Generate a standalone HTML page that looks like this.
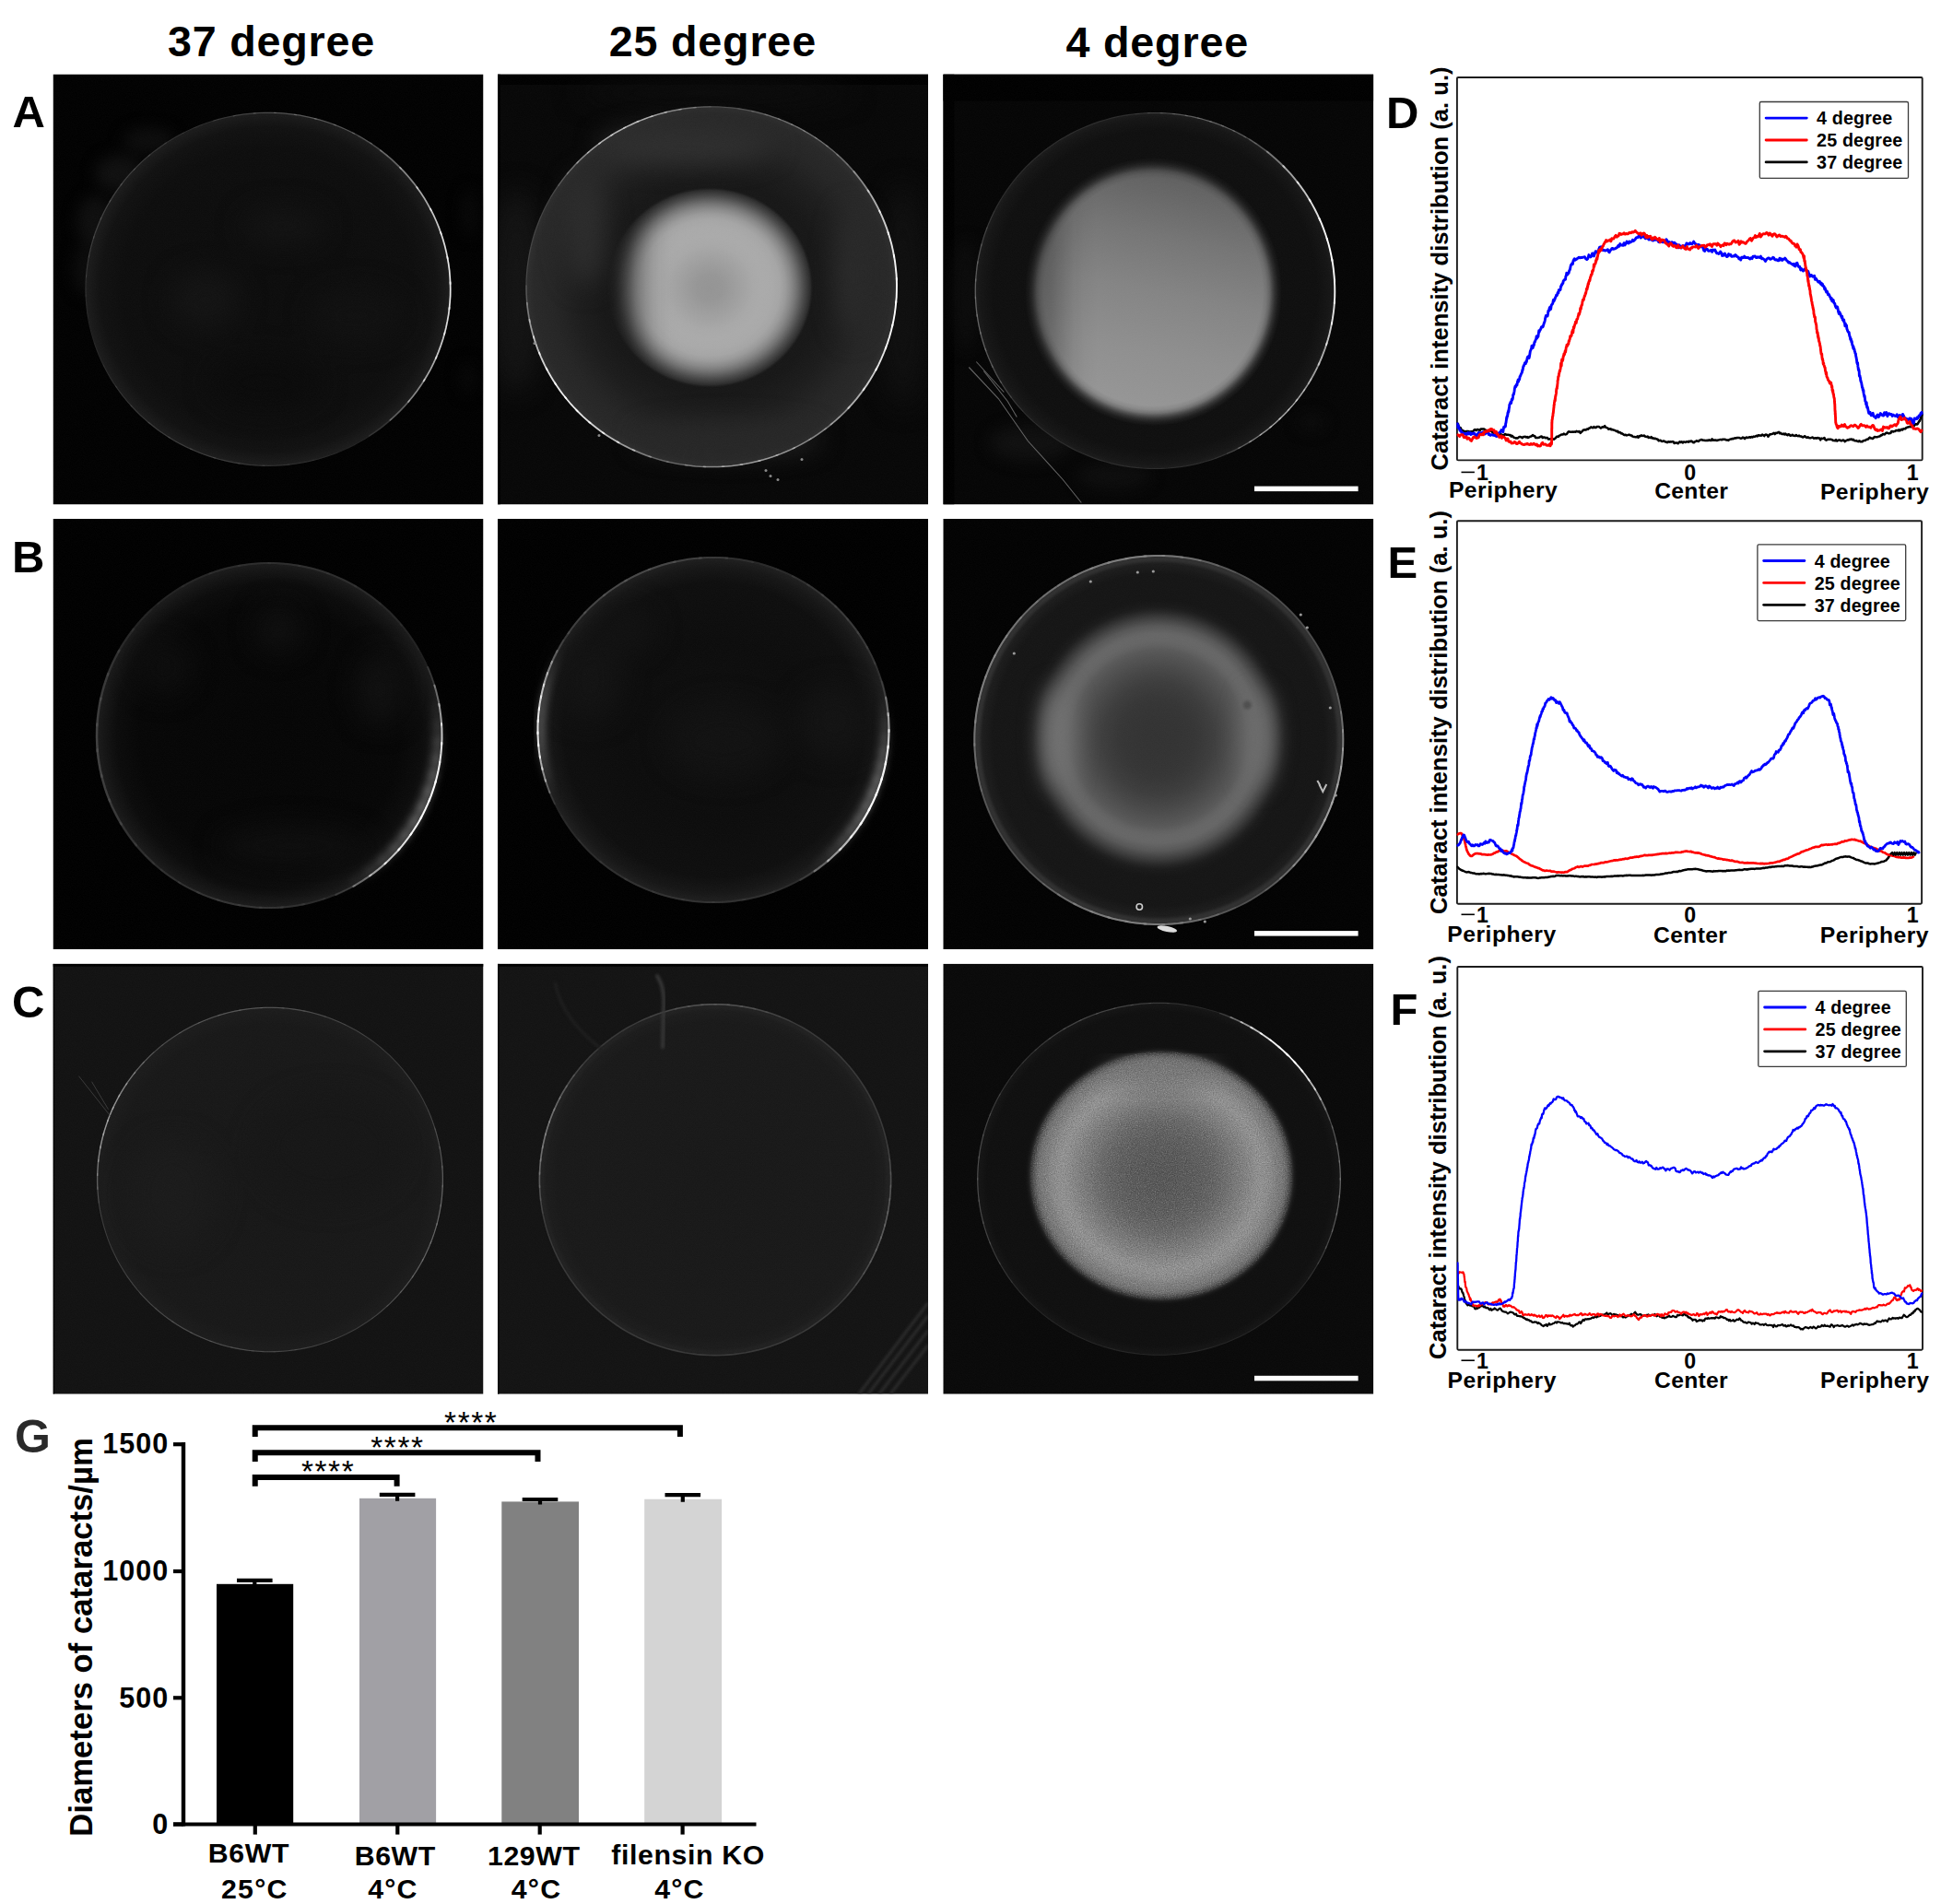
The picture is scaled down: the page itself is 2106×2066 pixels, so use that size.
<!DOCTYPE html>
<html><head><meta charset="utf-8"><title>Figure</title>
<style>
html,body{margin:0;padding:0;background:#fff}
body{width:2106px;height:2066px;overflow:hidden;position:relative;font-family:"Liberation Sans",sans-serif}
svg{position:absolute;left:0;top:0;display:block}
text{font-family:"Liberation Sans",sans-serif}
</style></head><body>
<svg width="2106" height="2066" viewBox="0 0 2106 2066">
<defs>
<filter id="b1" color-interpolation-filters="sRGB" x="-20%" y="-20%" width="140%" height="140%"><feGaussianBlur stdDeviation="0.6"/></filter>
<filter id="b2" color-interpolation-filters="sRGB" x="-20%" y="-20%" width="140%" height="140%"><feGaussianBlur stdDeviation="1.5"/></filter>
<filter id="b4" color-interpolation-filters="sRGB" x="-30%" y="-30%" width="160%" height="160%"><feGaussianBlur stdDeviation="4"/></filter>
<filter id="b8" color-interpolation-filters="sRGB" x="-50%" y="-50%" width="200%" height="200%"><feGaussianBlur stdDeviation="8"/></filter>
<filter id="b14" color-interpolation-filters="sRGB" x="-50%" y="-50%" width="200%" height="200%"><feGaussianBlur stdDeviation="14"/></filter>
<clipPath id="pc"><rect x="0" y="0" width="467" height="467"/></clipPath>
<filter id="nz" x="0" y="0" width="100%" height="100%" color-interpolation-filters="sRGB"><feTurbulence type="fractalNoise" baseFrequency="0.85" numOctaves="2" seed="7"/><feColorMatrix type="matrix" values="0 0 0 0 1  0 0 0 0 1  0 0 0 0 1  0.030 0 0 0 -0.007"/></filter>
<filter id="nzw" x="0" y="0" width="100%" height="100%" color-interpolation-filters="sRGB"><feTurbulence type="fractalNoise" baseFrequency="0.9" numOctaves="2" seed="11"/><feColorMatrix type="matrix" values="0 0 0 0 1  0 0 0 0 1  0 0 0 0 1  0.9 0 0 0 -0.33"/></filter>
<filter id="nzk" x="0" y="0" width="100%" height="100%" color-interpolation-filters="sRGB"><feTurbulence type="fractalNoise" baseFrequency="0.9" numOctaves="2" seed="23"/><feColorMatrix type="matrix" values="0 0 0 0 0  0 0 0 0 0  0 0 0 0 0  0 0.9 0 0 -0.33"/></filter>
<radialGradient id="rg1" cx="50%" cy="50%" r="50%"><stop offset="0.000" stop-color="#0c0c0c" stop-opacity="1.000"/><stop offset="0.800" stop-color="#0d0d0d" stop-opacity="1.000"/><stop offset="0.920" stop-color="#111111" stop-opacity="1.000"/><stop offset="0.972" stop-color="#181818" stop-opacity="1.000"/><stop offset="1.000" stop-color="#1c1c1c" stop-opacity="1.000"/></radialGradient>
<radialGradient id="rg2" cx="50%" cy="50%" r="50%"><stop offset="0.000" stop-color="#171717" stop-opacity="1.000"/><stop offset="0.600" stop-color="#171717" stop-opacity="1.000"/><stop offset="0.720" stop-color="#1c1c1c" stop-opacity="1.000"/><stop offset="0.860" stop-color="#252525" stop-opacity="1.000"/><stop offset="0.960" stop-color="#282828" stop-opacity="1.000"/><stop offset="1.000" stop-color="#2e2e2e" stop-opacity="1.000"/></radialGradient>
<radialGradient id="rg3" cx="50%" cy="50%" r="50%"><stop offset="0.000" stop-color="#949494" stop-opacity="1.000"/><stop offset="0.128" stop-color="#969696" stop-opacity="1.000"/><stop offset="0.275" stop-color="#9f9f9f" stop-opacity="1.000"/><stop offset="0.422" stop-color="#a8a8a8" stop-opacity="1.000"/><stop offset="0.514" stop-color="#aaaaaa" stop-opacity="1.000"/><stop offset="0.606" stop-color="#a9a9a9" stop-opacity="1.000"/><stop offset="0.679" stop-color="#a5a5a5" stop-opacity="1.000"/><stop offset="0.734" stop-color="#9a9a9a" stop-opacity="1.000"/><stop offset="0.789" stop-color="#878787" stop-opacity="1.000"/><stop offset="0.835" stop-color="#727272" stop-opacity="1.000"/><stop offset="0.872" stop-color="#5e5e5e" stop-opacity="1.000"/><stop offset="0.908" stop-color="#4a4a4a" stop-opacity="1.000"/><stop offset="0.945" stop-color="#383838" stop-opacity="1.000"/><stop offset="0.972" stop-color="#2a2a2a" stop-opacity="1.000"/><stop offset="1.000" stop-color="#1c1c1c" stop-opacity="0.000"/></radialGradient>
<linearGradient id="lg4" x1="0" y1="0" x2="1" y2="0"><stop offset="0.000" stop-color="#000" stop-opacity="1.000"/><stop offset="0.248" stop-color="#000" stop-opacity="1.000"/><stop offset="0.268" stop-color="#262626" stop-opacity="1.000"/><stop offset="0.283" stop-color="#4c4c4c" stop-opacity="1.000"/><stop offset="0.300" stop-color="#757575" stop-opacity="1.000"/><stop offset="0.321" stop-color="#a8a8a8" stop-opacity="1.000"/><stop offset="0.343" stop-color="#cfcfcf" stop-opacity="1.000"/><stop offset="0.360" stop-color="#e6e6e6" stop-opacity="1.000"/><stop offset="0.377" stop-color="#f4f4f4" stop-opacity="1.000"/><stop offset="0.398" stop-color="#fcfcfc" stop-opacity="1.000"/><stop offset="0.424" stop-color="#fff" stop-opacity="1.000"/><stop offset="1.000" stop-color="#fff" stop-opacity="1.000"/></linearGradient>
<mask id="mA2h"><rect x="0" y="0" width="467" height="467" fill="url(#lg4)"/></mask>
<radialGradient id="rg5" cx="50%" cy="50%" r="50%"><stop offset="0.000" stop-color="#0e0e0e" stop-opacity="1.000"/><stop offset="0.900" stop-color="#0f0f0f" stop-opacity="1.000"/><stop offset="0.970" stop-color="#151515" stop-opacity="1.000"/><stop offset="1.000" stop-color="#1b1b1b" stop-opacity="1.000"/></radialGradient>
<linearGradient id="lg6" x1="0.6" y1="0" x2="0.4" y2="1"><stop offset="0.000" stop-color="#565656" stop-opacity="1.000"/><stop offset="0.120" stop-color="#646464" stop-opacity="1.000"/><stop offset="0.300" stop-color="#757575" stop-opacity="1.000"/><stop offset="0.500" stop-color="#848484" stop-opacity="1.000"/><stop offset="0.720" stop-color="#8f8f8f" stop-opacity="1.000"/><stop offset="0.900" stop-color="#959595" stop-opacity="1.000"/><stop offset="1.000" stop-color="#979797" stop-opacity="1.000"/></linearGradient>
<radialGradient id="rg7" cx="50%" cy="50%" r="50%"><stop offset="0.000" stop-color="#fff" stop-opacity="1.000"/><stop offset="0.835" stop-color="#fff" stop-opacity="1.000"/><stop offset="0.865" stop-color="#e8e8e8" stop-opacity="1.000"/><stop offset="0.890" stop-color="#bcbcbc" stop-opacity="1.000"/><stop offset="0.909" stop-color="#808080" stop-opacity="1.000"/><stop offset="0.930" stop-color="#484848" stop-opacity="1.000"/><stop offset="0.955" stop-color="#1c1c1c" stop-opacity="1.000"/><stop offset="0.985" stop-color="#000" stop-opacity="1.000"/><stop offset="1.000" stop-color="#000" stop-opacity="1.000"/></radialGradient>
<mask id="mA3r"><ellipse cx="228.0" cy="236.0" rx="142" ry="148" fill="url(#rg7)"/></mask>
<linearGradient id="lg8" x1="0" y1="0" x2="1" y2="0"><stop offset="0.000" stop-color="#999" stop-opacity="1.000"/><stop offset="0.181" stop-color="#999" stop-opacity="1.000"/><stop offset="0.224" stop-color="#a6a6a6" stop-opacity="1.000"/><stop offset="0.250" stop-color="#b4b4b4" stop-opacity="1.000"/><stop offset="0.276" stop-color="#d0d0d0" stop-opacity="1.000"/><stop offset="0.303" stop-color="#ebebeb" stop-opacity="1.000"/><stop offset="0.327" stop-color="#f8f8f8" stop-opacity="1.000"/><stop offset="0.357" stop-color="#fff" stop-opacity="1.000"/><stop offset="1.000" stop-color="#fff" stop-opacity="1.000"/></linearGradient>
<mask id="mA3h"><rect x="0" y="0" width="467" height="467" fill="url(#lg8)"/></mask>
<radialGradient id="rg9" cx="50%" cy="50%" r="50%"><stop offset="0.000" stop-color="#050505" stop-opacity="1.000"/><stop offset="0.750" stop-color="#060606" stop-opacity="1.000"/><stop offset="0.880" stop-color="#0b0b0b" stop-opacity="1.000"/><stop offset="0.950" stop-color="#141414" stop-opacity="1.000"/><stop offset="1.000" stop-color="#1c1c1c" stop-opacity="1.000"/></radialGradient>
<radialGradient id="rg10" cx="50%" cy="50%" r="50%"><stop offset="0.000" stop-color="#0f0f0f" stop-opacity="1.000"/><stop offset="0.500" stop-color="#0c0c0c" stop-opacity="1.000"/><stop offset="0.850" stop-color="#0e0e0e" stop-opacity="1.000"/><stop offset="0.940" stop-color="#161616" stop-opacity="1.000"/><stop offset="1.000" stop-color="#202020" stop-opacity="1.000"/></radialGradient>
<radialGradient id="rg11" cx="50%" cy="50%" r="50%"><stop offset="0.000" stop-color="#151515" stop-opacity="1.000"/><stop offset="0.900" stop-color="#151515" stop-opacity="1.000"/><stop offset="0.960" stop-color="#1d1d1d" stop-opacity="1.000"/><stop offset="1.000" stop-color="#2a2a2a" stop-opacity="1.000"/></radialGradient>
<radialGradient id="rg12" cx="50%" cy="50%" r="50%"><stop offset="0.000" stop-color="#323232" stop-opacity="1.000"/><stop offset="0.137" stop-color="#333333" stop-opacity="1.000"/><stop offset="0.205" stop-color="#343434" stop-opacity="1.000"/><stop offset="0.260" stop-color="#353535" stop-opacity="1.000"/><stop offset="0.308" stop-color="#373737" stop-opacity="1.000"/><stop offset="0.356" stop-color="#3a3a3a" stop-opacity="1.000"/><stop offset="0.404" stop-color="#3d3d3d" stop-opacity="1.000"/><stop offset="0.452" stop-color="#424242" stop-opacity="1.000"/><stop offset="0.507" stop-color="#484848" stop-opacity="1.000"/><stop offset="0.555" stop-color="#4e4e4e" stop-opacity="1.000"/><stop offset="0.596" stop-color="#535353" stop-opacity="1.000"/><stop offset="0.637" stop-color="#595959" stop-opacity="1.000"/><stop offset="0.671" stop-color="#616161" stop-opacity="1.000"/><stop offset="0.699" stop-color="#656565" stop-opacity="1.000"/><stop offset="0.731" stop-color="#666666" stop-opacity="1.000"/><stop offset="0.753" stop-color="#656565" stop-opacity="1.000"/><stop offset="0.774" stop-color="#606060" stop-opacity="1.000"/><stop offset="0.795" stop-color="#5a5a5a" stop-opacity="1.000"/><stop offset="0.808" stop-color="#575757" stop-opacity="1.000"/><stop offset="0.829" stop-color="#4d4d4d" stop-opacity="1.000"/><stop offset="0.853" stop-color="#424242" stop-opacity="1.000"/><stop offset="0.880" stop-color="#353535" stop-opacity="1.000"/><stop offset="0.904" stop-color="#292929" stop-opacity="1.000"/><stop offset="0.925" stop-color="#202020" stop-opacity="1.000"/><stop offset="0.945" stop-color="#1a1a1a" stop-opacity="1.000"/><stop offset="0.973" stop-color="#171717" stop-opacity="1.000"/><stop offset="1.000" stop-color="#161616" stop-opacity="0.000"/></radialGradient>
<radialGradient id="rg13" cx="50%" cy="50%" r="50%"><stop offset="0.000" stop-color="#171717" stop-opacity="1.000"/><stop offset="0.900" stop-color="#181818" stop-opacity="1.000"/><stop offset="1.000" stop-color="#1c1c1c" stop-opacity="1.000"/></radialGradient>
<radialGradient id="rg14" cx="50%" cy="50%" r="50%"><stop offset="0.000" stop-color="#181818" stop-opacity="1.000"/><stop offset="0.900" stop-color="#191919" stop-opacity="1.000"/><stop offset="1.000" stop-color="#1e1e1e" stop-opacity="1.000"/></radialGradient>
<radialGradient id="rg15" cx="50%" cy="50%" r="50%"><stop offset="0.000" stop-color="#0f0f0f" stop-opacity="1.000"/><stop offset="0.950" stop-color="#0f0f0f" stop-opacity="1.000"/><stop offset="1.000" stop-color="#151515" stop-opacity="1.000"/></radialGradient>
<radialGradient id="rg16" cx="50%" cy="50%" r="50%"><stop offset="0.000" stop-color="#545454" stop-opacity="1.000"/><stop offset="0.103" stop-color="#565656" stop-opacity="1.000"/><stop offset="0.226" stop-color="#595959" stop-opacity="1.000"/><stop offset="0.308" stop-color="#5d5d5d" stop-opacity="1.000"/><stop offset="0.377" stop-color="#626262" stop-opacity="1.000"/><stop offset="0.425" stop-color="#676767" stop-opacity="1.000"/><stop offset="0.479" stop-color="#6e6e6e" stop-opacity="1.000"/><stop offset="0.534" stop-color="#777777" stop-opacity="1.000"/><stop offset="0.589" stop-color="#7f7f7f" stop-opacity="1.000"/><stop offset="0.637" stop-color="#878787" stop-opacity="1.000"/><stop offset="0.685" stop-color="#8f8f8f" stop-opacity="1.000"/><stop offset="0.726" stop-color="#939393" stop-opacity="1.000"/><stop offset="0.760" stop-color="#909090" stop-opacity="1.000"/><stop offset="0.798" stop-color="#8b8b8b" stop-opacity="1.000"/><stop offset="0.836" stop-color="#808080" stop-opacity="1.000"/><stop offset="0.873" stop-color="#797979" stop-opacity="1.000"/><stop offset="0.901" stop-color="#6e6e6e" stop-opacity="1.000"/><stop offset="0.921" stop-color="#5a5a5a" stop-opacity="1.000"/><stop offset="0.938" stop-color="#424242" stop-opacity="1.000"/><stop offset="0.953" stop-color="#2c2c2c" stop-opacity="1.000"/><stop offset="0.968" stop-color="#191919" stop-opacity="1.000"/><stop offset="0.983" stop-color="#111111" stop-opacity="1.000"/><stop offset="1.000" stop-color="#101010" stop-opacity="0.000"/></radialGradient>
<clipPath id="cC3"><ellipse cx="236.8" cy="230.0" rx="142.5" ry="134.9"/></clipPath>
<clipPath id="cpD"><rect x="1580.3" y="84.0" width="506.6" height="415.4"/></clipPath>
<clipPath id="cpE"><rect x="1580.3" y="565.2" width="506.0" height="415.5"/></clipPath>
<clipPath id="cpF"><rect x="1580.7" y="1049.0" width="506.5" height="415.8"/></clipPath>
</defs>
<g transform="translate(57.5,80.5)" clip-path="url(#pc)">
<rect x="0" y="0" width="467" height="467" fill="#010101"/>
<g filter="url(#b8)">
<ellipse cx="72.0" cy="108.0" rx="26.0" ry="20.0" fill="#0f0f0f" />
<ellipse cx="46.0" cy="160.0" rx="20.0" ry="28.0" fill="#0e0e0e" />
<ellipse cx="104.0" cy="72.0" rx="28.0" ry="14.0" fill="#0c0c0c" />
<ellipse cx="36.0" cy="212.0" rx="14.0" ry="28.0" fill="#0b0b0b" />
<ellipse cx="452.0" cy="150.0" rx="8.0" ry="26.0" fill="#080808" />
<ellipse cx="450.0" cy="330.0" rx="8.0" ry="18.0" fill="#070707" />
</g>
<ellipse cx="233.5" cy="233.3" rx="198.0" ry="191.5" fill="url(#rg1)" />
<g filter="url(#b14)">
<ellipse cx="250.0" cy="165.0" rx="45.0" ry="20.0" fill="#121212" />
<ellipse cx="165.0" cy="245.0" rx="38.0" ry="32.0" fill="#131313" />
<ellipse cx="330.0" cy="262.0" rx="50.0" ry="30.0" fill="#101010" />
<ellipse cx="230.0" cy="335.0" rx="60.0" ry="30.0" fill="#0a0a0a" />
</g>
<path d="M431.5 233.3 L431.4 240.0 L431.0 246.7 L430.4 253.3 L429.6 260.0 L428.5 266.6 L427.2 273.1 L425.6 279.6 L423.8 286.1 L421.8 292.5 L419.6 298.8 L417.1 305.0 L414.4 311.2 L411.5 317.2 L408.3 323.2 L405.0 329.1 L401.4 334.8 L397.6 340.4 L393.7 345.9 L389.5 351.2 L385.2 356.4 L380.6 361.4 L375.9 366.3 L371.0 371.1 L366.0 375.6 L360.8 380.0 L355.4 384.2 L349.9 388.2 L344.2 392.1 L338.4 395.7 L332.5 399.1 L326.5 402.4 L320.3 405.4 L314.0 408.2 L307.7 410.9 L301.2 413.3 L294.7 415.4 L288.1 417.4 L281.4 419.1 L274.7 420.6 L267.9 421.9 L261.1 422.9 L254.2 423.8 L247.3 424.3 L240.4 424.7 L233.5 424.8 L226.6 424.7 L219.7 424.3 L212.8 423.8 L205.9 422.9 L199.1 421.9 L192.3 420.6 L185.6 419.1 L178.9 417.4 L172.3 415.4 L165.8 413.3 L159.3 410.9 L153.0 408.2 L146.7 405.4 L140.5 402.4 L134.5 399.1 L128.6 395.7 L122.8 392.1 L117.1 388.2 L111.6 384.2 L106.2 380.0 L101.0 375.6 L96.0 371.1 L91.1 366.3 L86.4 361.4 L81.8 356.4 L77.5 351.2 L73.3 345.9 L69.4 340.4 L65.6 334.8 L62.0 329.1 L58.7 323.2 L55.5 317.2 L52.6 311.2 L49.9 305.0 L47.4 298.8 L45.2 292.5 L43.2 286.1 L41.4 279.6 L39.8 273.1 L38.5 266.6 L37.4 260.0 L36.6 253.3 L36.0 246.7 L35.6 240.0 L35.5 233.3 L35.6 226.6 L36.0 219.9 L36.6 213.3 L37.4 206.6 L38.5 200.0 L39.8 193.5 L41.4 187.0 L43.2 180.5 L45.2 174.1 L47.4 167.8 L49.9 161.6 L52.6 155.4 L55.5 149.4 L58.7 143.4 L62.0 137.6 L65.6 131.8 L69.4 126.2 L73.3 120.7 L77.5 115.4 L81.8 110.2 L86.4 105.2 L91.1 100.3 L96.0 95.5 L101.0 91.0 L106.2 86.6 L111.6 82.4 L117.1 78.4 L122.8 74.5 L128.6 70.9 L134.5 67.5 L140.5 64.2 L146.7 61.2 L153.0 58.4 L159.3 55.7 L165.8 53.3 L172.3 51.2 L178.9 49.2 L185.6 47.5 L192.3 46.0 L199.1 44.7 L205.9 43.7 L212.8 42.8 L219.7 42.3 L226.6 41.9 L233.5 41.8 L240.4 41.9 L247.3 42.3 L254.2 42.8 L261.1 43.7 L267.9 44.7 L274.7 46.0 L281.4 47.5 L288.1 49.2 L294.7 51.2 L301.2 53.3 L307.7 55.7 L314.0 58.4 L320.3 61.2 L326.5 64.2 L332.5 67.5 L338.4 70.9 L344.2 74.5 L349.9 78.4 L355.4 82.4 L360.8 86.6 L366.0 91.0 L371.0 95.5 L375.9 100.3 L380.6 105.2 L385.2 110.2 L389.5 115.4 L393.7 120.7 L397.6 126.2 L401.4 131.8 L405.0 137.5 L408.3 143.4 L411.5 149.4 L414.4 155.4 L417.1 161.6 L419.6 167.8 L421.8 174.1 L423.8 180.5 L425.6 187.0 L427.2 193.5 L428.5 200.0 L429.6 206.6 L430.4 213.3 L431.0 219.9 L431.4 226.6 L431.5 233.3" fill="none" stroke="#222222" stroke-width="1.20" stroke-opacity="1.000" stroke-linecap="round" filter="url(#b1)"/>
<g filter="url(#b1)"><path d="M331.5 67.2 L338.0 71.0 L344.5 75.1 L350.7 79.3 L356.8 83.8" fill="none" stroke="#f4f4f4" stroke-width="1.70" stroke-opacity="0.085" stroke-linecap="round" /><path d="M355.2 82.6 L361.1 87.3 L366.9 92.2 L372.4 97.3 L377.8 102.6" fill="none" stroke="#f4f4f4" stroke-width="1.70" stroke-opacity="0.281" stroke-linecap="round" /><path d="M376.4 101.1 L381.6 106.6 L386.5 112.2 L391.3 118.1 L395.8 124.1" fill="none" stroke="#f4f4f4" stroke-width="1.70" stroke-opacity="0.475" stroke-linecap="round" /><path d="M394.6 122.4 L398.9 128.5 L403.0 134.8 L406.8 141.3 L410.3 147.8" fill="none" stroke="#f4f4f4" stroke-width="1.70" stroke-opacity="0.649" stroke-linecap="round" /><path d="M409.4 146.0 L412.8 152.7 L415.9 159.5 L418.7 166.4 L421.2 173.4" fill="none" stroke="#f4f4f4" stroke-width="1.70" stroke-opacity="0.791" stroke-linecap="round" /><path d="M420.6 171.5 L422.9 178.5 L425.0 185.7 L426.7 192.9 L428.2 200.1" fill="none" stroke="#f4f4f4" stroke-width="1.70" stroke-opacity="0.892" stroke-linecap="round" /><path d="M427.8 198.2 L429.1 205.5 L430.1 212.8 L430.7 220.2 L431.1 227.6" fill="none" stroke="#f4f4f4" stroke-width="1.70" stroke-opacity="0.943" stroke-linecap="round" /><path d="M431.0 225.6 L431.2 233.0 L431.1 240.4 L430.6 247.8 L429.9 255.2" fill="none" stroke="#f4f4f4" stroke-width="1.70" stroke-opacity="0.943" stroke-linecap="round" /><path d="M430.1 253.2 L429.2 260.6 L427.9 267.9 L426.4 275.2 L424.6 282.4" fill="none" stroke="#f4f4f4" stroke-width="1.70" stroke-opacity="0.892" stroke-linecap="round" /><path d="M425.1 280.4 L423.1 287.6 L420.7 294.6 L418.1 301.6 L415.3 308.5" fill="none" stroke="#f4f4f4" stroke-width="1.70" stroke-opacity="0.791" stroke-linecap="round" /><path d="M416.1 306.6 L413.0 313.4 L409.7 320.1 L406.0 326.6 L402.2 333.0" fill="none" stroke="#f4f4f4" stroke-width="1.70" stroke-opacity="0.649" stroke-linecap="round" /><path d="M403.2 331.3 L399.2 337.6 L394.9 343.7 L390.3 349.7 L385.5 355.5" fill="none" stroke="#f4f4f4" stroke-width="1.70" stroke-opacity="0.475" stroke-linecap="round" /><path d="M386.9 354.0 L381.9 359.6 L376.7 365.1 L371.3 370.4 L365.8 375.4" fill="none" stroke="#f4f4f4" stroke-width="1.70" stroke-opacity="0.281" stroke-linecap="round" /><path d="M367.3 374.1 L361.5 379.0 L355.6 383.7 L349.5 388.1 L343.2 392.4" fill="none" stroke="#f4f4f4" stroke-width="1.70" stroke-opacity="0.085" stroke-linecap="round" /></g>
<g ><path d="M133.6 68.0 L138.9 65.1 L144.3 62.3 L149.7 59.8 L155.3 57.4" fill="none" stroke="#8a8a8a" stroke-width="1.20" stroke-opacity="0.019" stroke-linecap="round" /><path d="M153.4 58.2 L159.0 55.9 L164.6 53.8 L170.3 51.8 L176.1 50.0" fill="none" stroke="#8a8a8a" stroke-width="1.20" stroke-opacity="0.095" stroke-linecap="round" /><path d="M174.1 50.6 L180.0 48.9 L185.8 47.4 L191.8 46.1 L197.7 45.0" fill="none" stroke="#8a8a8a" stroke-width="1.20" stroke-opacity="0.194" stroke-linecap="round" /><path d="M195.7 45.3 L201.6 44.3 L207.7 43.4 L213.7 42.8 L219.7 42.3" fill="none" stroke="#8a8a8a" stroke-width="1.20" stroke-opacity="0.297" stroke-linecap="round" /><path d="M217.7 42.4 L223.7 42.0 L229.8 41.8 L235.9 41.8 L241.9 42.0" fill="none" stroke="#8a8a8a" stroke-width="1.20" stroke-opacity="0.390" stroke-linecap="round" /><path d="M239.9 41.9 L245.9 42.2 L252.0 42.6 L258.0 43.3 L264.0 44.1" fill="none" stroke="#8a8a8a" stroke-width="1.20" stroke-opacity="0.459" stroke-linecap="round" /><path d="M262.0 43.8 L268.0 44.7 L273.9 45.8 L279.9 47.1 L285.7 48.6" fill="none" stroke="#8a8a8a" stroke-width="1.20" stroke-opacity="0.495" stroke-linecap="round" /><path d="M283.7 48.1 L289.6 49.6 L295.4 51.4 L301.1 53.3 L306.8 55.4" fill="none" stroke="#8a8a8a" stroke-width="1.20" stroke-opacity="0.495" stroke-linecap="round" /><path d="M304.9 54.7 L310.5 56.9 L316.1 59.2 L321.5 61.8 L326.9 64.5" fill="none" stroke="#8a8a8a" stroke-width="1.20" stroke-opacity="0.459" stroke-linecap="round" /><path d="M325.1 63.5 L330.4 66.3 L335.7 69.3 L340.8 72.4 L345.9 75.6" fill="none" stroke="#8a8a8a" stroke-width="1.20" stroke-opacity="0.390" stroke-linecap="round" /><path d="M344.2 74.5 L349.2 77.9 L354.0 81.4 L358.8 85.0 L363.4 88.8" fill="none" stroke="#8a8a8a" stroke-width="1.20" stroke-opacity="0.297" stroke-linecap="round" /><path d="M361.9 87.5 L366.4 91.4 L370.9 95.4 L375.2 99.5 L379.3 103.8" fill="none" stroke="#8a8a8a" stroke-width="1.20" stroke-opacity="0.194" stroke-linecap="round" /><path d="M377.9 102.3 L382.0 106.7 L386.0 111.1 L389.8 115.7 L393.4 120.4" fill="none" stroke="#8a8a8a" stroke-width="1.20" stroke-opacity="0.095" stroke-linecap="round" /><path d="M392.2 118.8 L395.7 123.5 L399.2 128.4 L402.4 133.4 L405.5 138.4" fill="none" stroke="#8a8a8a" stroke-width="1.20" stroke-opacity="0.019" stroke-linecap="round" /></g>
<g ><path d="M42.5 283.8 L41.0 278.1 L39.7 272.4 L38.5 266.6 L37.6 260.8" fill="none" stroke="#6a6a6a" stroke-width="1.20" stroke-opacity="0.017" stroke-linecap="round" /><path d="M37.9 262.8 L37.0 257.0 L36.4 251.2 L35.9 245.3 L35.6 239.5" fill="none" stroke="#6a6a6a" stroke-width="1.20" stroke-opacity="0.085" stroke-linecap="round" /><path d="M35.7 241.5 L35.5 235.6 L35.5 229.7 L35.7 223.8 L36.1 218.0" fill="none" stroke="#6a6a6a" stroke-width="1.20" stroke-opacity="0.175" stroke-linecap="round" /><path d="M36.0 220.0 L36.5 214.1 L37.2 208.3 L38.1 202.5 L39.1 196.7" fill="none" stroke="#6a6a6a" stroke-width="1.20" stroke-opacity="0.268" stroke-linecap="round" /><path d="M38.8 198.7 L40.0 192.9 L41.3 187.2 L42.9 181.5 L44.6 175.9" fill="none" stroke="#6a6a6a" stroke-width="1.20" stroke-opacity="0.351" stroke-linecap="round" /><path d="M44.0 177.8 L45.8 172.2 L47.9 166.7 L50.1 161.2 L52.4 155.8" fill="none" stroke="#6a6a6a" stroke-width="1.20" stroke-opacity="0.413" stroke-linecap="round" /><path d="M51.6 157.6 L54.1 152.3 L56.7 147.0 L59.6 141.8 L62.5 136.7" fill="none" stroke="#6a6a6a" stroke-width="1.20" stroke-opacity="0.446" stroke-linecap="round" /><path d="M61.5 138.4 L64.6 133.4 L67.8 128.4 L71.3 123.5 L74.8 118.8" fill="none" stroke="#6a6a6a" stroke-width="1.20" stroke-opacity="0.446" stroke-linecap="round" /><path d="M73.6 120.4 L77.2 115.7 L81.0 111.1 L85.0 106.7 L89.1 102.3" fill="none" stroke="#6a6a6a" stroke-width="1.20" stroke-opacity="0.413" stroke-linecap="round" /><path d="M87.7 103.8 L91.8 99.5 L96.1 95.4 L100.6 91.4 L105.1 87.5" fill="none" stroke="#6a6a6a" stroke-width="1.20" stroke-opacity="0.351" stroke-linecap="round" /><path d="M103.6 88.8 L108.2 85.0 L113.0 81.4 L117.8 77.9 L122.8 74.5" fill="none" stroke="#6a6a6a" stroke-width="1.20" stroke-opacity="0.268" stroke-linecap="round" /><path d="M121.1 75.6 L126.2 72.4 L131.3 69.3 L136.6 66.3 L141.9 63.5" fill="none" stroke="#6a6a6a" stroke-width="1.20" stroke-opacity="0.175" stroke-linecap="round" /><path d="M140.1 64.5 L145.5 61.8 L150.9 59.2 L156.5 56.9 L162.1 54.7" fill="none" stroke="#6a6a6a" stroke-width="1.20" stroke-opacity="0.085" stroke-linecap="round" /><path d="M160.2 55.4 L165.9 53.3 L171.6 51.4 L177.4 49.6 L183.3 48.1" fill="none" stroke="#6a6a6a" stroke-width="1.20" stroke-opacity="0.017" stroke-linecap="round" /></g>
<g ><path d="M333.4 398.6 L327.0 402.1 L320.5 405.3 L313.9 408.3 L307.2 411.1" fill="none" stroke="#5a5a5a" stroke-width="1.20" stroke-opacity="0.017" stroke-linecap="round" /><path d="M309.1 410.3 L302.3 412.9 L295.4 415.2 L288.4 417.3 L281.4 419.1" fill="none" stroke="#5a5a5a" stroke-width="1.20" stroke-opacity="0.085" stroke-linecap="round" /><path d="M283.4 418.6 L276.3 420.3 L269.1 421.7 L261.9 422.8 L254.6 423.7" fill="none" stroke="#5a5a5a" stroke-width="1.20" stroke-opacity="0.175" stroke-linecap="round" /><path d="M256.7 423.5 L249.4 424.2 L242.1 424.6 L234.8 424.8 L227.5 424.7" fill="none" stroke="#5a5a5a" stroke-width="1.20" stroke-opacity="0.268" stroke-linecap="round" /><path d="M229.6 424.8 L222.3 424.5 L215.0 424.0 L207.8 423.2 L200.5 422.1" fill="none" stroke="#5a5a5a" stroke-width="1.20" stroke-opacity="0.351" stroke-linecap="round" /><path d="M202.6 422.4 L195.4 421.2 L188.2 419.7 L181.2 418.0 L174.1 416.0" fill="none" stroke="#5a5a5a" stroke-width="1.20" stroke-opacity="0.413" stroke-linecap="round" /><path d="M176.1 416.6 L169.2 414.4 L162.3 412.0 L155.5 409.3 L148.9 406.4" fill="none" stroke="#5a5a5a" stroke-width="1.20" stroke-opacity="0.446" stroke-linecap="round" /><path d="M150.8 407.3 L144.2 404.2 L137.7 400.9 L131.4 397.4 L125.2 393.6" fill="none" stroke="#5a5a5a" stroke-width="1.20" stroke-opacity="0.446" stroke-linecap="round" /><path d="M126.9 394.7 L120.9 390.8 L114.9 386.7 L109.2 382.3 L103.6 377.8" fill="none" stroke="#5a5a5a" stroke-width="1.20" stroke-opacity="0.413" stroke-linecap="round" /><path d="M105.1 379.1 L99.7 374.4 L94.4 369.6 L89.3 364.5 L84.4 359.3" fill="none" stroke="#5a5a5a" stroke-width="1.20" stroke-opacity="0.351" stroke-linecap="round" /><path d="M85.7 360.8 L81.0 355.4 L76.4 349.9 L72.1 344.2 L68.0 338.4" fill="none" stroke="#5a5a5a" stroke-width="1.20" stroke-opacity="0.268" stroke-linecap="round" /><path d="M69.1 340.0 L65.1 334.1 L61.4 328.0 L57.9 321.8 L54.7 315.5" fill="none" stroke="#5a5a5a" stroke-width="1.20" stroke-opacity="0.175" stroke-linecap="round" /><path d="M55.6 317.3 L52.5 310.9 L49.6 304.4 L47.1 297.8 L44.7 291.1" fill="none" stroke="#5a5a5a" stroke-width="1.20" stroke-opacity="0.085" stroke-linecap="round" /><path d="M45.4 293.0 L43.2 286.2 L41.3 279.4 L39.7 272.5 L38.3 265.6" fill="none" stroke="#5a5a5a" stroke-width="1.20" stroke-opacity="0.017" stroke-linecap="round" /></g>
<rect x="0" y="0" width="467" height="467" filter="url(#nz)"/>
</g>
<g transform="translate(540.0,80.5)" clip-path="url(#pc)">
<rect x="0" y="0" width="467" height="467" fill="#070707"/>
<rect x="0" y="0" width="467" height="11.5" fill="#000"/><rect x="0" y="0" width="3" height="467" fill="#000"/>
<g filter="url(#b14)">
<ellipse cx="20.0" cy="235.0" rx="30.0" ry="110.0" fill="#131313" />
<ellipse cx="440.0" cy="240.0" rx="26.0" ry="120.0" fill="#0f0f0f" />
<ellipse cx="235.0" cy="20.0" rx="150.0" ry="14.0" fill="#0b0b0b" />
</g>
<ellipse cx="232.0" cy="230.7" rx="201.0" ry="195.4" fill="url(#rg2)" />
<g filter="url(#b14)">
<ellipse cx="205.0" cy="78.0" rx="95.0" ry="20.0" fill="#2f2f2f" />
<ellipse cx="95.0" cy="170.0" rx="22.0" ry="60.0" fill="#2c2c2c" />
<ellipse cx="385.0" cy="215.0" rx="18.0" ry="70.0" fill="#2a2a2a" />
<ellipse cx="250.0" cy="395.0" rx="100.0" ry="16.0" fill="#272727" />
</g>
<g mask="url(#mA2h)">
<ellipse cx="230.0" cy="231.5" rx="112.5" ry="109.0" fill="url(#rg3)" />
</g>
<path d="M433.0 230.7 L432.9 237.5 L432.5 244.3 L431.9 251.1 L431.0 257.9 L429.9 264.6 L428.6 271.3 L427.0 278.0 L425.2 284.6 L423.2 291.1 L420.9 297.5 L418.4 303.9 L415.6 310.2 L412.7 316.4 L409.5 322.4 L406.1 328.4 L402.5 334.2 L398.6 340.0 L394.6 345.6 L390.4 351.0 L386.0 356.3 L381.4 361.4 L376.6 366.4 L371.6 371.3 L366.5 375.9 L361.2 380.4 L355.7 384.7 L350.1 388.8 L344.4 392.7 L338.5 396.4 L332.5 399.9 L326.4 403.2 L320.1 406.3 L313.8 409.2 L307.3 411.9 L300.7 414.3 L294.1 416.5 L287.4 418.5 L280.6 420.3 L273.8 421.8 L266.9 423.1 L260.0 424.2 L253.0 425.0 L246.0 425.6 L239.0 426.0 L232.0 426.1 L225.0 426.0 L218.0 425.6 L211.0 425.0 L204.0 424.2 L197.1 423.1 L190.2 421.8 L183.4 420.3 L176.6 418.5 L169.9 416.5 L163.3 414.3 L156.7 411.9 L150.2 409.2 L143.9 406.3 L137.6 403.2 L131.5 399.9 L125.5 396.4 L119.6 392.7 L113.9 388.8 L108.3 384.7 L102.8 380.4 L97.5 375.9 L92.4 371.3 L87.4 366.4 L82.6 361.4 L78.0 356.3 L73.6 351.0 L69.4 345.6 L65.4 340.0 L61.5 334.2 L57.9 328.4 L54.5 322.4 L51.3 316.4 L48.4 310.2 L45.6 303.9 L43.1 297.5 L40.8 291.1 L38.8 284.6 L37.0 278.0 L35.4 271.3 L34.1 264.6 L33.0 257.9 L32.1 251.1 L31.5 244.3 L31.1 237.5 L31.0 230.7 L31.1 223.9 L31.5 217.1 L32.1 210.3 L33.0 203.5 L34.1 196.8 L35.4 190.1 L37.0 183.4 L38.8 176.8 L40.8 170.3 L43.1 163.9 L45.6 157.5 L48.4 151.2 L51.3 145.0 L54.5 139.0 L57.9 133.0 L61.5 127.2 L65.4 121.4 L69.4 115.8 L73.6 110.4 L78.0 105.1 L82.6 100.0 L87.4 95.0 L92.4 90.1 L97.5 85.5 L102.8 81.0 L108.3 76.7 L113.9 72.6 L119.6 68.7 L125.5 65.0 L131.5 61.5 L137.6 58.2 L143.9 55.1 L150.2 52.2 L156.7 49.5 L163.3 47.1 L169.9 44.9 L176.6 42.9 L183.4 41.1 L190.2 39.6 L197.1 38.3 L204.0 37.2 L211.0 36.4 L218.0 35.8 L225.0 35.4 L232.0 35.3 L239.0 35.4 L246.0 35.8 L253.0 36.4 L260.0 37.2 L266.9 38.3 L273.8 39.6 L280.6 41.1 L287.4 42.9 L294.1 44.9 L300.7 47.1 L307.3 49.5 L313.8 52.2 L320.1 55.1 L326.4 58.2 L332.5 61.5 L338.5 65.0 L344.4 68.7 L350.1 72.6 L355.7 76.7 L361.2 81.0 L366.5 85.5 L371.6 90.1 L376.6 95.0 L381.4 100.0 L386.0 105.1 L390.4 110.4 L394.6 115.8 L398.6 121.4 L402.5 127.2 L406.1 133.0 L409.5 139.0 L412.7 145.0 L415.6 151.2 L418.4 157.5 L420.9 163.9 L423.2 170.3 L425.2 176.8 L427.0 183.4 L428.6 190.1 L429.9 196.8 L431.0 203.5 L431.9 210.3 L432.5 217.1 L432.9 223.9 L433.0 230.7" fill="none" stroke="#444444" stroke-width="1.30" stroke-opacity="1.000" stroke-linecap="round" filter="url(#b1)"/>
<g filter="url(#b1)"><path d="M368.3 87.1 L373.4 91.8 L378.3 96.7 L383.1 101.8 L387.6 107.0" fill="none" stroke="#ffffff" stroke-width="1.90" stroke-opacity="0.139" stroke-linecap="round" /><path d="M386.3 105.4 L390.7 110.8 L394.9 116.2 L398.9 121.9 L402.7 127.6" fill="none" stroke="#ffffff" stroke-width="1.90" stroke-opacity="0.369" stroke-linecap="round" /><path d="M401.6 125.9 L405.3 131.7 L408.8 137.7 L412.0 143.8 L415.0 149.9" fill="none" stroke="#ffffff" stroke-width="1.90" stroke-opacity="0.567" stroke-linecap="round" /><path d="M414.1 148.1 L417.0 154.3 L419.6 160.7 L422.1 167.1 L424.2 173.6" fill="none" stroke="#ffffff" stroke-width="1.90" stroke-opacity="0.732" stroke-linecap="round" /><path d="M423.6 171.7 L425.6 178.2 L427.4 184.8 L428.9 191.5 L430.2 198.3" fill="none" stroke="#ffffff" stroke-width="1.90" stroke-opacity="0.861" stroke-linecap="round" /><path d="M429.8 196.2 L431.0 203.0 L431.8 209.8 L432.5 216.6 L432.9 223.4" fill="none" stroke="#ffffff" stroke-width="1.90" stroke-opacity="0.949" stroke-linecap="round" /><path d="M432.8 221.4 L433.0 228.2 L432.9 235.1 L432.7 241.9 L432.1 248.7" fill="none" stroke="#ffffff" stroke-width="1.90" stroke-opacity="0.994" stroke-linecap="round" /><path d="M432.3 246.7 L431.6 253.5 L430.7 260.3 L429.5 267.1 L428.1 273.8" fill="none" stroke="#ffffff" stroke-width="1.90" stroke-opacity="0.994" stroke-linecap="round" /><path d="M428.5 271.8 L426.9 278.4 L425.1 285.0 L423.0 291.6 L420.7 298.0" fill="none" stroke="#ffffff" stroke-width="1.90" stroke-opacity="0.949" stroke-linecap="round" /><path d="M421.4 296.1 L418.9 302.5 L416.2 308.8 L413.3 315.1 L410.2 321.2" fill="none" stroke="#ffffff" stroke-width="1.90" stroke-opacity="0.861" stroke-linecap="round" /><path d="M411.1 319.4 L407.8 325.4 L404.3 331.3 L400.6 337.1 L396.6 342.8" fill="none" stroke="#ffffff" stroke-width="1.90" stroke-opacity="0.732" stroke-linecap="round" /><path d="M397.8 341.1 L393.7 346.7 L389.5 352.1 L385.0 357.4 L380.3 362.6" fill="none" stroke="#ffffff" stroke-width="1.90" stroke-opacity="0.567" stroke-linecap="round" /><path d="M381.7 361.0 L377.0 366.1 L372.0 370.9 L366.8 375.6 L361.5 380.1" fill="none" stroke="#ffffff" stroke-width="1.90" stroke-opacity="0.369" stroke-linecap="round" /><path d="M363.1 378.8 L357.7 383.2 L352.2 387.3 L346.4 391.3 L340.6 395.1" fill="none" stroke="#ffffff" stroke-width="1.90" stroke-opacity="0.139" stroke-linecap="round" /></g>
<g filter="url(#b1)"><path d="M184.4 420.5 L179.3 419.3 L174.2 417.8 L169.1 416.3 L164.1 414.6" fill="none" stroke="#ffffff" stroke-width="1.80" stroke-opacity="0.101" stroke-linecap="round" /><path d="M166.1 415.3 L161.2 413.6 L156.2 411.7 L151.4 409.7 L146.6 407.6" fill="none" stroke="#ffffff" stroke-width="1.80" stroke-opacity="0.297" stroke-linecap="round" /><path d="M148.5 408.4 L143.7 406.2 L139.0 403.9 L134.3 401.5 L129.7 398.9" fill="none" stroke="#ffffff" stroke-width="1.80" stroke-opacity="0.479" stroke-linecap="round" /><path d="M131.5 399.9 L127.0 397.3 L122.5 394.6 L118.1 391.7 L113.8 388.8" fill="none" stroke="#ffffff" stroke-width="1.80" stroke-opacity="0.636" stroke-linecap="round" /><path d="M115.5 389.9 L111.3 386.9 L107.1 383.8 L103.0 380.5 L99.0 377.2" fill="none" stroke="#ffffff" stroke-width="1.80" stroke-opacity="0.762" stroke-linecap="round" /><path d="M100.5 378.5 L96.6 375.1 L92.7 371.6 L89.0 368.0 L85.3 364.3" fill="none" stroke="#ffffff" stroke-width="1.80" stroke-opacity="0.849" stroke-linecap="round" /><path d="M86.8 365.8 L83.1 362.0 L79.6 358.2 L76.3 354.2 L73.0 350.2" fill="none" stroke="#ffffff" stroke-width="1.80" stroke-opacity="0.894" stroke-linecap="round" /><path d="M74.3 351.8 L71.0 347.7 L67.9 343.6 L64.9 339.3 L62.0 335.0" fill="none" stroke="#ffffff" stroke-width="1.80" stroke-opacity="0.894" stroke-linecap="round" /><path d="M63.2 336.8 L60.4 332.4 L57.7 328.0 L55.1 323.5 L52.7 318.9" fill="none" stroke="#ffffff" stroke-width="1.80" stroke-opacity="0.849" stroke-linecap="round" /><path d="M53.6 320.8 L51.2 316.2 L49.0 311.5 L46.9 306.8 L44.9 302.0" fill="none" stroke="#ffffff" stroke-width="1.80" stroke-opacity="0.762" stroke-linecap="round" /><path d="M45.7 303.9 L43.7 299.2 L42.0 294.3 L40.3 289.4 L38.8 284.5" fill="none" stroke="#ffffff" stroke-width="1.80" stroke-opacity="0.636" stroke-linecap="round" /><path d="M39.4 286.5 L37.9 281.5 L36.6 276.6 L35.4 271.5 L34.4 266.5" fill="none" stroke="#ffffff" stroke-width="1.80" stroke-opacity="0.479" stroke-linecap="round" /><path d="M34.8 268.5 L33.8 263.5 L33.0 258.4 L32.3 253.3 L31.8 248.2" fill="none" stroke="#ffffff" stroke-width="1.80" stroke-opacity="0.297" stroke-linecap="round" /><path d="M32.0 250.2 L31.5 245.1 L31.2 240.0 L31.0 234.8 L31.0 229.7" fill="none" stroke="#ffffff" stroke-width="1.80" stroke-opacity="0.101" stroke-linecap="round" /></g>
<g ><path d="M57.4 133.9 L59.7 130.1 L62.1 126.3 L64.5 122.6 L67.1 119.0" fill="none" stroke="#d0d0d0" stroke-width="1.50" stroke-opacity="0.030" stroke-linecap="round" /><path d="M65.9 120.7 L68.5 117.1 L71.2 113.5 L73.9 110.0 L76.8 106.6" fill="none" stroke="#d0d0d0" stroke-width="1.50" stroke-opacity="0.152" stroke-linecap="round" /><path d="M75.4 108.1 L78.3 104.7 L81.3 101.4 L84.3 98.1 L87.4 94.9" fill="none" stroke="#d0d0d0" stroke-width="1.50" stroke-opacity="0.310" stroke-linecap="round" /><path d="M86.0 96.4 L89.1 93.2 L92.4 90.1 L95.7 87.1 L99.0 84.2" fill="none" stroke="#d0d0d0" stroke-width="1.50" stroke-opacity="0.476" stroke-linecap="round" /><path d="M97.5 85.5 L100.9 82.6 L104.3 79.8 L107.9 77.0 L111.5 74.3" fill="none" stroke="#d0d0d0" stroke-width="1.50" stroke-opacity="0.623" stroke-linecap="round" /><path d="M109.8 75.6 L113.4 72.9 L117.1 70.4 L120.9 67.9 L124.7 65.5" fill="none" stroke="#d0d0d0" stroke-width="1.50" stroke-opacity="0.734" stroke-linecap="round" /><path d="M122.9 66.6 L126.7 64.2 L130.6 62.0 L134.6 59.8 L138.6 57.7" fill="none" stroke="#d0d0d0" stroke-width="1.50" stroke-opacity="0.792" stroke-linecap="round" /><path d="M136.7 58.7 L140.7 56.6 L144.8 54.7 L148.9 52.8 L153.0 51.0" fill="none" stroke="#d0d0d0" stroke-width="1.50" stroke-opacity="0.792" stroke-linecap="round" /><path d="M151.1 51.8 L155.3 50.1 L159.5 48.5 L163.7 46.9 L168.0 45.5" fill="none" stroke="#d0d0d0" stroke-width="1.50" stroke-opacity="0.734" stroke-linecap="round" /><path d="M166.0 46.1 L170.3 44.7 L174.7 43.4 L179.0 42.2 L183.4 41.1" fill="none" stroke="#d0d0d0" stroke-width="1.50" stroke-opacity="0.623" stroke-linecap="round" /><path d="M181.4 41.6 L185.8 40.5 L190.2 39.6 L194.7 38.7 L199.1 37.9" fill="none" stroke="#d0d0d0" stroke-width="1.50" stroke-opacity="0.476" stroke-linecap="round" /><path d="M197.0 38.3 L201.5 37.6 L206.0 36.9 L210.5 36.4 L215.0 36.0" fill="none" stroke="#d0d0d0" stroke-width="1.50" stroke-opacity="0.310" stroke-linecap="round" /><path d="M212.9 36.2 L217.5 35.8 L222.0 35.5 L226.5 35.4 L231.0 35.3" fill="none" stroke="#d0d0d0" stroke-width="1.50" stroke-opacity="0.152" stroke-linecap="round" /><path d="M228.9 35.3 L233.5 35.3 L238.0 35.4 L242.5 35.6 L247.1 35.9" fill="none" stroke="#d0d0d0" stroke-width="1.50" stroke-opacity="0.030" stroke-linecap="round" /></g>
<g ><path d="M397.3 341.9 L394.0 346.3 L390.7 350.6 L387.2 354.8 L383.7 358.9" fill="none" stroke="#c0c0c0" stroke-width="1.50" stroke-opacity="0.026" stroke-linecap="round" /><path d="M385.0 357.4 L381.4 361.4 L377.6 365.4 L373.8 369.2 L369.8 373.0" fill="none" stroke="#c0c0c0" stroke-width="1.50" stroke-opacity="0.133" stroke-linecap="round" /><path d="M371.3 371.6 L367.3 375.2 L363.1 378.8 L358.9 382.3 L354.5 385.6" fill="none" stroke="#c0c0c0" stroke-width="1.50" stroke-opacity="0.272" stroke-linecap="round" /><path d="M356.2 384.3 L351.8 387.6 L347.3 390.8 L342.7 393.8 L338.0 396.7" fill="none" stroke="#c0c0c0" stroke-width="1.50" stroke-opacity="0.416" stroke-linecap="round" /><path d="M339.8 395.6 L335.1 398.4 L330.3 401.1 L325.5 403.7 L320.5 406.1" fill="none" stroke="#c0c0c0" stroke-width="1.50" stroke-opacity="0.545" stroke-linecap="round" /><path d="M322.4 405.2 L317.4 407.6 L312.4 409.8 L307.3 411.9 L302.1 413.8" fill="none" stroke="#c0c0c0" stroke-width="1.50" stroke-opacity="0.642" stroke-linecap="round" /><path d="M304.1 413.1 L298.9 415.0 L293.6 416.7 L288.3 418.3 L283.0 419.7" fill="none" stroke="#c0c0c0" stroke-width="1.50" stroke-opacity="0.693" stroke-linecap="round" /><path d="M285.0 419.2 L279.7 420.5 L274.3 421.7 L268.9 422.8 L263.4 423.7" fill="none" stroke="#c0c0c0" stroke-width="1.50" stroke-opacity="0.693" stroke-linecap="round" /><path d="M265.5 423.4 L260.0 424.2 L254.5 424.9 L249.0 425.4 L243.5 425.8" fill="none" stroke="#c0c0c0" stroke-width="1.50" stroke-opacity="0.642" stroke-linecap="round" /><path d="M245.6 425.7 L240.0 425.9 L234.5 426.1 L229.0 426.1 L223.4 425.9" fill="none" stroke="#c0c0c0" stroke-width="1.50" stroke-opacity="0.545" stroke-linecap="round" /><path d="M225.5 426.0 L220.0 425.8 L214.5 425.4 L209.0 424.8 L203.5 424.1" fill="none" stroke="#c0c0c0" stroke-width="1.50" stroke-opacity="0.416" stroke-linecap="round" /><path d="M205.6 424.4 L200.1 423.6 L194.6 422.7 L189.2 421.6 L183.8 420.4" fill="none" stroke="#c0c0c0" stroke-width="1.50" stroke-opacity="0.272" stroke-linecap="round" /><path d="M185.9 420.9 L180.5 419.6 L175.2 418.1 L169.9 416.5 L164.6 414.8" fill="none" stroke="#c0c0c0" stroke-width="1.50" stroke-opacity="0.133" stroke-linecap="round" /><path d="M166.6 415.5 L161.4 413.6 L156.2 411.7 L151.1 409.6 L146.1 407.4" fill="none" stroke="#c0c0c0" stroke-width="1.50" stroke-opacity="0.026" stroke-linecap="round" /></g>
<g ><path d="M230.9 35.3 L235.2 35.3 L239.5 35.4 L243.8 35.6 L248.1 35.9" fill="none" stroke="#909090" stroke-width="1.30" stroke-opacity="0.022" stroke-linecap="round" /><path d="M246.0 35.8 L250.2 36.1 L254.5 36.5 L258.8 37.0 L263.0 37.6" fill="none" stroke="#909090" stroke-width="1.30" stroke-opacity="0.114" stroke-linecap="round" /><path d="M260.9 37.3 L265.1 38.0 L269.4 38.7 L273.6 39.5 L277.8 40.4" fill="none" stroke="#909090" stroke-width="1.30" stroke-opacity="0.233" stroke-linecap="round" /><path d="M275.7 40.0 L279.9 40.9 L284.0 42.0 L288.1 43.1 L292.3 44.3" fill="none" stroke="#909090" stroke-width="1.30" stroke-opacity="0.357" stroke-linecap="round" /><path d="M290.2 43.7 L294.3 44.9 L298.4 46.3 L302.4 47.7 L306.4 49.2" fill="none" stroke="#909090" stroke-width="1.30" stroke-opacity="0.467" stroke-linecap="round" /><path d="M304.5 48.4 L308.4 50.0 L312.4 51.6 L316.3 53.3 L320.2 55.1" fill="none" stroke="#909090" stroke-width="1.30" stroke-opacity="0.550" stroke-linecap="round" /><path d="M318.3 54.2 L322.1 56.0 L325.9 57.9 L329.7 59.9 L333.4 62.0" fill="none" stroke="#909090" stroke-width="1.30" stroke-opacity="0.594" stroke-linecap="round" /><path d="M331.6 61.0 L335.3 63.1 L338.9 65.3 L342.5 67.5 L346.1 69.8" fill="none" stroke="#909090" stroke-width="1.30" stroke-opacity="0.594" stroke-linecap="round" /><path d="M344.4 68.7 L347.9 71.0 L351.4 73.5 L354.8 76.0 L358.1 78.6" fill="none" stroke="#909090" stroke-width="1.30" stroke-opacity="0.550" stroke-linecap="round" /><path d="M356.5 77.3 L359.8 79.9 L363.1 82.6 L366.3 85.3 L369.5 88.2" fill="none" stroke="#909090" stroke-width="1.30" stroke-opacity="0.467" stroke-linecap="round" /><path d="M367.9 86.8 L371.1 89.6 L374.1 92.5 L377.1 95.5 L380.1 98.5" fill="none" stroke="#909090" stroke-width="1.30" stroke-opacity="0.357" stroke-linecap="round" /><path d="M378.6 97.0 L381.5 100.1 L384.4 103.2 L387.1 106.4 L389.8 109.7" fill="none" stroke="#909090" stroke-width="1.30" stroke-opacity="0.233" stroke-linecap="round" /><path d="M388.5 108.1 L391.1 111.3 L393.7 114.7 L396.2 118.0 L398.7 121.5" fill="none" stroke="#909090" stroke-width="1.30" stroke-opacity="0.114" stroke-linecap="round" /><path d="M397.5 119.8 L399.9 123.2 L402.2 126.7 L404.4 130.3 L406.6 133.9" fill="none" stroke="#909090" stroke-width="1.30" stroke-opacity="0.022" stroke-linecap="round" /></g>
<circle cx="330" cy="418" r="1.5" fill="#888" filter="url(#b1)"/>
<circle cx="296" cy="436" r="1.5" fill="#888" filter="url(#b1)"/>
<circle cx="304" cy="440" r="1.5" fill="#888" filter="url(#b1)"/>
<circle cx="291" cy="430" r="1.5" fill="#888" filter="url(#b1)"/>
<circle cx="40" cy="292" r="1.5" fill="#888" filter="url(#b1)"/>
<circle cx="110" cy="392" r="1.5" fill="#888" filter="url(#b1)"/>
<rect x="0" y="0" width="467" height="467" filter="url(#nz)"/>
</g>
<g transform="translate(1023.3,80.5)" clip-path="url(#pc)">
<rect x="0" y="0" width="467" height="467" fill="#050505"/>
<rect x="0" y="0" width="467" height="29" fill="#000"/><rect x="0" y="0" width="12" height="467" fill="#000"/>
<g filter="url(#b8)">
<ellipse cx="95.0" cy="400.0" rx="45.0" ry="20.0" fill="#0f0f0f" />
<ellipse cx="185.0" cy="436.0" rx="40.0" ry="14.0" fill="#0d0d0d" />
<ellipse cx="400.0" cy="378.0" rx="14.0" ry="8.0" fill="#0c0c0c" />
<ellipse cx="25.0" cy="240.0" rx="14.0" ry="60.0" fill="#0b0b0b" />
</g>
<ellipse cx="230.0" cy="235.0" rx="195.0" ry="193.0" fill="url(#rg5)" />
<g mask="url(#mA3h)"><ellipse cx="228.0" cy="236.0" rx="142" ry="148" fill="url(#lg6)" mask="url(#mA3r)"/></g>
<path d="M425.0 235.0 L424.9 241.7 L424.5 248.5 L423.9 255.2 L423.1 261.9 L422.0 268.5 L420.7 275.1 L419.2 281.7 L417.4 288.2 L415.5 294.6 L413.2 301.0 L410.8 307.3 L408.1 313.5 L405.3 319.6 L402.2 325.6 L398.9 331.5 L395.4 337.3 L391.7 342.9 L387.8 348.4 L383.7 353.8 L379.4 359.1 L374.9 364.1 L370.3 369.1 L365.5 373.8 L360.5 378.4 L355.3 382.8 L350.1 387.1 L344.6 391.1 L339.0 395.0 L333.3 398.7 L327.5 402.1 L321.5 405.4 L315.5 408.5 L309.3 411.3 L303.0 413.9 L296.7 416.4 L290.3 418.6 L283.7 420.5 L277.2 422.3 L270.5 423.8 L263.9 425.1 L257.1 426.1 L250.4 426.9 L243.6 427.5 L236.8 427.9 L230.0 428.0 L223.2 427.9 L216.4 427.5 L209.6 426.9 L202.9 426.1 L196.1 425.1 L189.5 423.8 L182.8 422.3 L176.3 420.5 L169.7 418.6 L163.3 416.4 L157.0 413.9 L150.7 411.3 L144.5 408.5 L138.5 405.4 L132.5 402.1 L126.7 398.7 L121.0 395.0 L115.4 391.1 L109.9 387.1 L104.7 382.8 L99.5 378.4 L94.5 373.8 L89.7 369.1 L85.1 364.1 L80.6 359.1 L76.3 353.8 L72.2 348.4 L68.3 342.9 L64.6 337.3 L61.1 331.5 L57.8 325.6 L54.7 319.6 L51.9 313.5 L49.2 307.3 L46.8 301.0 L44.5 294.6 L42.6 288.2 L40.8 281.7 L39.3 275.1 L38.0 268.5 L36.9 261.9 L36.1 255.2 L35.5 248.5 L35.1 241.7 L35.0 235.0 L35.1 228.3 L35.5 221.5 L36.1 214.8 L36.9 208.1 L38.0 201.5 L39.3 194.9 L40.8 188.3 L42.6 181.8 L44.5 175.4 L46.8 169.0 L49.2 162.7 L51.9 156.5 L54.7 150.4 L57.8 144.4 L61.1 138.5 L64.6 132.7 L68.3 127.1 L72.2 121.6 L76.3 116.2 L80.6 110.9 L85.1 105.9 L89.7 100.9 L94.5 96.2 L99.5 91.6 L104.7 87.2 L109.9 82.9 L115.4 78.9 L121.0 75.0 L126.7 71.3 L132.5 67.9 L138.5 64.6 L144.5 61.5 L150.7 58.7 L157.0 56.1 L163.3 53.6 L169.7 51.4 L176.3 49.5 L182.8 47.7 L189.5 46.2 L196.1 44.9 L202.9 43.9 L209.6 43.1 L216.4 42.5 L223.2 42.1 L230.0 42.0 L236.8 42.1 L243.6 42.5 L250.4 43.1 L257.1 43.9 L263.9 44.9 L270.5 46.2 L277.2 47.7 L283.7 49.5 L290.3 51.4 L296.7 53.6 L303.0 56.1 L309.3 58.7 L315.5 61.5 L321.5 64.6 L327.5 67.9 L333.3 71.3 L339.0 75.0 L344.6 78.9 L350.1 82.9 L355.3 87.2 L360.5 91.6 L365.5 96.2 L370.3 100.9 L374.9 105.9 L379.4 110.9 L383.7 116.2 L387.8 121.6 L391.7 127.1 L395.4 132.7 L398.9 138.5 L402.2 144.4 L405.3 150.4 L408.1 156.5 L410.8 162.7 L413.2 169.0 L415.5 175.4 L417.4 181.8 L419.2 188.3 L420.7 194.9 L422.0 201.5 L423.1 208.1 L423.9 214.8 L424.5 221.5 L424.9 228.3 L425.0 235.0" fill="none" stroke="#2c2c2c" stroke-width="1.20" stroke-opacity="1.000" stroke-linecap="round" filter="url(#b1)"/>
<g filter="url(#b1)"><path d="M332.5 70.8 L337.8 74.2 L343.0 77.7 L348.1 81.5 L353.1 85.3" fill="none" stroke="#ffffff" stroke-width="1.90" stroke-opacity="0.139" stroke-linecap="round" /><path d="M351.5 84.1 L356.4 88.1 L361.2 92.2 L365.8 96.5 L370.3 101.0" fill="none" stroke="#ffffff" stroke-width="1.90" stroke-opacity="0.369" stroke-linecap="round" /><path d="M368.9 99.5 L373.3 104.1 L377.5 108.7 L381.6 113.6 L385.5 118.5" fill="none" stroke="#ffffff" stroke-width="1.90" stroke-opacity="0.567" stroke-linecap="round" /><path d="M384.2 116.9 L388.0 121.9 L391.7 127.1 L395.1 132.3 L398.4 137.7" fill="none" stroke="#ffffff" stroke-width="1.90" stroke-opacity="0.732" stroke-linecap="round" /><path d="M397.4 136.0 L400.5 141.4 L403.5 147.0 L406.3 152.6 L408.9 158.3" fill="none" stroke="#ffffff" stroke-width="1.90" stroke-opacity="0.861" stroke-linecap="round" /><path d="M408.1 156.5 L410.6 162.2 L412.9 168.1 L415.0 174.0 L416.9 180.0" fill="none" stroke="#ffffff" stroke-width="1.90" stroke-opacity="0.949" stroke-linecap="round" /><path d="M416.3 178.1 L418.1 184.1 L419.7 190.2 L421.0 196.3 L422.2 202.5" fill="none" stroke="#ffffff" stroke-width="1.90" stroke-opacity="0.994" stroke-linecap="round" /><path d="M421.9 200.5 L422.9 206.7 L423.7 212.9 L424.3 219.2 L424.8 225.4" fill="none" stroke="#ffffff" stroke-width="1.90" stroke-opacity="0.994" stroke-linecap="round" /><path d="M424.6 223.4 L424.9 229.7 L425.0 236.0 L424.9 242.2 L424.5 248.5" fill="none" stroke="#ffffff" stroke-width="1.90" stroke-opacity="0.949" stroke-linecap="round" /><path d="M424.7 246.5 L424.2 252.8 L423.5 259.0 L422.6 265.2 L421.5 271.4" fill="none" stroke="#ffffff" stroke-width="1.90" stroke-opacity="0.861" stroke-linecap="round" /><path d="M421.9 269.4 L420.6 275.6 L419.2 281.7 L417.6 287.8 L415.7 293.8" fill="none" stroke="#ffffff" stroke-width="1.90" stroke-opacity="0.732" stroke-linecap="round" /><path d="M416.4 291.8 L414.4 297.8 L412.2 303.7 L409.9 309.5 L407.3 315.3" fill="none" stroke="#ffffff" stroke-width="1.90" stroke-opacity="0.567" stroke-linecap="round" /><path d="M408.2 313.5 L405.5 319.2 L402.6 324.8 L399.6 330.3 L396.4 335.7" fill="none" stroke="#ffffff" stroke-width="1.90" stroke-opacity="0.369" stroke-linecap="round" /><path d="M397.4 333.9 L394.1 339.3 L390.6 344.5 L386.9 349.6 L383.0 354.6" fill="none" stroke="#ffffff" stroke-width="1.90" stroke-opacity="0.139" stroke-linecap="round" /></g>
<g ><path d="M419.5 280.7 L418.5 284.5 L417.4 288.2 L416.3 291.9 L415.1 295.6" fill="none" stroke="#cccccc" stroke-width="1.40" stroke-opacity="0.030" stroke-linecap="round" /><path d="M415.8 293.7 L414.5 297.4 L413.2 301.0 L411.9 304.6 L410.4 308.2" fill="none" stroke="#cccccc" stroke-width="1.40" stroke-opacity="0.152" stroke-linecap="round" /><path d="M411.2 306.4 L409.7 309.9 L408.1 313.5 L406.5 317.0 L404.8 320.5" fill="none" stroke="#cccccc" stroke-width="1.40" stroke-opacity="0.310" stroke-linecap="round" /><path d="M405.7 318.7 L404.0 322.2 L402.2 325.6 L400.3 329.0 L398.4 332.4" fill="none" stroke="#cccccc" stroke-width="1.40" stroke-opacity="0.476" stroke-linecap="round" /><path d="M399.4 330.6 L397.4 334.0 L395.4 337.3 L393.3 340.5 L391.1 343.8" fill="none" stroke="#cccccc" stroke-width="1.40" stroke-opacity="0.623" stroke-linecap="round" /><path d="M392.2 342.1 L390.0 345.3 L387.8 348.4 L385.4 351.6 L383.0 354.6" fill="none" stroke="#cccccc" stroke-width="1.40" stroke-opacity="0.734" stroke-linecap="round" /><path d="M384.3 353.0 L381.9 356.1 L379.4 359.1 L376.8 362.0 L374.2 364.9" fill="none" stroke="#cccccc" stroke-width="1.40" stroke-opacity="0.792" stroke-linecap="round" /><path d="M375.6 363.4 L373.0 366.3 L370.3 369.1 L367.5 371.8 L364.7 374.5" fill="none" stroke="#cccccc" stroke-width="1.40" stroke-opacity="0.792" stroke-linecap="round" /><path d="M366.2 373.1 L363.4 375.8 L360.5 378.4 L357.5 381.0 L354.6 383.5" fill="none" stroke="#cccccc" stroke-width="1.40" stroke-opacity="0.734" stroke-linecap="round" /><path d="M356.1 382.2 L353.1 384.7 L350.1 387.1 L346.9 389.4 L343.8 391.7" fill="none" stroke="#cccccc" stroke-width="1.40" stroke-opacity="0.623" stroke-linecap="round" /><path d="M345.4 390.5 L342.3 392.8 L339.0 395.0 L335.8 397.1 L332.5 399.2" fill="none" stroke="#cccccc" stroke-width="1.40" stroke-opacity="0.476" stroke-linecap="round" /><path d="M334.2 398.1 L330.9 400.2 L327.5 402.1 L324.1 404.0 L320.6 405.9" fill="none" stroke="#cccccc" stroke-width="1.40" stroke-opacity="0.310" stroke-linecap="round" /><path d="M322.4 404.9 L319.0 406.7 L315.5 408.5 L311.9 410.1 L308.4 411.7" fill="none" stroke="#cccccc" stroke-width="1.40" stroke-opacity="0.152" stroke-linecap="round" /><path d="M310.2 410.9 L306.7 412.5 L303.0 413.9 L299.4 415.4 L295.7 416.7" fill="none" stroke="#cccccc" stroke-width="1.40" stroke-opacity="0.030" stroke-linecap="round" /></g>
<g ><path d="M100.3 379.1 L96.3 375.5 L92.5 371.8 L88.7 368.0 L85.1 364.1" fill="none" stroke="#7a7a7a" stroke-width="1.30" stroke-opacity="0.026" stroke-linecap="round" /><path d="M86.4 365.6 L82.8 361.6 L79.4 357.6 L76.0 353.4 L72.8 349.2" fill="none" stroke="#7a7a7a" stroke-width="1.30" stroke-opacity="0.133" stroke-linecap="round" /><path d="M74.0 350.8 L70.8 346.5 L67.8 342.1 L64.9 337.7 L62.1 333.1" fill="none" stroke="#7a7a7a" stroke-width="1.30" stroke-opacity="0.272" stroke-linecap="round" /><path d="M63.1 334.9 L60.4 330.3 L57.8 325.6 L55.4 320.9 L53.0 316.1" fill="none" stroke="#7a7a7a" stroke-width="1.30" stroke-opacity="0.416" stroke-linecap="round" /><path d="M53.9 317.9 L51.7 313.1 L49.6 308.2 L47.6 303.2 L45.8 298.2" fill="none" stroke="#7a7a7a" stroke-width="1.30" stroke-opacity="0.545" stroke-linecap="round" /><path d="M46.4 300.1 L44.7 295.1 L43.1 290.0 L41.6 284.9 L40.3 279.8" fill="none" stroke="#7a7a7a" stroke-width="1.30" stroke-opacity="0.642" stroke-linecap="round" /><path d="M40.8 281.7 L39.6 276.6 L38.5 271.4 L37.6 266.1 L36.8 260.9" fill="none" stroke="#7a7a7a" stroke-width="1.30" stroke-opacity="0.693" stroke-linecap="round" /><path d="M37.0 262.9 L36.3 257.6 L35.8 252.3 L35.4 247.0 L35.1 241.7" fill="none" stroke="#7a7a7a" stroke-width="1.30" stroke-opacity="0.693" stroke-linecap="round" /><path d="M35.2 243.7 L35.0 238.4 L35.0 233.1 L35.1 227.8 L35.4 222.4" fill="none" stroke="#7a7a7a" stroke-width="1.30" stroke-opacity="0.642" stroke-linecap="round" /><path d="M35.3 224.5 L35.7 219.2 L36.2 213.9 L36.8 208.6 L37.6 203.3" fill="none" stroke="#7a7a7a" stroke-width="1.30" stroke-opacity="0.545" stroke-linecap="round" /><path d="M37.3 205.3 L38.2 200.1 L39.3 194.9 L40.5 189.7 L41.8 184.5" fill="none" stroke="#7a7a7a" stroke-width="1.30" stroke-opacity="0.416" stroke-linecap="round" /><path d="M41.3 186.5 L42.7 181.4 L44.2 176.3 L46.0 171.2 L47.8 166.2" fill="none" stroke="#7a7a7a" stroke-width="1.30" stroke-opacity="0.272" stroke-linecap="round" /><path d="M47.1 168.1 L49.0 163.2 L51.1 158.3 L53.3 153.4 L55.6 148.6" fill="none" stroke="#7a7a7a" stroke-width="1.30" stroke-opacity="0.133" stroke-linecap="round" /><path d="M54.7 150.4 L57.1 145.7 L59.7 141.0 L62.4 136.4 L65.2 131.9" fill="none" stroke="#7a7a7a" stroke-width="1.30" stroke-opacity="0.026" stroke-linecap="round" /></g>
<g ><path d="M195.1 45.1 L199.0 44.5 L202.9 43.9 L206.7 43.4 L210.6 43.0" fill="none" stroke="#808080" stroke-width="1.20" stroke-opacity="0.022" stroke-linecap="round" /><path d="M208.6 43.2 L212.5 42.8 L216.4 42.5 L220.3 42.2 L224.2 42.1" fill="none" stroke="#808080" stroke-width="1.20" stroke-opacity="0.114" stroke-linecap="round" /><path d="M222.2 42.2 L226.1 42.0 L230.0 42.0 L233.9 42.0 L237.8 42.2" fill="none" stroke="#808080" stroke-width="1.20" stroke-opacity="0.233" stroke-linecap="round" /><path d="M235.8 42.1 L239.7 42.2 L243.6 42.5 L247.5 42.8 L251.4 43.2" fill="none" stroke="#808080" stroke-width="1.20" stroke-opacity="0.357" stroke-linecap="round" /><path d="M249.4 43.0 L253.3 43.4 L257.1 43.9 L261.0 44.5 L264.9 45.1" fill="none" stroke="#808080" stroke-width="1.20" stroke-opacity="0.467" stroke-linecap="round" /><path d="M262.9 44.8 L266.7 45.5 L270.5 46.2 L274.4 47.1 L278.2 48.0" fill="none" stroke="#808080" stroke-width="1.20" stroke-opacity="0.550" stroke-linecap="round" /><path d="M276.2 47.5 L280.0 48.4 L283.7 49.5 L287.5 50.6 L291.2 51.8" fill="none" stroke="#808080" stroke-width="1.20" stroke-opacity="0.594" stroke-linecap="round" /><path d="M289.3 51.1 L293.0 52.4 L296.7 53.6 L300.4 55.0 L304.0 56.4" fill="none" stroke="#808080" stroke-width="1.20" stroke-opacity="0.594" stroke-linecap="round" /><path d="M302.1 55.7 L305.7 57.1 L309.3 58.7 L312.9 60.3 L316.4 62.0" fill="none" stroke="#808080" stroke-width="1.20" stroke-opacity="0.550" stroke-linecap="round" /><path d="M314.6 61.1 L318.1 62.8 L321.5 64.6 L325.0 66.4 L328.4 68.4" fill="none" stroke="#808080" stroke-width="1.20" stroke-opacity="0.467" stroke-linecap="round" /><path d="M326.6 67.4 L330.0 69.3 L333.3 71.3 L336.6 73.4 L339.9 75.6" fill="none" stroke="#808080" stroke-width="1.20" stroke-opacity="0.357" stroke-linecap="round" /><path d="M338.2 74.4 L341.4 76.6 L344.6 78.9 L347.8 81.2 L350.9 83.5" fill="none" stroke="#808080" stroke-width="1.20" stroke-opacity="0.233" stroke-linecap="round" /><path d="M349.2 82.3 L352.3 84.7 L355.3 87.2 L358.3 89.7 L361.2 92.3" fill="none" stroke="#808080" stroke-width="1.20" stroke-opacity="0.114" stroke-linecap="round" /><path d="M359.7 90.9 L362.6 93.5 L365.5 96.2 L368.2 98.9 L371.0 101.7" fill="none" stroke="#808080" stroke-width="1.20" stroke-opacity="0.022" stroke-linecap="round" /></g>
<g filter="url(#b1)" stroke="#7a7a7a" stroke-width="1.1" fill="none" opacity="0.8">
<path d="M28 318 L60 352 L92 398 L130 440 L150 465"/><path d="M36 312 L66 345"/><path d="M44 322 L70 355 L80 372"/>
</g>
<rect x="0" y="0" width="467" height="467" filter="url(#nz)"/>
<rect x="337.7" y="447.1" width="112.6" height="5.5" fill="#fff"/>
</g>
<g transform="translate(57.5,563.0)" clip-path="url(#pc)">
<rect x="0" y="0" width="467" height="467" fill="#000"/>
<ellipse cx="234.5" cy="235.0" rx="188.0" ry="188.0" fill="url(#rg9)" />
<g filter="url(#b14)">
<ellipse cx="245.0" cy="120.0" rx="25.0" ry="25.0" fill="#0e0e0e" />
<ellipse cx="355.0" cy="185.0" rx="25.0" ry="40.0" fill="#0f0f0f" />
<ellipse cx="120.0" cy="160.0" rx="30.0" ry="30.0" fill="#0c0c0c" />
<ellipse cx="260.0" cy="355.0" rx="80.0" ry="22.0" fill="#0d0d0d" />
</g>
<g filter="url(#b4)"><path d="M411.0 186.7 L412.3 191.6 L413.4 196.5 L414.4 201.4 L415.3 206.4" fill="none" stroke="#a0a0a0" stroke-width="9.00" stroke-opacity="0.016" stroke-linecap="round" /><path d="M414.9 204.5 L415.7 209.5 L416.3 214.5 L416.8 219.5 L417.2 224.6" fill="none" stroke="#a0a0a0" stroke-width="9.00" stroke-opacity="0.080" stroke-linecap="round" /><path d="M417.1 222.6 L417.4 227.7 L417.5 232.7 L417.5 237.8 L417.3 242.8" fill="none" stroke="#a0a0a0" stroke-width="9.00" stroke-opacity="0.163" stroke-linecap="round" /><path d="M417.4 240.9 L417.2 245.9 L416.8 250.9 L416.3 256.0 L415.6 261.0" fill="none" stroke="#a0a0a0" stroke-width="9.00" stroke-opacity="0.250" stroke-linecap="round" /><path d="M415.9 259.1 L415.2 264.1 L414.3 269.0 L413.3 274.0 L412.2 278.9" fill="none" stroke="#a0a0a0" stroke-width="9.00" stroke-opacity="0.327" stroke-linecap="round" /><path d="M412.6 277.0 L411.4 281.9 L410.0 286.8 L408.5 291.6 L406.9 296.3" fill="none" stroke="#a0a0a0" stroke-width="9.00" stroke-opacity="0.385" stroke-linecap="round" /><path d="M407.5 294.5 L405.8 299.3 L404.0 304.0 L402.0 308.6 L399.9 313.2" fill="none" stroke="#a0a0a0" stroke-width="9.00" stroke-opacity="0.416" stroke-linecap="round" /><path d="M400.8 311.5 L398.6 316.0 L396.3 320.5 L393.9 324.9 L391.3 329.3" fill="none" stroke="#a0a0a0" stroke-width="9.00" stroke-opacity="0.416" stroke-linecap="round" /><path d="M392.3 327.6 L389.7 332.0 L387.0 336.2 L384.1 340.4 L381.2 344.4" fill="none" stroke="#a0a0a0" stroke-width="9.00" stroke-opacity="0.385" stroke-linecap="round" /><path d="M382.3 342.9 L379.3 346.9 L376.1 350.9 L372.9 354.7 L369.5 358.5" fill="none" stroke="#a0a0a0" stroke-width="9.00" stroke-opacity="0.327" stroke-linecap="round" /><path d="M370.8 357.1 L367.4 360.8 L363.9 364.4 L360.3 367.9 L356.6 371.3" fill="none" stroke="#a0a0a0" stroke-width="9.00" stroke-opacity="0.250" stroke-linecap="round" /><path d="M358.0 370.0 L354.2 373.4 L350.4 376.6 L346.4 379.8 L342.4 382.8" fill="none" stroke="#a0a0a0" stroke-width="9.00" stroke-opacity="0.163" stroke-linecap="round" /><path d="M343.9 381.7 L339.9 384.6 L335.7 387.5 L331.5 390.2 L327.1 392.8" fill="none" stroke="#a0a0a0" stroke-width="9.00" stroke-opacity="0.080" stroke-linecap="round" /><path d="M328.8 391.8 L324.4 394.4 L320.0 396.8 L315.5 399.1 L311.0 401.3" fill="none" stroke="#a0a0a0" stroke-width="9.00" stroke-opacity="0.016" stroke-linecap="round" /></g>
<g filter="url(#b1)"><path d="M406.7 160.8 L408.9 166.2 L410.9 171.5 L412.8 177.0 L414.5 182.5" fill="none" stroke="#ffffff" stroke-width="2.00" stroke-opacity="0.139" stroke-linecap="round" /><path d="M413.9 180.6 L415.5 186.1 L416.9 191.7 L418.2 197.3 L419.2 202.9" fill="none" stroke="#ffffff" stroke-width="2.00" stroke-opacity="0.369" stroke-linecap="round" /><path d="M418.9 201.0 L419.8 206.7 L420.6 212.4 L421.2 218.1 L421.7 223.8" fill="none" stroke="#ffffff" stroke-width="2.00" stroke-opacity="0.567" stroke-linecap="round" /><path d="M421.5 221.9 L421.9 227.6 L422.0 233.4 L422.0 239.1 L421.7 244.9" fill="none" stroke="#ffffff" stroke-width="2.00" stroke-opacity="0.732" stroke-linecap="round" /><path d="M421.8 242.9 L421.5 248.6 L421.0 254.4 L420.3 260.1 L419.5 265.8" fill="none" stroke="#ffffff" stroke-width="2.00" stroke-opacity="0.861" stroke-linecap="round" /><path d="M419.8 263.8 L418.8 269.5 L417.7 275.1 L416.3 280.7 L414.9 286.3" fill="none" stroke="#ffffff" stroke-width="2.00" stroke-opacity="0.949" stroke-linecap="round" /><path d="M415.4 284.4 L413.8 289.9 L412.0 295.4 L410.1 300.8 L408.0 306.1" fill="none" stroke="#ffffff" stroke-width="2.00" stroke-opacity="0.994" stroke-linecap="round" /><path d="M408.7 304.3 L406.5 309.6 L404.1 314.9 L401.6 320.0 L398.9 325.1" fill="none" stroke="#ffffff" stroke-width="2.00" stroke-opacity="0.994" stroke-linecap="round" /><path d="M399.9 323.4 L397.1 328.4 L394.1 333.4 L391.0 338.2 L387.8 343.0" fill="none" stroke="#ffffff" stroke-width="2.00" stroke-opacity="0.949" stroke-linecap="round" /><path d="M388.9 341.4 L385.6 346.0 L382.1 350.6 L378.5 355.1 L374.7 359.5" fill="none" stroke="#ffffff" stroke-width="2.00" stroke-opacity="0.861" stroke-linecap="round" /><path d="M376.0 358.0 L372.2 362.3 L368.2 366.4 L364.1 370.5 L359.9 374.4" fill="none" stroke="#ffffff" stroke-width="2.00" stroke-opacity="0.732" stroke-linecap="round" /><path d="M361.4 373.0 L357.1 376.9 L352.7 380.6 L348.2 384.1 L343.5 387.5" fill="none" stroke="#ffffff" stroke-width="2.00" stroke-opacity="0.567" stroke-linecap="round" /><path d="M345.1 386.4 L340.4 389.7 L335.6 392.9 L330.7 395.9 L325.8 398.8" fill="none" stroke="#ffffff" stroke-width="2.00" stroke-opacity="0.369" stroke-linecap="round" /><path d="M327.5 397.8 L322.4 400.6 L317.3 403.2 L312.1 405.7 L306.9 408.0" fill="none" stroke="#ffffff" stroke-width="2.00" stroke-opacity="0.139" stroke-linecap="round" /></g>
<g filter="url(#b1)"><path d="M156.4 404.9 L149.6 401.6 L143.0 398.1 L136.6 394.3 L130.3 390.3" fill="none" stroke="#505050" stroke-width="2.50" stroke-opacity="0.026" stroke-linecap="round" /><path d="M131.9 391.3 L125.7 387.1 L119.7 382.6 L113.9 377.9 L108.3 373.0" fill="none" stroke="#505050" stroke-width="2.50" stroke-opacity="0.133" stroke-linecap="round" /><path d="M109.8 374.3 L104.3 369.2 L99.0 363.9 L94.0 358.4 L89.1 352.6" fill="none" stroke="#505050" stroke-width="2.50" stroke-opacity="0.272" stroke-linecap="round" /><path d="M90.4 354.2 L85.7 348.3 L81.3 342.3 L77.2 336.0 L73.2 329.7" fill="none" stroke="#505050" stroke-width="2.50" stroke-opacity="0.416" stroke-linecap="round" /><path d="M74.2 331.4 L70.5 324.9 L67.0 318.2 L63.8 311.5 L60.9 304.6" fill="none" stroke="#505050" stroke-width="2.50" stroke-opacity="0.545" stroke-linecap="round" /><path d="M61.7 306.4 L58.9 299.4 L56.5 292.3 L54.4 285.2 L52.5 277.9" fill="none" stroke="#505050" stroke-width="2.50" stroke-opacity="0.642" stroke-linecap="round" /><path d="M53.0 279.8 L51.3 272.5 L50.0 265.2 L48.9 257.8 L48.1 250.3" fill="none" stroke="#505050" stroke-width="2.50" stroke-opacity="0.693" stroke-linecap="round" /><path d="M48.3 252.3 L47.8 244.8 L47.5 237.3 L47.6 229.8 L47.9 222.4" fill="none" stroke="#505050" stroke-width="2.50" stroke-opacity="0.693" stroke-linecap="round" /><path d="M47.8 224.3 L48.4 216.9 L49.3 209.4 L50.4 202.0 L51.9 194.7" fill="none" stroke="#505050" stroke-width="2.50" stroke-opacity="0.642" stroke-linecap="round" /><path d="M51.5 196.6 L53.2 189.3 L55.1 182.1 L57.4 175.0 L59.9 167.9" fill="none" stroke="#505050" stroke-width="2.50" stroke-opacity="0.545" stroke-linecap="round" /><path d="M59.2 169.8 L62.0 162.8 L65.0 156.0 L68.3 149.3 L71.9 142.7" fill="none" stroke="#505050" stroke-width="2.50" stroke-opacity="0.416" stroke-linecap="round" /><path d="M70.9 144.4 L74.7 137.9 L78.7 131.6 L83.0 125.4 L87.5 119.5" fill="none" stroke="#505050" stroke-width="2.50" stroke-opacity="0.272" stroke-linecap="round" /><path d="M86.3 121.0 L90.9 115.2 L95.8 109.5 L101.0 104.1 L106.3 98.8" fill="none" stroke="#505050" stroke-width="2.50" stroke-opacity="0.133" stroke-linecap="round" /><path d="M104.9 100.2 L110.4 95.1 L116.1 90.3 L122.0 85.6 L128.0 81.3" fill="none" stroke="#505050" stroke-width="2.50" stroke-opacity="0.026" stroke-linecap="round" /></g>
<g filter="url(#b1)"><path d="M72.1 142.3 L75.6 136.4 L79.4 130.6 L83.3 124.9 L87.5 119.4 L91.9 114.1" fill="none" stroke="#363636" stroke-width="2.00" stroke-opacity="0.026" stroke-linecap="round" /><path d="M90.6 115.6 L95.1 110.3 L99.8 105.2 L104.7 100.3 L109.8 95.6 L115.1 91.1" fill="none" stroke="#363636" stroke-width="2.00" stroke-opacity="0.133" stroke-linecap="round" /><path d="M113.6 92.4 L118.9 88.0 L124.4 83.8 L130.1 79.9 L135.9 76.1 L141.8 72.6" fill="none" stroke="#363636" stroke-width="2.00" stroke-opacity="0.272" stroke-linecap="round" /><path d="M140.2 73.5 L146.2 70.2 L152.3 67.0 L158.6 64.1 L165.0 61.4 L171.5 58.9" fill="none" stroke="#363636" stroke-width="2.00" stroke-opacity="0.416" stroke-linecap="round" /><path d="M169.6 59.6 L176.2 57.3 L182.8 55.3 L189.5 53.5 L196.2 52.0 L203.0 50.7" fill="none" stroke="#363636" stroke-width="2.00" stroke-opacity="0.545" stroke-linecap="round" /><path d="M201.1 51.0 L207.9 49.9 L214.8 49.0 L221.7 48.4 L228.6 48.1 L235.5 48.0" fill="none" stroke="#363636" stroke-width="2.00" stroke-opacity="0.642" stroke-linecap="round" /><path d="M233.5 48.0 L240.4 48.1 L247.3 48.4 L254.2 49.0 L261.1 49.9 L267.9 51.0" fill="none" stroke="#363636" stroke-width="2.00" stroke-opacity="0.693" stroke-linecap="round" /><path d="M266.0 50.7 L272.8 52.0 L279.5 53.5 L286.2 55.3 L292.8 57.3 L299.4 59.6" fill="none" stroke="#363636" stroke-width="2.00" stroke-opacity="0.693" stroke-linecap="round" /><path d="M297.5 58.9 L304.0 61.4 L310.4 64.1 L316.7 67.0 L322.8 70.2 L328.8 73.5" fill="none" stroke="#363636" stroke-width="2.00" stroke-opacity="0.642" stroke-linecap="round" /><path d="M327.2 72.6 L333.1 76.1 L338.9 79.9 L344.6 83.8 L350.1 88.0 L355.4 92.4" fill="none" stroke="#363636" stroke-width="2.00" stroke-opacity="0.545" stroke-linecap="round" /><path d="M353.9 91.1 L359.2 95.6 L364.3 100.3 L369.2 105.2 L373.9 110.3 L378.4 115.6" fill="none" stroke="#363636" stroke-width="2.00" stroke-opacity="0.416" stroke-linecap="round" /><path d="M377.1 114.1 L381.5 119.4 L385.7 124.9 L389.6 130.6 L393.4 136.4 L396.9 142.3" fill="none" stroke="#363636" stroke-width="2.00" stroke-opacity="0.272" stroke-linecap="round" /><path d="M396.0 140.7 L399.3 146.7 L402.5 152.8 L405.4 159.1 L408.1 165.5 L410.6 172.0" fill="none" stroke="#363636" stroke-width="2.00" stroke-opacity="0.133" stroke-linecap="round" /><path d="M409.9 170.1 L412.2 176.7 L414.2 183.3 L416.0 190.0 L417.5 196.7 L418.8 203.5" fill="none" stroke="#363636" stroke-width="2.00" stroke-opacity="0.026" stroke-linecap="round" /></g>
<g filter="url(#b1)"><path d="M355.4 377.6 L350.6 381.6 L345.5 385.5 L340.4 389.1 L335.1 392.6" fill="none" stroke="#404040" stroke-width="2.00" stroke-opacity="0.026" stroke-linecap="round" /><path d="M336.8 391.6 L331.4 394.9 L326.0 398.1 L320.4 401.1 L314.8 403.9" fill="none" stroke="#404040" stroke-width="2.00" stroke-opacity="0.133" stroke-linecap="round" /><path d="M316.5 403.1 L310.8 405.7 L305.0 408.2 L299.1 410.5 L293.1 412.6" fill="none" stroke="#404040" stroke-width="2.00" stroke-opacity="0.272" stroke-linecap="round" /><path d="M295.0 411.9 L289.0 413.9 L282.9 415.6 L276.8 417.2 L270.6 418.5" fill="none" stroke="#404040" stroke-width="2.00" stroke-opacity="0.416" stroke-linecap="round" /><path d="M272.5 418.1 L266.3 419.3 L260.1 420.2 L253.8 421.0 L247.5 421.5" fill="none" stroke="#404040" stroke-width="2.00" stroke-opacity="0.545" stroke-linecap="round" /><path d="M249.5 421.4 L243.1 421.8 L236.8 422.0 L230.5 422.0 L224.2 421.7" fill="none" stroke="#404040" stroke-width="2.00" stroke-opacity="0.642" stroke-linecap="round" /><path d="M226.2 421.8 L219.9 421.4 L213.6 420.8 L207.3 420.0 L201.1 419.0" fill="none" stroke="#404040" stroke-width="2.00" stroke-opacity="0.693" stroke-linecap="round" /><path d="M203.0 419.3 L196.8 418.2 L190.6 416.8 L184.5 415.2 L178.4 413.4" fill="none" stroke="#404040" stroke-width="2.00" stroke-opacity="0.693" stroke-linecap="round" /><path d="M180.3 414.0 L174.3 412.0 L168.4 409.9 L162.5 407.6 L156.7 405.0" fill="none" stroke="#404040" stroke-width="2.00" stroke-opacity="0.642" stroke-linecap="round" /><path d="M158.5 405.9 L152.8 403.2 L147.1 400.3 L141.6 397.3 L136.2 394.1" fill="none" stroke="#404040" stroke-width="2.00" stroke-opacity="0.545" stroke-linecap="round" /><path d="M137.8 395.1 L132.5 391.7 L127.2 388.2 L122.1 384.5 L117.1 380.6" fill="none" stroke="#404040" stroke-width="2.00" stroke-opacity="0.416" stroke-linecap="round" /><path d="M118.7 381.8 L113.8 377.8 L109.0 373.7 L104.4 369.3 L100.0 364.9" fill="none" stroke="#404040" stroke-width="2.00" stroke-opacity="0.272" stroke-linecap="round" /><path d="M101.3 366.3 L97.0 361.7 L92.8 357.0 L88.7 352.1 L84.8 347.1" fill="none" stroke="#404040" stroke-width="2.00" stroke-opacity="0.133" stroke-linecap="round" /><path d="M86.0 348.7 L82.3 343.6 L78.7 338.4 L75.3 333.1 L72.1 327.7" fill="none" stroke="#404040" stroke-width="2.00" stroke-opacity="0.026" stroke-linecap="round" /></g>
<rect x="0" y="0" width="467" height="467" filter="url(#nz)"/>
</g>
<g transform="translate(540.0,563.0)" clip-path="url(#pc)">
<rect x="0" y="0" width="467" height="467" fill="#000"/>
<ellipse cx="234.0" cy="229.0" rx="191.0" ry="188.0" fill="url(#rg10)" />
<g filter="url(#b14)">
<ellipse cx="100.0" cy="175.0" rx="35.0" ry="45.0" fill="#121212" />
<ellipse cx="365.0" cy="220.0" rx="40.0" ry="40.0" fill="#121212" />
<ellipse cx="245.0" cy="240.0" rx="60.0" ry="40.0" fill="#111111" />
<ellipse cx="140.0" cy="120.0" rx="30.0" ry="25.0" fill="#111111" />
</g>
<g filter="url(#b4)"><path d="M415.7 190.0 L416.6 194.3 L417.4 198.6 L418.1 202.9 L418.7 207.2" fill="none" stroke="#a0a0a0" stroke-width="9.00" stroke-opacity="0.016" stroke-linecap="round" /><path d="M418.4 205.3 L419.0 209.6 L419.4 214.0 L419.7 218.3 L419.9 222.7" fill="none" stroke="#a0a0a0" stroke-width="9.00" stroke-opacity="0.080" stroke-linecap="round" /><path d="M419.8 220.7 L420.0 225.1 L420.0 229.5 L419.9 233.8 L419.8 238.2" fill="none" stroke="#a0a0a0" stroke-width="9.00" stroke-opacity="0.163" stroke-linecap="round" /><path d="M419.9 236.3 L419.6 240.6 L419.3 244.9 L418.9 249.3 L418.3 253.6" fill="none" stroke="#a0a0a0" stroke-width="9.00" stroke-opacity="0.250" stroke-linecap="round" /><path d="M418.6 251.7 L418.0 256.0 L417.3 260.3 L416.4 264.6 L415.5 268.9" fill="none" stroke="#a0a0a0" stroke-width="9.00" stroke-opacity="0.327" stroke-linecap="round" /><path d="M415.9 267.0 L415.0 271.3 L413.9 275.5 L412.7 279.7 L411.4 283.9" fill="none" stroke="#a0a0a0" stroke-width="9.00" stroke-opacity="0.385" stroke-linecap="round" /><path d="M412.0 282.0 L410.7 286.2 L409.3 290.3 L407.7 294.4 L406.1 298.4" fill="none" stroke="#a0a0a0" stroke-width="9.00" stroke-opacity="0.416" stroke-linecap="round" /><path d="M406.8 296.7 L405.1 300.7 L403.3 304.7 L401.5 308.6 L399.5 312.5" fill="none" stroke="#a0a0a0" stroke-width="9.00" stroke-opacity="0.416" stroke-linecap="round" /><path d="M400.4 310.8 L398.3 314.7 L396.2 318.5 L394.0 322.3 L391.7 326.0" fill="none" stroke="#a0a0a0" stroke-width="9.00" stroke-opacity="0.385" stroke-linecap="round" /><path d="M392.7 324.4 L390.4 328.1 L387.9 331.7 L385.4 335.3 L382.8 338.8" fill="none" stroke="#a0a0a0" stroke-width="9.00" stroke-opacity="0.327" stroke-linecap="round" /><path d="M384.0 337.3 L381.3 340.7 L378.5 344.2 L375.7 347.5 L372.8 350.8" fill="none" stroke="#a0a0a0" stroke-width="9.00" stroke-opacity="0.250" stroke-linecap="round" /><path d="M374.1 349.4 L371.1 352.6 L368.1 355.8 L365.0 358.9 L361.8 361.9" fill="none" stroke="#a0a0a0" stroke-width="9.00" stroke-opacity="0.163" stroke-linecap="round" /><path d="M363.2 360.6 L360.0 363.6 L356.7 366.5 L353.4 369.3 L349.9 372.1" fill="none" stroke="#a0a0a0" stroke-width="9.00" stroke-opacity="0.080" stroke-linecap="round" /><path d="M351.4 370.9 L348.0 373.6 L344.5 376.2 L340.9 378.8 L337.2 381.2" fill="none" stroke="#a0a0a0" stroke-width="9.00" stroke-opacity="0.016" stroke-linecap="round" /></g>
<g filter="url(#b1)"><path d="M416.8 176.4 L418.2 181.1 L419.4 185.9 L420.5 190.7 L421.4 195.6" fill="none" stroke="#ffffff" stroke-width="2.20" stroke-opacity="0.139" stroke-linecap="round" /><path d="M421.1 193.6 L422.0 198.5 L422.7 203.4 L423.3 208.3 L423.8 213.2" fill="none" stroke="#ffffff" stroke-width="2.20" stroke-opacity="0.369" stroke-linecap="round" /><path d="M423.6 211.2 L424.1 216.1 L424.3 221.1 L424.5 226.0 L424.5 230.9" fill="none" stroke="#ffffff" stroke-width="2.20" stroke-opacity="0.567" stroke-linecap="round" /><path d="M424.5 229.0 L424.4 233.9 L424.2 238.8 L423.9 243.7 L423.5 248.6" fill="none" stroke="#ffffff" stroke-width="2.20" stroke-opacity="0.732" stroke-linecap="round" /><path d="M423.7 246.7 L423.1 251.6 L422.4 256.5 L421.6 261.4 L420.7 266.2" fill="none" stroke="#ffffff" stroke-width="2.20" stroke-opacity="0.861" stroke-linecap="round" /><path d="M421.1 264.3 L420.1 269.1 L419.0 273.9 L417.7 278.7 L416.3 283.4" fill="none" stroke="#ffffff" stroke-width="2.20" stroke-opacity="0.949" stroke-linecap="round" /><path d="M416.9 281.5 L415.4 286.3 L413.8 290.9 L412.1 295.6 L410.3 300.1" fill="none" stroke="#ffffff" stroke-width="2.20" stroke-opacity="0.994" stroke-linecap="round" /><path d="M411.0 298.3 L409.1 302.9 L407.1 307.4 L404.9 311.8 L402.6 316.2" fill="none" stroke="#ffffff" stroke-width="2.20" stroke-opacity="0.994" stroke-linecap="round" /><path d="M403.5 314.5 L401.2 318.9 L398.7 323.2 L396.2 327.4 L393.5 331.6" fill="none" stroke="#ffffff" stroke-width="2.20" stroke-opacity="0.949" stroke-linecap="round" /><path d="M394.6 329.9 L391.8 334.0 L389.0 338.1 L386.0 342.0 L382.9 345.9" fill="none" stroke="#ffffff" stroke-width="2.20" stroke-opacity="0.861" stroke-linecap="round" /><path d="M384.1 344.4 L381.0 348.2 L377.8 352.0 L374.4 355.7 L371.0 359.3" fill="none" stroke="#ffffff" stroke-width="2.20" stroke-opacity="0.732" stroke-linecap="round" /><path d="M372.4 357.9 L368.9 361.4 L365.3 364.8 L361.6 368.2 L357.9 371.5" fill="none" stroke="#ffffff" stroke-width="2.20" stroke-opacity="0.567" stroke-linecap="round" /><path d="M359.4 370.2 L355.6 373.4 L351.7 376.5 L347.7 379.5 L343.6 382.3" fill="none" stroke="#ffffff" stroke-width="2.20" stroke-opacity="0.369" stroke-linecap="round" /><path d="M345.2 381.2 L341.1 384.0 L337.0 386.8 L332.7 389.4 L328.4 391.9" fill="none" stroke="#ffffff" stroke-width="2.20" stroke-opacity="0.139" stroke-linecap="round" /></g>
<g filter="url(#b4)"><path d="M62.3 301.8 L60.9 298.6 L59.6 295.4 L58.3 292.1 L57.2 288.9" fill="none" stroke="#909090" stroke-width="7.00" stroke-opacity="0.015" stroke-linecap="round" /><path d="M57.8 290.7 L56.7 287.4 L55.6 284.1 L54.6 280.8 L53.6 277.5" fill="none" stroke="#909090" stroke-width="7.00" stroke-opacity="0.076" stroke-linecap="round" /><path d="M54.1 279.3 L53.2 276.0 L52.3 272.6 L51.5 269.3 L50.8 265.9" fill="none" stroke="#909090" stroke-width="7.00" stroke-opacity="0.155" stroke-linecap="round" /><path d="M51.2 267.7 L50.5 264.4 L49.8 261.0 L49.3 257.5 L48.7 254.1" fill="none" stroke="#909090" stroke-width="7.00" stroke-opacity="0.238" stroke-linecap="round" /><path d="M49.0 256.0 L48.5 252.6 L48.1 249.1 L47.8 245.7 L47.5 242.2" fill="none" stroke="#909090" stroke-width="7.00" stroke-opacity="0.312" stroke-linecap="round" /><path d="M47.6 244.2 L47.4 240.7 L47.2 237.3 L47.1 233.8 L47.0 230.3" fill="none" stroke="#909090" stroke-width="7.00" stroke-opacity="0.367" stroke-linecap="round" /><path d="M47.0 232.3 L47.0 228.8 L47.0 225.3 L47.1 221.9 L47.3 218.4" fill="none" stroke="#909090" stroke-width="7.00" stroke-opacity="0.396" stroke-linecap="round" /><path d="M47.2 220.3 L47.4 216.9 L47.7 213.4 L48.0 210.0 L48.4 206.5" fill="none" stroke="#909090" stroke-width="7.00" stroke-opacity="0.396" stroke-linecap="round" /><path d="M48.2 208.4 L48.6 205.0 L49.1 201.6 L49.6 198.2 L50.3 194.7" fill="none" stroke="#909090" stroke-width="7.00" stroke-opacity="0.367" stroke-linecap="round" /><path d="M49.9 196.6 L50.6 193.2 L51.3 189.8 L52.1 186.5 L52.9 183.1" fill="none" stroke="#909090" stroke-width="7.00" stroke-opacity="0.312" stroke-linecap="round" /><path d="M52.4 185.0 L53.3 181.6 L54.2 178.3 L55.2 175.0 L56.3 171.7" fill="none" stroke="#909090" stroke-width="7.00" stroke-opacity="0.238" stroke-linecap="round" /><path d="M55.7 173.5 L56.8 170.2 L58.0 166.9 L59.2 163.7 L60.5 160.5" fill="none" stroke="#909090" stroke-width="7.00" stroke-opacity="0.155" stroke-linecap="round" /><path d="M59.7 162.2 L61.0 159.0 L62.4 155.8 L63.8 152.7 L65.3 149.5" fill="none" stroke="#909090" stroke-width="7.00" stroke-opacity="0.076" stroke-linecap="round" /><path d="M64.5 151.3 L66.0 148.2 L67.6 145.1 L69.2 142.0 L70.9 139.0" fill="none" stroke="#909090" stroke-width="7.00" stroke-opacity="0.015" stroke-linecap="round" /></g>
<g filter="url(#b1)"><path d="M61.8 309.1 L60.2 305.7 L58.6 302.3 L57.2 298.8 L55.8 295.3" fill="none" stroke="#ffffff" stroke-width="2.00" stroke-opacity="0.101" stroke-linecap="round" /><path d="M56.5 297.1 L55.2 293.6 L53.9 290.0 L52.7 286.5 L51.5 282.9" fill="none" stroke="#ffffff" stroke-width="2.00" stroke-opacity="0.297" stroke-linecap="round" /><path d="M52.1 284.8 L51.0 281.2 L50.0 277.5 L49.0 273.9 L48.2 270.2" fill="none" stroke="#ffffff" stroke-width="2.00" stroke-opacity="0.479" stroke-linecap="round" /><path d="M48.6 272.1 L47.8 268.5 L47.0 264.8 L46.3 261.1 L45.7 257.4" fill="none" stroke="#ffffff" stroke-width="2.00" stroke-opacity="0.636" stroke-linecap="round" /><path d="M46.0 259.3 L45.4 255.6 L44.9 251.9 L44.5 248.1 L44.1 244.4" fill="none" stroke="#ffffff" stroke-width="2.00" stroke-opacity="0.762" stroke-linecap="round" /><path d="M44.3 246.3 L44.0 242.6 L43.8 238.8 L43.6 235.1 L43.5 231.3" fill="none" stroke="#ffffff" stroke-width="2.00" stroke-opacity="0.849" stroke-linecap="round" /><path d="M43.5 233.3 L43.5 229.5 L43.5 225.7 L43.6 222.0 L43.8 218.2" fill="none" stroke="#ffffff" stroke-width="2.00" stroke-opacity="0.894" stroke-linecap="round" /><path d="M43.7 220.2 L43.9 216.4 L44.2 212.7 L44.6 208.9 L45.0 205.2" fill="none" stroke="#ffffff" stroke-width="2.00" stroke-opacity="0.894" stroke-linecap="round" /><path d="M44.8 207.1 L45.3 203.4 L45.8 199.7 L46.5 196.0 L47.2 192.3" fill="none" stroke="#ffffff" stroke-width="2.00" stroke-opacity="0.849" stroke-linecap="round" /><path d="M46.8 194.2 L47.6 190.5 L48.4 186.8 L49.3 183.2 L50.3 179.5" fill="none" stroke="#ffffff" stroke-width="2.00" stroke-opacity="0.762" stroke-linecap="round" /><path d="M49.7 181.4 L50.7 177.8 L51.8 174.2 L53.0 170.6 L54.2 167.0" fill="none" stroke="#ffffff" stroke-width="2.00" stroke-opacity="0.636" stroke-linecap="round" /><path d="M53.6 168.9 L54.8 165.3 L56.2 161.8 L57.6 158.3 L59.0 154.8" fill="none" stroke="#ffffff" stroke-width="2.00" stroke-opacity="0.479" stroke-linecap="round" /><path d="M58.3 156.6 L59.8 153.2 L61.3 149.8 L63.0 146.4 L64.7 143.0" fill="none" stroke="#ffffff" stroke-width="2.00" stroke-opacity="0.297" stroke-linecap="round" /><path d="M63.8 144.8 L65.6 141.4 L67.4 138.1 L69.3 134.8 L71.2 131.6" fill="none" stroke="#ffffff" stroke-width="2.00" stroke-opacity="0.101" stroke-linecap="round" /></g>
<g filter="url(#b1)"><path d="M44.0 230.0 L44.1 222.5 L44.5 215.0 L45.3 207.6 L46.3 200.2" fill="none" stroke="#5a5a5a" stroke-width="2.00" stroke-opacity="0.026" stroke-linecap="round" /><path d="M46.0 202.1 L47.2 194.7 L48.8 187.4 L50.6 180.1 L52.7 172.9" fill="none" stroke="#5a5a5a" stroke-width="2.00" stroke-opacity="0.133" stroke-linecap="round" /><path d="M52.2 174.8 L54.5 167.7 L57.1 160.7 L60.1 153.8 L63.2 147.0" fill="none" stroke="#5a5a5a" stroke-width="2.00" stroke-opacity="0.272" stroke-linecap="round" /><path d="M62.4 148.7 L65.8 142.1 L69.5 135.5 L73.4 129.1 L77.6 122.9" fill="none" stroke="#5a5a5a" stroke-width="2.00" stroke-opacity="0.416" stroke-linecap="round" /><path d="M76.5 124.5 L80.8 118.3 L85.5 112.4 L90.3 106.7 L95.4 101.1" fill="none" stroke="#5a5a5a" stroke-width="2.00" stroke-opacity="0.545" stroke-linecap="round" /><path d="M94.0 102.5 L99.3 97.1 L104.8 91.9 L110.4 86.9 L116.3 82.2" fill="none" stroke="#5a5a5a" stroke-width="2.00" stroke-opacity="0.642" stroke-linecap="round" /><path d="M114.8 83.4 L120.8 78.8 L127.0 74.5 L133.3 70.4 L139.9 66.6" fill="none" stroke="#5a5a5a" stroke-width="2.00" stroke-opacity="0.693" stroke-linecap="round" /><path d="M138.1 67.5 L144.8 63.9 L151.6 60.5 L158.5 57.4 L165.5 54.6" fill="none" stroke="#5a5a5a" stroke-width="2.00" stroke-opacity="0.693" stroke-linecap="round" /><path d="M163.7 55.3 L170.8 52.7 L178.0 50.3 L185.3 48.2 L192.7 46.5" fill="none" stroke="#5a5a5a" stroke-width="2.00" stroke-opacity="0.642" stroke-linecap="round" /><path d="M190.8 46.9 L198.2 45.4 L205.7 44.1 L213.2 43.1 L220.8 42.5" fill="none" stroke="#5a5a5a" stroke-width="2.00" stroke-opacity="0.545" stroke-linecap="round" /><path d="M218.8 42.6 L226.4 42.1 L234.0 42.0 L241.6 42.1 L249.2 42.6" fill="none" stroke="#5a5a5a" stroke-width="2.00" stroke-opacity="0.416" stroke-linecap="round" /><path d="M247.2 42.5 L254.8 43.1 L262.3 44.1 L269.8 45.4 L277.2 46.9" fill="none" stroke="#5a5a5a" stroke-width="2.00" stroke-opacity="0.272" stroke-linecap="round" /><path d="M275.3 46.5 L282.7 48.2 L290.0 50.3 L297.2 52.7 L304.3 55.3" fill="none" stroke="#5a5a5a" stroke-width="2.00" stroke-opacity="0.133" stroke-linecap="round" /><path d="M302.5 54.6 L309.5 57.4 L316.4 60.5 L323.2 63.9 L329.9 67.5" fill="none" stroke="#5a5a5a" stroke-width="2.00" stroke-opacity="0.026" stroke-linecap="round" /></g>
<g filter="url(#b1)"><path d="M266.0 44.7 L271.2 45.6 L276.3 46.7 L281.4 47.9 L286.4 49.3" fill="none" stroke="#444444" stroke-width="2.00" stroke-opacity="0.026" stroke-linecap="round" /><path d="M284.5 48.7 L289.5 50.2 L294.5 51.7 L299.5 53.4 L304.3 55.3" fill="none" stroke="#444444" stroke-width="2.00" stroke-opacity="0.133" stroke-linecap="round" /><path d="M302.5 54.6 L307.3 56.5 L312.1 58.5 L316.9 60.7 L321.6 63.0" fill="none" stroke="#444444" stroke-width="2.00" stroke-opacity="0.272" stroke-linecap="round" /><path d="M319.8 62.1 L324.4 64.5 L329.0 67.1 L333.5 69.7 L337.9 72.4" fill="none" stroke="#444444" stroke-width="2.00" stroke-opacity="0.416" stroke-linecap="round" /><path d="M336.2 71.4 L340.6 74.2 L344.9 77.2 L349.1 80.2 L353.2 83.4" fill="none" stroke="#444444" stroke-width="2.00" stroke-opacity="0.545" stroke-linecap="round" /><path d="M351.7 82.2 L355.7 85.4 L359.7 88.8 L363.6 92.3 L367.4 95.8" fill="none" stroke="#444444" stroke-width="2.00" stroke-opacity="0.642" stroke-linecap="round" /><path d="M366.0 94.5 L369.7 98.1 L373.3 101.8 L376.8 105.6 L380.2 109.6" fill="none" stroke="#444444" stroke-width="2.00" stroke-opacity="0.693" stroke-linecap="round" /><path d="M378.9 108.1 L382.2 112.0 L385.5 116.1 L388.6 120.2 L391.5 124.5" fill="none" stroke="#444444" stroke-width="2.00" stroke-opacity="0.693" stroke-linecap="round" /><path d="M390.4 122.9 L393.3 127.1 L396.1 131.5 L398.8 135.9 L401.3 140.4" fill="none" stroke="#444444" stroke-width="2.00" stroke-opacity="0.642" stroke-linecap="round" /><path d="M400.4 138.7 L402.8 143.3 L405.2 147.9 L407.4 152.5 L409.5 157.3" fill="none" stroke="#444444" stroke-width="2.00" stroke-opacity="0.545" stroke-linecap="round" /><path d="M408.7 155.5 L410.7 160.2 L412.5 165.0 L414.3 169.9 L415.8 174.8" fill="none" stroke="#444444" stroke-width="2.00" stroke-opacity="0.416" stroke-linecap="round" /><path d="M415.3 172.9 L416.8 177.9 L418.1 182.9 L419.3 187.9 L420.4 192.9" fill="none" stroke="#444444" stroke-width="2.00" stroke-opacity="0.272" stroke-linecap="round" /><path d="M420.0 191.0 L421.0 196.0 L421.9 201.1 L422.6 206.2 L423.2 211.4" fill="none" stroke="#444444" stroke-width="2.00" stroke-opacity="0.133" stroke-linecap="round" /><path d="M423.0 209.4 L423.4 214.5 L423.8 219.7 L424.0 224.8 L424.0 230.0" fill="none" stroke="#444444" stroke-width="2.00" stroke-opacity="0.026" stroke-linecap="round" /></g>
<g filter="url(#b1)"><path d="M399.0 321.7 L395.4 327.6 L391.6 333.4 L387.6 339.1 L383.4 344.6 L378.9 349.9" fill="none" stroke="#3a3a3a" stroke-width="2.00" stroke-opacity="0.026" stroke-linecap="round" /><path d="M380.2 348.4 L375.6 353.7 L370.8 358.8 L365.8 363.7 L360.7 368.4 L355.4 372.9" fill="none" stroke="#3a3a3a" stroke-width="2.00" stroke-opacity="0.133" stroke-linecap="round" /><path d="M356.9 371.6 L351.4 376.0 L345.8 380.2 L340.1 384.1 L334.2 387.9 L328.1 391.4" fill="none" stroke="#3a3a3a" stroke-width="2.00" stroke-opacity="0.272" stroke-linecap="round" /><path d="M329.9 390.5 L323.7 393.8 L317.5 397.0 L311.1 399.9 L304.6 402.6 L298.0 405.1" fill="none" stroke="#3a3a3a" stroke-width="2.00" stroke-opacity="0.416" stroke-linecap="round" /><path d="M299.9 404.4 L293.3 406.7 L286.6 408.7 L279.8 410.5 L272.9 412.0 L266.0 413.3" fill="none" stroke="#3a3a3a" stroke-width="2.00" stroke-opacity="0.545" stroke-linecap="round" /><path d="M268.0 413.0 L261.0 414.1 L254.1 415.0 L247.1 415.6 L240.0 415.9 L233.0 416.0" fill="none" stroke="#3a3a3a" stroke-width="2.00" stroke-opacity="0.642" stroke-linecap="round" /><path d="M235.0 416.0 L228.0 415.9 L220.9 415.6 L213.9 415.0 L207.0 414.1 L200.0 413.0" fill="none" stroke="#3a3a3a" stroke-width="2.00" stroke-opacity="0.693" stroke-linecap="round" /><path d="M202.0 413.3 L195.1 412.0 L188.2 410.5 L181.4 408.7 L174.7 406.7 L168.1 404.4" fill="none" stroke="#3a3a3a" stroke-width="2.00" stroke-opacity="0.693" stroke-linecap="round" /><path d="M170.0 405.1 L163.4 402.6 L156.9 399.9 L150.5 397.0 L144.3 393.8 L138.1 390.5" fill="none" stroke="#3a3a3a" stroke-width="2.00" stroke-opacity="0.642" stroke-linecap="round" /><path d="M139.9 391.4 L133.8 387.9 L127.9 384.1 L122.2 380.2 L116.6 376.0 L111.1 371.6" fill="none" stroke="#3a3a3a" stroke-width="2.00" stroke-opacity="0.545" stroke-linecap="round" /><path d="M112.6 372.9 L107.3 368.4 L102.2 363.7 L97.2 358.8 L92.4 353.7 L87.8 348.4" fill="none" stroke="#3a3a3a" stroke-width="2.00" stroke-opacity="0.416" stroke-linecap="round" /><path d="M89.1 349.9 L84.6 344.6 L80.4 339.1 L76.4 333.4 L72.6 327.6 L69.0 321.7" fill="none" stroke="#3a3a3a" stroke-width="2.00" stroke-opacity="0.272" stroke-linecap="round" /><path d="M70.0 323.3 L66.5 317.3 L63.3 311.2 L60.3 304.9 L57.6 298.5 L55.1 292.0" fill="none" stroke="#3a3a3a" stroke-width="2.00" stroke-opacity="0.133" stroke-linecap="round" /><path d="M55.8 293.9 L53.5 287.3 L51.4 280.7 L49.6 274.0 L48.0 267.3 L46.7 260.5" fill="none" stroke="#3a3a3a" stroke-width="2.00" stroke-opacity="0.026" stroke-linecap="round" /></g>
<rect x="0" y="0" width="467" height="467" filter="url(#nz)"/>
</g>
<g transform="translate(1023.3,563.0)" clip-path="url(#pc)">
<rect x="0" y="0" width="467" height="467" fill="#020202"/>
<ellipse cx="234.0" cy="240.0" rx="200.0" ry="200.0" fill="url(#rg11)" />
<ellipse cx="233.2" cy="238.1" rx="146.0" ry="151.1" fill="url(#rg12)" />
<g filter="url(#b14)">
<ellipse cx="125.2" cy="238.0" rx="14.0" ry="55.0" fill="#727272" />
<ellipse cx="341.2" cy="238.0" rx="14.0" ry="50.0" fill="#6c6c6c" />
</g>
<g opacity="0.0"></g>
<circle cx="330" cy="202" r="4.5" fill="#444" opacity="0.7" filter="url(#b2)"/>
<path d="M430.5 240.0 L430.4 246.9 L430.0 253.7 L429.4 260.5 L428.6 267.3 L427.5 274.1 L426.2 280.9 L424.7 287.5 L422.9 294.2 L420.9 300.7 L418.6 307.2 L416.2 313.6 L413.5 319.9 L410.6 326.1 L407.5 332.3 L404.2 338.2 L400.6 344.1 L396.9 349.9 L393.0 355.5 L388.8 361.0 L384.5 366.3 L380.0 371.5 L375.4 376.5 L370.5 381.4 L365.5 386.0 L360.3 390.5 L355.0 394.8 L349.5 399.0 L343.9 402.9 L338.1 406.6 L332.2 410.2 L326.3 413.5 L320.1 416.6 L313.9 419.5 L307.6 422.2 L301.2 424.6 L294.7 426.9 L288.2 428.9 L281.5 430.7 L274.9 432.2 L268.1 433.5 L261.3 434.6 L254.5 435.4 L247.7 436.0 L240.9 436.4 L234.0 436.5 L227.1 436.4 L220.3 436.0 L213.5 435.4 L206.7 434.6 L199.9 433.5 L193.1 432.2 L186.5 430.7 L179.8 428.9 L173.3 426.9 L166.8 424.6 L160.4 422.2 L154.1 419.5 L147.9 416.6 L141.7 413.5 L135.8 410.2 L129.9 406.6 L124.1 402.9 L118.5 399.0 L113.0 394.8 L107.7 390.5 L102.5 386.0 L97.5 381.4 L92.6 376.5 L88.0 371.5 L83.5 366.3 L79.2 361.0 L75.0 355.5 L71.1 349.9 L67.4 344.1 L63.8 338.2 L60.5 332.3 L57.4 326.1 L54.5 319.9 L51.8 313.6 L49.4 307.2 L47.1 300.7 L45.1 294.2 L43.3 287.5 L41.8 280.9 L40.5 274.1 L39.4 267.3 L38.6 260.5 L38.0 253.7 L37.6 246.9 L37.5 240.0 L37.6 233.1 L38.0 226.3 L38.6 219.5 L39.4 212.7 L40.5 205.9 L41.8 199.1 L43.3 192.5 L45.1 185.8 L47.1 179.3 L49.4 172.8 L51.8 166.4 L54.5 160.1 L57.4 153.9 L60.5 147.7 L63.8 141.7 L67.4 135.9 L71.1 130.1 L75.0 124.5 L79.2 119.0 L83.5 113.7 L88.0 108.5 L92.6 103.5 L97.5 98.6 L102.5 94.0 L107.7 89.5 L113.0 85.2 L118.5 81.0 L124.1 77.1 L129.9 73.4 L135.7 69.8 L141.7 66.5 L147.9 63.4 L154.1 60.5 L160.4 57.8 L166.8 55.4 L173.3 53.1 L179.8 51.1 L186.5 49.3 L193.1 47.8 L199.9 46.5 L206.7 45.4 L213.5 44.6 L220.3 44.0 L227.1 43.6 L234.0 43.5 L240.9 43.6 L247.7 44.0 L254.5 44.6 L261.3 45.4 L268.1 46.5 L274.9 47.8 L281.5 49.3 L288.2 51.1 L294.7 53.1 L301.2 55.4 L307.6 57.8 L313.9 60.5 L320.1 63.4 L326.3 66.5 L332.2 69.8 L338.1 73.4 L343.9 77.1 L349.5 81.0 L355.0 85.2 L360.3 89.5 L365.5 94.0 L370.5 98.6 L375.4 103.5 L380.0 108.5 L384.5 113.7 L388.8 119.0 L393.0 124.5 L396.9 130.1 L400.6 135.9 L404.2 141.7 L407.5 147.7 L410.6 153.9 L413.5 160.1 L416.2 166.4 L418.6 172.8 L420.9 179.3 L422.9 185.8 L424.7 192.5 L426.2 199.1 L427.5 205.9 L428.6 212.7 L429.4 219.5 L430.0 226.3 L430.4 233.1 L430.5 240.0" fill="none" stroke="#323232" stroke-width="5.50" stroke-opacity="0.850" stroke-linecap="round" filter="url(#b2)"/>
<path d="M434.0 240.0 L433.9 247.0 L433.5 254.0 L432.9 260.9 L432.1 267.8 L431.0 274.7 L429.6 281.6 L428.1 288.4 L426.3 295.1 L424.2 301.8 L421.9 308.4 L419.4 314.9 L416.7 321.3 L413.8 327.7 L410.6 333.9 L407.2 340.0 L403.6 346.0 L399.8 351.8 L395.8 357.6 L391.6 363.1 L387.2 368.6 L382.6 373.8 L377.9 378.9 L372.9 383.9 L367.8 388.6 L362.6 393.2 L357.1 397.6 L351.6 401.8 L345.8 405.8 L340.0 409.6 L334.0 413.2 L327.9 416.6 L321.7 419.8 L315.3 422.7 L308.9 425.4 L302.4 427.9 L295.8 430.2 L289.1 432.3 L282.4 434.1 L275.6 435.6 L268.7 437.0 L261.8 438.1 L254.9 438.9 L248.0 439.5 L241.0 439.9 L234.0 440.0 L227.0 439.9 L220.0 439.5 L213.1 438.9 L206.2 438.1 L199.3 437.0 L192.4 435.6 L185.6 434.1 L178.9 432.3 L172.2 430.2 L165.6 427.9 L159.1 425.4 L152.7 422.7 L146.3 419.8 L140.1 416.6 L134.0 413.2 L128.0 409.6 L122.2 405.8 L116.4 401.8 L110.9 397.6 L105.4 393.2 L100.2 388.6 L95.1 383.9 L90.1 378.9 L85.4 373.8 L80.8 368.6 L76.4 363.1 L72.2 357.6 L68.2 351.8 L64.4 346.0 L60.8 340.0 L57.4 333.9 L54.2 327.7 L51.3 321.3 L48.6 314.9 L46.1 308.4 L43.8 301.8 L41.7 295.1 L39.9 288.4 L38.4 281.6 L37.0 274.7 L35.9 267.8 L35.1 260.9 L34.5 254.0 L34.1 247.0 L34.0 240.0 L34.1 233.0 L34.5 226.0 L35.1 219.1 L35.9 212.2 L37.0 205.3 L38.4 198.4 L39.9 191.6 L41.7 184.9 L43.8 178.2 L46.1 171.6 L48.6 165.1 L51.3 158.7 L54.2 152.3 L57.4 146.1 L60.8 140.0 L64.4 134.0 L68.2 128.2 L72.2 122.4 L76.4 116.9 L80.8 111.4 L85.4 106.2 L90.1 101.1 L95.1 96.1 L100.2 91.4 L105.4 86.8 L110.9 82.4 L116.4 78.2 L122.2 74.2 L128.0 70.4 L134.0 66.8 L140.1 63.4 L146.3 60.2 L152.7 57.3 L159.1 54.6 L165.6 52.1 L172.2 49.8 L178.9 47.7 L185.6 45.9 L192.4 44.4 L199.3 43.0 L206.2 41.9 L213.1 41.1 L220.0 40.5 L227.0 40.1 L234.0 40.0 L241.0 40.1 L248.0 40.5 L254.9 41.1 L261.8 41.9 L268.7 43.0 L275.6 44.4 L282.4 45.9 L289.1 47.7 L295.8 49.8 L302.4 52.1 L308.9 54.6 L315.3 57.3 L321.7 60.2 L327.9 63.4 L334.0 66.8 L340.0 70.4 L345.8 74.2 L351.6 78.2 L357.1 82.4 L362.6 86.8 L367.8 91.4 L372.9 96.1 L377.9 101.1 L382.6 106.2 L387.2 111.4 L391.6 116.9 L395.8 122.4 L399.8 128.2 L403.6 134.0 L407.2 140.0 L410.6 146.1 L413.8 152.3 L416.7 158.7 L419.4 165.1 L421.9 171.6 L424.2 178.2 L426.3 184.9 L428.1 191.6 L429.6 198.4 L431.0 205.3 L432.1 212.2 L432.9 219.1 L433.5 226.0 L433.9 233.0 L434.0 240.0" fill="none" stroke="#4c4c4c" stroke-width="1.80" stroke-opacity="1.000" stroke-linecap="round" filter="url(#b1)"/>
<g filter="url(#b1)"><path d="M421.6 170.6 L423.4 175.8 L425.1 181.0 L426.7 186.3 L428.1 191.7" fill="none" stroke="#aaaaaa" stroke-width="2.00" stroke-opacity="0.034" stroke-linecap="round" /><path d="M427.6 189.6 L428.9 195.0 L430.0 200.4 L431.1 205.8 L431.9 211.2" fill="none" stroke="#aaaaaa" stroke-width="2.00" stroke-opacity="0.171" stroke-linecap="round" /><path d="M431.6 209.2 L432.4 214.6 L433.0 220.1 L433.5 225.6 L433.8 231.1" fill="none" stroke="#aaaaaa" stroke-width="2.00" stroke-opacity="0.349" stroke-linecap="round" /><path d="M433.7 229.0 L433.9 234.5 L434.0 240.0 L433.9 245.5 L433.7 251.0" fill="none" stroke="#aaaaaa" stroke-width="2.00" stroke-opacity="0.535" stroke-linecap="round" /><path d="M433.8 248.9 L433.5 254.4 L433.0 259.9 L432.4 265.4 L431.6 270.8" fill="none" stroke="#aaaaaa" stroke-width="2.00" stroke-opacity="0.701" stroke-linecap="round" /><path d="M431.9 268.8 L431.1 274.2 L430.0 279.6 L428.9 285.0 L427.6 290.4" fill="none" stroke="#aaaaaa" stroke-width="2.00" stroke-opacity="0.825" stroke-linecap="round" /><path d="M428.1 288.3 L426.7 293.7 L425.1 299.0 L423.4 304.2 L421.6 309.4" fill="none" stroke="#aaaaaa" stroke-width="2.00" stroke-opacity="0.892" stroke-linecap="round" /><path d="M422.3 307.4 L420.4 312.6 L418.3 317.7 L416.1 322.7 L413.7 327.7" fill="none" stroke="#aaaaaa" stroke-width="2.00" stroke-opacity="0.892" stroke-linecap="round" /><path d="M414.6 325.8 L412.2 330.8 L409.6 335.7 L406.9 340.5 L404.1 345.2" fill="none" stroke="#aaaaaa" stroke-width="2.00" stroke-opacity="0.825" stroke-linecap="round" /><path d="M405.2 343.4 L402.3 348.1 L399.2 352.7 L396.1 357.2 L392.8 361.6" fill="none" stroke="#aaaaaa" stroke-width="2.00" stroke-opacity="0.701" stroke-linecap="round" /><path d="M394.1 359.9 L390.7 364.3 L387.2 368.6 L383.6 372.7 L379.9 376.8" fill="none" stroke="#aaaaaa" stroke-width="2.00" stroke-opacity="0.535" stroke-linecap="round" /><path d="M381.3 375.3 L377.5 379.3 L373.6 383.2 L369.7 387.0 L365.6 390.6" fill="none" stroke="#aaaaaa" stroke-width="2.00" stroke-opacity="0.349" stroke-linecap="round" /><path d="M367.1 389.3 L363.0 392.9 L358.7 396.4 L354.3 399.7 L349.9 403.0" fill="none" stroke="#aaaaaa" stroke-width="2.00" stroke-opacity="0.171" stroke-linecap="round" /><path d="M351.6 401.8 L347.1 405.0 L342.5 408.0 L337.8 410.9 L333.1 413.7" fill="none" stroke="#aaaaaa" stroke-width="2.00" stroke-opacity="0.034" stroke-linecap="round" /></g>
<g filter="url(#b1)"><path d="M61.3 340.9 L58.0 335.0 L54.9 329.0 L52.0 322.9 L49.3 316.7" fill="none" stroke="#8a8a8a" stroke-width="2.00" stroke-opacity="0.030" stroke-linecap="round" /><path d="M50.1 318.7 L47.6 312.4 L45.2 306.1 L43.1 299.6 L41.2 293.2" fill="none" stroke="#8a8a8a" stroke-width="2.00" stroke-opacity="0.152" stroke-linecap="round" /><path d="M41.8 295.2 L40.0 288.7 L38.5 282.1 L37.2 275.4 L36.1 268.8" fill="none" stroke="#8a8a8a" stroke-width="2.00" stroke-opacity="0.310" stroke-linecap="round" /><path d="M36.4 270.8 L35.5 264.2 L34.8 257.4 L34.3 250.7 L34.0 243.9" fill="none" stroke="#8a8a8a" stroke-width="2.00" stroke-opacity="0.476" stroke-linecap="round" /><path d="M34.1 246.0 L34.0 239.3 L34.1 232.5 L34.5 225.8 L35.1 219.0" fill="none" stroke="#8a8a8a" stroke-width="2.00" stroke-opacity="0.623" stroke-linecap="round" /><path d="M34.9 221.1 L35.6 214.4 L36.6 207.7 L37.8 201.1 L39.3 194.5" fill="none" stroke="#8a8a8a" stroke-width="2.00" stroke-opacity="0.734" stroke-linecap="round" /><path d="M38.8 196.5 L40.4 189.9 L42.2 183.4 L44.2 177.0 L46.4 170.6" fill="none" stroke="#8a8a8a" stroke-width="2.00" stroke-opacity="0.792" stroke-linecap="round" /><path d="M45.7 172.6 L48.1 166.3 L50.7 160.0 L53.5 153.9 L56.5 147.8" fill="none" stroke="#8a8a8a" stroke-width="2.00" stroke-opacity="0.792" stroke-linecap="round" /><path d="M55.6 149.7 L58.7 143.7 L62.1 137.8 L65.6 132.1 L69.3 126.5" fill="none" stroke="#8a8a8a" stroke-width="2.00" stroke-opacity="0.734" stroke-linecap="round" /><path d="M68.2 128.2 L72.0 122.7 L76.1 117.3 L80.3 112.0 L84.7 106.9" fill="none" stroke="#8a8a8a" stroke-width="2.00" stroke-opacity="0.623" stroke-linecap="round" /><path d="M83.4 108.4 L87.9 103.4 L92.6 98.6 L97.4 93.9 L102.4 89.4" fill="none" stroke="#8a8a8a" stroke-width="2.00" stroke-opacity="0.476" stroke-linecap="round" /><path d="M100.9 90.7 L106.0 86.3 L111.3 82.1 L116.7 78.0 L122.2 74.2" fill="none" stroke="#8a8a8a" stroke-width="2.00" stroke-opacity="0.310" stroke-linecap="round" /><path d="M120.5 75.3 L126.1 71.6 L131.8 68.1 L137.7 64.7 L143.7 61.6" fill="none" stroke="#8a8a8a" stroke-width="2.00" stroke-opacity="0.152" stroke-linecap="round" /><path d="M141.8 62.5 L147.9 59.5 L154.0 56.7 L160.3 54.1 L166.6 51.7" fill="none" stroke="#8a8a8a" stroke-width="2.00" stroke-opacity="0.030" stroke-linecap="round" /></g>
<g filter="url(#b1)"><path d="M80.1 112.2 L83.7 108.1 L87.4 104.0 L91.2 100.0 L95.1 96.1" fill="none" stroke="#8a8a8a" stroke-width="2.00" stroke-opacity="0.030" stroke-linecap="round" /><path d="M93.6 97.6 L97.6 93.7 L101.7 90.0 L105.8 86.5 L110.1 83.0" fill="none" stroke="#8a8a8a" stroke-width="2.00" stroke-opacity="0.152" stroke-linecap="round" /><path d="M108.5 84.3 L112.8 80.9 L117.3 77.6 L121.8 74.5 L126.4 71.4" fill="none" stroke="#8a8a8a" stroke-width="2.00" stroke-opacity="0.310" stroke-linecap="round" /><path d="M124.6 72.6 L129.3 69.6 L134.0 66.8 L138.8 64.1 L143.7 61.6" fill="none" stroke="#8a8a8a" stroke-width="2.00" stroke-opacity="0.476" stroke-linecap="round" /><path d="M141.8 62.5 L146.8 60.0 L151.7 57.7 L156.8 55.5 L161.9 53.4" fill="none" stroke="#8a8a8a" stroke-width="2.00" stroke-opacity="0.623" stroke-linecap="round" /><path d="M160.0 54.2 L165.1 52.2 L170.3 50.4 L175.5 48.7 L180.8 47.2" fill="none" stroke="#8a8a8a" stroke-width="2.00" stroke-opacity="0.734" stroke-linecap="round" /><path d="M178.8 47.8 L184.1 46.3 L189.5 45.0 L194.9 43.9 L200.3 42.9" fill="none" stroke="#8a8a8a" stroke-width="2.00" stroke-opacity="0.792" stroke-linecap="round" /><path d="M198.2 43.2 L203.7 42.3 L209.1 41.6 L214.6 40.9 L220.1 40.5" fill="none" stroke="#8a8a8a" stroke-width="2.00" stroke-opacity="0.792" stroke-linecap="round" /><path d="M218.0 40.6 L223.5 40.3 L229.0 40.1 L234.5 40.0 L240.0 40.1" fill="none" stroke="#8a8a8a" stroke-width="2.00" stroke-opacity="0.734" stroke-linecap="round" /><path d="M237.9 40.0 L243.4 40.2 L248.9 40.6 L254.4 41.0 L259.9 41.7" fill="none" stroke="#8a8a8a" stroke-width="2.00" stroke-opacity="0.623" stroke-linecap="round" /><path d="M257.8 41.4 L263.3 42.2 L268.7 43.0 L274.1 44.1 L279.5 45.3" fill="none" stroke="#8a8a8a" stroke-width="2.00" stroke-opacity="0.476" stroke-linecap="round" /><path d="M277.5 44.8 L282.8 46.1 L288.2 47.5 L293.5 49.0 L298.7 50.8" fill="none" stroke="#8a8a8a" stroke-width="2.00" stroke-opacity="0.310" stroke-linecap="round" /><path d="M296.7 50.1 L301.9 51.9 L307.1 53.8 L312.2 55.9 L317.2 58.1" fill="none" stroke="#8a8a8a" stroke-width="2.00" stroke-opacity="0.152" stroke-linecap="round" /><path d="M315.3 57.3 L320.3 59.6 L325.2 62.0 L330.1 64.6 L334.9 67.3" fill="none" stroke="#8a8a8a" stroke-width="2.00" stroke-opacity="0.030" stroke-linecap="round" /></g>
<g filter="url(#b1)"><path d="M334.9 412.7 L330.1 415.4 L325.2 418.0 L320.3 420.4 L315.3 422.7" fill="none" stroke="#8a8a8a" stroke-width="2.00" stroke-opacity="0.030" stroke-linecap="round" /><path d="M317.2 421.9 L312.2 424.1 L307.1 426.2 L301.9 428.1 L296.7 429.9" fill="none" stroke="#8a8a8a" stroke-width="2.00" stroke-opacity="0.152" stroke-linecap="round" /><path d="M298.7 429.2 L293.5 431.0 L288.2 432.5 L282.8 433.9 L277.5 435.2" fill="none" stroke="#8a8a8a" stroke-width="2.00" stroke-opacity="0.310" stroke-linecap="round" /><path d="M279.5 434.7 L274.1 435.9 L268.7 437.0 L263.3 437.8 L257.8 438.6" fill="none" stroke="#8a8a8a" stroke-width="2.00" stroke-opacity="0.476" stroke-linecap="round" /><path d="M259.9 438.3 L254.4 439.0 L248.9 439.4 L243.4 439.8 L237.9 440.0" fill="none" stroke="#8a8a8a" stroke-width="2.00" stroke-opacity="0.623" stroke-linecap="round" /><path d="M240.0 439.9 L234.5 440.0 L229.0 439.9 L223.5 439.7 L218.0 439.4" fill="none" stroke="#8a8a8a" stroke-width="2.00" stroke-opacity="0.734" stroke-linecap="round" /><path d="M220.1 439.5 L214.6 439.1 L209.1 438.4 L203.7 437.7 L198.2 436.8" fill="none" stroke="#8a8a8a" stroke-width="2.00" stroke-opacity="0.792" stroke-linecap="round" /><path d="M200.3 437.1 L194.9 436.1 L189.5 435.0 L184.1 433.7 L178.8 432.2" fill="none" stroke="#8a8a8a" stroke-width="2.00" stroke-opacity="0.792" stroke-linecap="round" /><path d="M180.8 432.8 L175.5 431.3 L170.3 429.6 L165.1 427.8 L160.0 425.8" fill="none" stroke="#8a8a8a" stroke-width="2.00" stroke-opacity="0.734" stroke-linecap="round" /><path d="M161.9 426.6 L156.8 424.5 L151.7 422.3 L146.8 420.0 L141.8 417.5" fill="none" stroke="#8a8a8a" stroke-width="2.00" stroke-opacity="0.623" stroke-linecap="round" /><path d="M143.7 418.4 L138.8 415.9 L134.0 413.2 L129.3 410.4 L124.6 407.4" fill="none" stroke="#8a8a8a" stroke-width="2.00" stroke-opacity="0.476" stroke-linecap="round" /><path d="M126.4 408.6 L121.8 405.5 L117.3 402.4 L112.8 399.1 L108.5 395.7" fill="none" stroke="#8a8a8a" stroke-width="2.00" stroke-opacity="0.310" stroke-linecap="round" /><path d="M110.1 397.0 L105.8 393.5 L101.7 390.0 L97.6 386.3 L93.6 382.4" fill="none" stroke="#8a8a8a" stroke-width="2.00" stroke-opacity="0.152" stroke-linecap="round" /><path d="M95.1 383.9 L91.2 380.0 L87.4 376.0 L83.7 371.9 L80.1 367.8" fill="none" stroke="#8a8a8a" stroke-width="2.00" stroke-opacity="0.030" stroke-linecap="round" /></g>
<g filter="url(#b1)">
<ellipse cx="243" cy="445" rx="11" ry="3" fill="#ddd" transform="rotate(12 243 445)"/>
<circle cx="213" cy="421" r="3.2" fill="none" stroke="#ccc" stroke-width="1.6"/>
<path d="M408 288 l4 8 l4 -8 m-10 -4 l3 5" stroke="#bbb" stroke-width="2" fill="none"/>
<circle cx="211" cy="58" r="1.6" fill="#999"/>
<circle cx="228" cy="57" r="1.6" fill="#999"/>
<circle cx="160" cy="68" r="1.6" fill="#999"/>
<circle cx="388" cy="104" r="1.6" fill="#999"/>
<circle cx="395" cy="118" r="1.6" fill="#999"/>
<circle cx="77" cy="146" r="1.6" fill="#999"/>
<circle cx="420" cy="205" r="1.6" fill="#999"/>
<circle cx="426" cy="300" r="1.6" fill="#999"/>
<circle cx="284" cy="437" r="1.6" fill="#999"/>
<circle cx="268" cy="434" r="1.6" fill="#999"/>
</g>
<rect x="0" y="0" width="467" height="467" filter="url(#nz)"/>
<rect x="337.7" y="447.1" width="112.6" height="5.5" fill="#fff"/>
</g>
<g transform="translate(57.5,1045.7)" clip-path="url(#pc)">
<rect x="0" y="0" width="467" height="467" fill="#121212"/>
<rect x="0" y="0" width="467" height="3" fill="#000"/><rect x="0" y="0" width="1.5" height="467" fill="#000"/>
<ellipse cx="235.5" cy="234.3" rx="187.4" ry="186.7" fill="url(#rg13)" />
<g filter="url(#b14)">
<ellipse cx="130.0" cy="250.0" rx="50.0" ry="60.0" fill="#1a1a1a" />
<ellipse cx="300.0" cy="200.0" rx="80.0" ry="60.0" fill="#161616" />
</g>
<path d="M422.9 234.3 L422.8 240.8 L422.4 247.3 L421.9 253.8 L421.1 260.3 L420.1 266.7 L418.8 273.1 L417.3 279.5 L415.6 285.8 L413.7 292.0 L411.6 298.2 L409.3 304.2 L406.7 310.2 L403.9 316.1 L401.0 322.0 L397.8 327.6 L394.4 333.2 L390.9 338.7 L387.1 344.0 L383.2 349.2 L379.1 354.3 L374.8 359.2 L370.3 364.0 L365.7 368.6 L360.9 373.0 L356.0 377.3 L350.9 381.4 L345.7 385.3 L340.3 389.1 L334.8 392.6 L329.2 396.0 L323.5 399.1 L317.7 402.1 L311.7 404.9 L305.7 407.4 L299.6 409.7 L293.4 411.9 L287.2 413.8 L280.8 415.5 L274.5 416.9 L268.0 418.2 L261.6 419.2 L255.1 420.0 L248.6 420.5 L242.0 420.9 L235.5 421.0 L229.0 420.9 L222.4 420.5 L215.9 420.0 L209.4 419.2 L203.0 418.2 L196.5 416.9 L190.2 415.5 L183.8 413.8 L177.6 411.9 L171.4 409.7 L165.3 407.4 L159.3 404.9 L153.3 402.1 L147.5 399.1 L141.8 396.0 L136.2 392.6 L130.7 389.1 L125.3 385.3 L120.1 381.4 L115.0 377.3 L110.1 373.0 L105.3 368.6 L100.7 364.0 L96.2 359.2 L91.9 354.3 L87.8 349.2 L83.9 344.0 L80.1 338.7 L76.6 333.2 L73.2 327.6 L70.0 322.0 L67.1 316.1 L64.3 310.2 L61.7 304.2 L59.4 298.2 L57.3 292.0 L55.4 285.8 L53.7 279.5 L52.2 273.1 L50.9 266.7 L49.9 260.3 L49.1 253.8 L48.6 247.3 L48.2 240.8 L48.1 234.3 L48.2 227.8 L48.6 221.3 L49.1 214.8 L49.9 208.3 L50.9 201.9 L52.2 195.5 L53.7 189.1 L55.4 182.8 L57.3 176.6 L59.4 170.4 L61.7 164.4 L64.3 158.4 L67.1 152.5 L70.0 146.6 L73.2 140.9 L76.6 135.4 L80.1 129.9 L83.9 124.6 L87.8 119.4 L91.9 114.3 L96.2 109.4 L100.7 104.6 L105.3 100.0 L110.1 95.6 L115.0 91.3 L120.1 87.2 L125.3 83.3 L130.7 79.5 L136.2 76.0 L141.8 72.6 L147.5 69.5 L153.3 66.5 L159.3 63.7 L165.3 61.2 L171.4 58.9 L177.6 56.7 L183.8 54.8 L190.2 53.1 L196.5 51.7 L203.0 50.4 L209.4 49.4 L215.9 48.6 L222.4 48.1 L229.0 47.7 L235.5 47.6 L242.0 47.7 L248.6 48.1 L255.1 48.6 L261.6 49.4 L268.0 50.4 L274.5 51.7 L280.8 53.1 L287.2 54.8 L293.4 56.7 L299.6 58.9 L305.7 61.2 L311.7 63.7 L317.7 66.5 L323.5 69.5 L329.2 72.6 L334.8 76.0 L340.3 79.5 L345.7 83.3 L350.9 87.2 L356.0 91.3 L360.9 95.6 L365.7 100.0 L370.3 104.6 L374.8 109.4 L379.1 114.3 L383.2 119.4 L387.1 124.6 L390.9 129.9 L394.4 135.4 L397.8 140.9 L401.0 146.6 L403.9 152.5 L406.7 158.4 L409.3 164.4 L411.6 170.4 L413.7 176.6 L415.6 182.8 L417.3 189.1 L418.8 195.5 L420.1 201.9 L421.1 208.3 L421.9 214.8 L422.4 221.3 L422.8 227.8 L422.9 234.3" fill="none" stroke="#3c3c3c" stroke-width="1.10" stroke-opacity="1.000" stroke-linecap="round" filter="url(#b1)"/>
<g filter="url(#b1)"><path d="M52.4 274.1 L51.5 269.9 L50.8 265.8 L50.1 261.6 L49.5 257.5" fill="none" stroke="#b0b0b0" stroke-width="1.40" stroke-opacity="0.030" stroke-linecap="round" /><path d="M49.8 259.4 L49.3 255.2 L48.9 251.0 L48.5 246.8 L48.3 242.6" fill="none" stroke="#b0b0b0" stroke-width="1.40" stroke-opacity="0.152" stroke-linecap="round" /><path d="M48.4 244.6 L48.2 240.4 L48.1 236.2 L48.1 231.9 L48.2 227.7" fill="none" stroke="#b0b0b0" stroke-width="1.40" stroke-opacity="0.310" stroke-linecap="round" /><path d="M48.2 229.7 L48.3 225.5 L48.6 221.3 L48.9 217.1 L49.3 212.9" fill="none" stroke="#b0b0b0" stroke-width="1.40" stroke-opacity="0.476" stroke-linecap="round" /><path d="M49.1 214.8 L49.6 210.6 L50.2 206.5 L50.9 202.3 L51.6 198.2" fill="none" stroke="#b0b0b0" stroke-width="1.40" stroke-opacity="0.623" stroke-linecap="round" /><path d="M51.3 200.1 L52.1 196.0 L53.0 191.8 L54.0 187.8 L55.1 183.7" fill="none" stroke="#b0b0b0" stroke-width="1.40" stroke-opacity="0.734" stroke-linecap="round" /><path d="M54.6 185.6 L55.7 181.5 L57.0 177.5 L58.3 173.5 L59.7 169.5" fill="none" stroke="#b0b0b0" stroke-width="1.40" stroke-opacity="0.792" stroke-linecap="round" /><path d="M59.1 171.4 L60.5 167.4 L62.1 163.5 L63.7 159.6 L65.5 155.8" fill="none" stroke="#b0b0b0" stroke-width="1.40" stroke-opacity="0.792" stroke-linecap="round" /><path d="M64.7 157.6 L66.4 153.7 L68.3 150.0 L70.3 146.2 L72.3 142.5" fill="none" stroke="#b0b0b0" stroke-width="1.40" stroke-opacity="0.734" stroke-linecap="round" /><path d="M71.3 144.2 L73.4 140.6 L75.6 136.9 L77.8 133.4 L80.2 129.9" fill="none" stroke="#b0b0b0" stroke-width="1.40" stroke-opacity="0.623" stroke-linecap="round" /><path d="M79.1 131.5 L81.4 128.0 L83.9 124.6 L86.4 121.2 L89.0 117.9" fill="none" stroke="#b0b0b0" stroke-width="1.40" stroke-opacity="0.476" stroke-linecap="round" /><path d="M87.8 119.4 L90.4 116.1 L93.2 112.9 L95.9 109.7 L98.8 106.6" fill="none" stroke="#b0b0b0" stroke-width="1.40" stroke-opacity="0.310" stroke-linecap="round" /><path d="M97.5 108.0 L100.4 105.0 L103.3 102.0 L106.3 99.0 L109.4 96.1" fill="none" stroke="#b0b0b0" stroke-width="1.40" stroke-opacity="0.152" stroke-linecap="round" /><path d="M108.0 97.5 L111.1 94.6 L114.3 91.9 L117.6 89.2 L120.9 86.6" fill="none" stroke="#b0b0b0" stroke-width="1.40" stroke-opacity="0.030" stroke-linecap="round" /></g>
<g filter="url(#b1)"><path d="M397.3 140.1 L400.1 145.1 L402.8 150.2 L405.3 155.3 L407.7 160.5" fill="none" stroke="#808080" stroke-width="1.20" stroke-opacity="0.022" stroke-linecap="round" /><path d="M406.9 158.7 L409.1 164.0 L411.2 169.4 L413.1 174.8 L414.9 180.2" fill="none" stroke="#808080" stroke-width="1.20" stroke-opacity="0.114" stroke-linecap="round" /><path d="M414.3 178.3 L415.9 183.8 L417.4 189.4 L418.7 194.9 L419.8 200.6" fill="none" stroke="#808080" stroke-width="1.20" stroke-opacity="0.233" stroke-linecap="round" /><path d="M419.4 198.6 L420.5 204.3 L421.3 209.9 L422.0 215.6 L422.4 221.3" fill="none" stroke="#808080" stroke-width="1.20" stroke-opacity="0.357" stroke-linecap="round" /><path d="M422.3 219.4 L422.7 225.1 L422.9 230.8 L422.9 236.5 L422.7 242.3" fill="none" stroke="#808080" stroke-width="1.20" stroke-opacity="0.467" stroke-linecap="round" /><path d="M422.8 240.3 L422.5 246.0 L422.1 251.7 L421.5 257.4 L420.7 263.1" fill="none" stroke="#808080" stroke-width="1.20" stroke-opacity="0.550" stroke-linecap="round" /><path d="M421.0 261.2 L420.0 266.8 L418.9 272.4 L417.7 278.0 L416.3 283.6" fill="none" stroke="#808080" stroke-width="1.20" stroke-opacity="0.594" stroke-linecap="round" /><path d="M416.8 281.7 L415.2 287.2 L413.5 292.7 L411.6 298.1 L409.6 303.4" fill="none" stroke="#808080" stroke-width="1.20" stroke-opacity="0.594" stroke-linecap="round" /><path d="M410.3 301.6 L408.1 306.9 L405.8 312.1 L403.4 317.3 L400.7 322.4" fill="none" stroke="#808080" stroke-width="1.20" stroke-opacity="0.550" stroke-linecap="round" /><path d="M401.6 320.7 L398.9 325.7 L396.0 330.7 L393.0 335.5 L389.8 340.3" fill="none" stroke="#808080" stroke-width="1.20" stroke-opacity="0.467" stroke-linecap="round" /><path d="M390.9 338.7 L387.6 343.4 L384.2 348.0 L380.6 352.4 L376.9 356.8" fill="none" stroke="#808080" stroke-width="1.20" stroke-opacity="0.357" stroke-linecap="round" /><path d="M378.2 355.3 L374.4 359.6 L370.5 363.8 L366.4 367.9 L362.2 371.8" fill="none" stroke="#808080" stroke-width="1.20" stroke-opacity="0.233" stroke-linecap="round" /><path d="M363.7 370.5 L359.4 374.3 L355.1 378.1 L350.6 381.7 L346.0 385.1" fill="none" stroke="#808080" stroke-width="1.20" stroke-opacity="0.114" stroke-linecap="round" /><path d="M347.6 383.9 L342.9 387.3 L338.2 390.5 L333.3 393.6 L328.3 396.5" fill="none" stroke="#808080" stroke-width="1.20" stroke-opacity="0.022" stroke-linecap="round" /></g>
<g ><path d="M72.7 141.8 L75.9 136.4 L79.4 131.1 L82.9 125.9 L86.7 120.8" fill="none" stroke="#707070" stroke-width="1.10" stroke-opacity="0.019" stroke-linecap="round" /><path d="M85.5 122.4 L89.4 117.4 L93.5 112.5 L97.7 107.8 L102.0 103.2" fill="none" stroke="#707070" stroke-width="1.10" stroke-opacity="0.095" stroke-linecap="round" /><path d="M100.7 104.6 L105.1 100.2 L109.8 95.9 L114.5 91.7 L119.4 87.7" fill="none" stroke="#707070" stroke-width="1.10" stroke-opacity="0.194" stroke-linecap="round" /><path d="M117.9 88.9 L122.9 85.1 L128.0 81.4 L133.3 77.8 L138.6 74.5" fill="none" stroke="#707070" stroke-width="1.10" stroke-opacity="0.297" stroke-linecap="round" /><path d="M136.9 75.5 L142.4 72.3 L147.9 69.2 L153.6 66.4 L159.3 63.7" fill="none" stroke="#707070" stroke-width="1.10" stroke-opacity="0.390" stroke-linecap="round" /><path d="M157.5 64.5 L163.3 62.0 L169.2 59.7 L175.2 57.5 L181.2 55.6" fill="none" stroke="#707070" stroke-width="1.10" stroke-opacity="0.459" stroke-linecap="round" /><path d="M179.3 56.2 L185.4 54.4 L191.5 52.8 L197.7 51.4 L203.9 50.3" fill="none" stroke="#707070" stroke-width="1.10" stroke-opacity="0.495" stroke-linecap="round" /><path d="M202.0 50.6 L208.2 49.6 L214.5 48.8 L220.8 48.2 L227.1 47.8" fill="none" stroke="#707070" stroke-width="1.10" stroke-opacity="0.495" stroke-linecap="round" /><path d="M225.2 47.9 L231.5 47.6 L237.8 47.6 L244.2 47.8 L250.5 48.2" fill="none" stroke="#707070" stroke-width="1.10" stroke-opacity="0.459" stroke-linecap="round" /><path d="M248.5 48.1 L254.8 48.6 L261.1 49.4 L267.4 50.3 L273.6 51.5" fill="none" stroke="#707070" stroke-width="1.10" stroke-opacity="0.390" stroke-linecap="round" /><path d="M271.7 51.1 L277.9 52.4 L284.0 54.0 L290.1 55.7 L296.1 57.6" fill="none" stroke="#707070" stroke-width="1.10" stroke-opacity="0.297" stroke-linecap="round" /><path d="M294.3 57.0 L300.2 59.1 L306.1 61.4 L312.0 63.8 L317.7 66.5" fill="none" stroke="#707070" stroke-width="1.10" stroke-opacity="0.194" stroke-linecap="round" /><path d="M315.9 65.7 L321.6 68.5 L327.2 71.5 L332.6 74.6 L338.0 78.0" fill="none" stroke="#707070" stroke-width="1.10" stroke-opacity="0.095" stroke-linecap="round" /><path d="M336.3 76.9 L341.6 80.4 L346.8 84.1 L351.8 87.9 L356.7 91.9" fill="none" stroke="#707070" stroke-width="1.10" stroke-opacity="0.019" stroke-linecap="round" /></g>
<g ><path d="M330.0 395.5 L324.5 398.6 L318.9 401.5 L313.2 404.2 L307.4 406.7" fill="none" stroke="#606060" stroke-width="1.10" stroke-opacity="0.017" stroke-linecap="round" /><path d="M309.2 406.0 L303.3 408.3 L297.4 410.5 L291.4 412.5 L285.3 414.3" fill="none" stroke="#606060" stroke-width="1.10" stroke-opacity="0.085" stroke-linecap="round" /><path d="M287.2 413.8 L281.1 415.4 L274.9 416.8 L268.7 418.0 L262.5 419.1" fill="none" stroke="#606060" stroke-width="1.10" stroke-opacity="0.175" stroke-linecap="round" /><path d="M264.4 418.8 L258.1 419.6 L251.8 420.3 L245.5 420.7 L239.2 421.0" fill="none" stroke="#606060" stroke-width="1.10" stroke-opacity="0.268" stroke-linecap="round" /><path d="M241.2 420.9 L234.8 421.0 L228.5 420.9 L222.2 420.5 L215.9 420.0" fill="none" stroke="#606060" stroke-width="1.10" stroke-opacity="0.351" stroke-linecap="round" /><path d="M217.8 420.2 L211.5 419.5 L205.3 418.6 L199.0 417.4 L192.8 416.1" fill="none" stroke="#606060" stroke-width="1.10" stroke-opacity="0.413" stroke-linecap="round" /><path d="M194.8 416.5 L188.6 415.1 L182.5 413.4 L176.5 411.5 L170.5 409.4" fill="none" stroke="#606060" stroke-width="1.10" stroke-opacity="0.446" stroke-linecap="round" /><path d="M172.3 410.1 L166.4 407.8 L160.6 405.4 L154.8 402.8 L149.1 400.0" fill="none" stroke="#606060" stroke-width="1.10" stroke-opacity="0.446" stroke-linecap="round" /><path d="M150.9 400.9 L145.3 397.9 L139.8 394.8 L134.4 391.5 L129.1 388.0" fill="none" stroke="#606060" stroke-width="1.10" stroke-opacity="0.413" stroke-linecap="round" /><path d="M130.7 389.1 L125.6 385.5 L120.5 381.7 L115.6 377.8 L110.8 373.6" fill="none" stroke="#606060" stroke-width="1.10" stroke-opacity="0.351" stroke-linecap="round" /><path d="M112.2 374.9 L107.5 370.7 L103.0 366.3 L98.6 361.8 L94.3 357.1" fill="none" stroke="#606060" stroke-width="1.10" stroke-opacity="0.268" stroke-linecap="round" /><path d="M95.6 358.6 L91.5 353.8 L87.5 348.9 L83.7 343.8 L80.1 338.7" fill="none" stroke="#606060" stroke-width="1.10" stroke-opacity="0.175" stroke-linecap="round" /><path d="M81.2 340.3 L77.7 335.0 L74.4 329.7 L71.2 324.2 L68.3 318.6" fill="none" stroke="#606060" stroke-width="1.10" stroke-opacity="0.085" stroke-linecap="round" /><path d="M69.2 320.3 L66.4 314.7 L63.7 309.0 L61.3 303.1 L59.1 297.2" fill="none" stroke="#606060" stroke-width="1.10" stroke-opacity="0.017" stroke-linecap="round" /></g>
<g stroke="#3a3a3a" stroke-width="1" filter="url(#b1)"><path d="M28 122 L62 165"/><path d="M42 128 L60 158"/></g>
<rect x="0" y="0" width="467" height="467" filter="url(#nz)"/>
</g>
<g transform="translate(540.0,1045.7)" clip-path="url(#pc)">
<rect x="0" y="0" width="467" height="467" fill="#131313"/>
<rect x="0" y="0" width="467" height="3" fill="#000"/><rect x="0" y="0" width="1.5" height="467" fill="#000"/>
<ellipse cx="236.0" cy="234.5" rx="190.6" ry="190.4" fill="url(#rg14)" />
<path d="M423.6 234.5 L423.5 241.0 L423.1 247.6 L422.6 254.1 L421.8 260.6 L420.7 267.0 L419.5 273.5 L418.0 279.8 L416.3 286.2 L414.4 292.4 L412.3 298.6 L409.9 304.7 L407.4 310.7 L404.6 316.7 L401.6 322.5 L398.5 328.2 L395.1 333.8 L391.5 339.3 L387.8 344.7 L383.8 349.9 L379.7 355.0 L375.4 359.9 L370.9 364.7 L366.3 369.3 L361.5 373.8 L356.6 378.1 L351.5 382.2 L346.3 386.1 L340.9 389.9 L335.4 393.4 L329.8 396.8 L324.1 400.0 L318.2 402.9 L312.3 405.7 L306.3 408.3 L300.2 410.6 L294.0 412.7 L287.7 414.6 L281.4 416.3 L275.0 417.8 L268.6 419.1 L262.1 420.1 L255.6 420.9 L249.1 421.4 L242.5 421.8 L236.0 421.9 L229.5 421.8 L222.9 421.4 L216.4 420.9 L209.9 420.1 L203.4 419.1 L197.0 417.8 L190.6 416.3 L184.3 414.6 L178.0 412.7 L171.8 410.6 L165.7 408.3 L159.7 405.7 L153.8 402.9 L147.9 400.0 L142.2 396.8 L136.6 393.4 L131.1 389.9 L125.7 386.1 L120.5 382.2 L115.4 378.1 L110.5 373.8 L105.7 369.3 L101.1 364.7 L96.6 359.9 L92.3 355.0 L88.2 349.9 L84.2 344.7 L80.5 339.3 L76.9 333.8 L73.5 328.2 L70.4 322.5 L67.4 316.7 L64.6 310.7 L62.1 304.7 L59.7 298.6 L57.6 292.4 L55.7 286.2 L54.0 279.8 L52.5 273.5 L51.3 267.0 L50.2 260.6 L49.4 254.1 L48.9 247.6 L48.5 241.0 L48.4 234.5 L48.5 228.0 L48.9 221.4 L49.4 214.9 L50.2 208.4 L51.3 202.0 L52.5 195.5 L54.0 189.2 L55.7 182.8 L57.6 176.6 L59.7 170.4 L62.1 164.3 L64.6 158.3 L67.4 152.3 L70.4 146.5 L73.5 140.8 L76.9 135.2 L80.5 129.7 L84.2 124.3 L88.2 119.1 L92.3 114.0 L96.6 109.1 L101.1 104.3 L105.7 99.7 L110.5 95.2 L115.4 90.9 L120.5 86.8 L125.7 82.9 L131.1 79.1 L136.6 75.6 L142.2 72.2 L147.9 69.0 L153.8 66.1 L159.7 63.3 L165.7 60.7 L171.8 58.4 L178.0 56.3 L184.3 54.4 L190.6 52.7 L197.0 51.2 L203.4 49.9 L209.9 48.9 L216.4 48.1 L222.9 47.6 L229.5 47.2 L236.0 47.1 L242.5 47.2 L249.1 47.6 L255.6 48.1 L262.1 48.9 L268.6 49.9 L275.0 51.2 L281.4 52.7 L287.7 54.4 L294.0 56.3 L300.2 58.4 L306.3 60.7 L312.3 63.3 L318.2 66.1 L324.1 69.0 L329.8 72.2 L335.4 75.6 L340.9 79.1 L346.3 82.9 L351.5 86.8 L356.6 90.9 L361.5 95.2 L366.3 99.7 L370.9 104.3 L375.4 109.1 L379.7 114.0 L383.8 119.1 L387.8 124.3 L391.5 129.7 L395.1 135.2 L398.5 140.8 L401.6 146.5 L404.6 152.3 L407.4 158.3 L409.9 164.3 L412.3 170.4 L414.4 176.6 L416.3 182.8 L418.0 189.2 L419.5 195.5 L420.7 202.0 L421.8 208.4 L422.6 214.9 L423.1 221.4 L423.5 228.0 L423.6 234.5" fill="none" stroke="#242424" stroke-width="4.00" stroke-opacity="0.700" stroke-linecap="round" filter="url(#b2)"/>
<path d="M426.6 234.5 L426.5 241.1 L426.1 247.8 L425.6 254.4 L424.7 261.0 L423.7 267.6 L422.4 274.1 L420.9 280.6 L419.2 287.0 L417.3 293.3 L415.1 299.6 L412.7 305.8 L410.1 311.9 L407.3 318.0 L404.3 323.9 L401.1 329.7 L397.6 335.4 L394.0 341.0 L390.2 346.4 L386.2 351.7 L382.0 356.9 L377.6 361.9 L373.1 366.8 L368.4 371.5 L363.5 376.0 L358.5 380.4 L353.3 384.5 L348.0 388.5 L342.6 392.3 L337.0 396.0 L331.3 399.4 L325.5 402.6 L319.6 405.6 L313.5 408.4 L307.4 411.0 L301.2 413.4 L294.9 415.6 L288.5 417.5 L282.1 419.2 L275.6 420.7 L269.1 422.0 L262.5 423.0 L255.9 423.9 L249.3 424.4 L242.7 424.8 L236.0 424.9 L229.3 424.8 L222.7 424.4 L216.1 423.9 L209.5 423.0 L202.9 422.0 L196.4 420.7 L189.9 419.2 L183.5 417.5 L177.1 415.6 L170.8 413.4 L164.6 411.0 L158.5 408.4 L152.4 405.6 L146.5 402.6 L140.7 399.4 L135.0 396.0 L129.4 392.3 L124.0 388.5 L118.7 384.5 L113.5 380.4 L108.5 376.0 L103.6 371.5 L98.9 366.8 L94.4 361.9 L90.0 356.9 L85.8 351.7 L81.8 346.4 L78.0 341.0 L74.4 335.4 L70.9 329.7 L67.7 323.9 L64.7 318.0 L61.9 311.9 L59.3 305.8 L56.9 299.6 L54.7 293.3 L52.8 287.0 L51.1 280.6 L49.6 274.1 L48.3 267.6 L47.3 261.0 L46.4 254.4 L45.9 247.8 L45.5 241.1 L45.4 234.5 L45.5 227.9 L45.9 221.2 L46.4 214.6 L47.3 208.0 L48.3 201.4 L49.6 194.9 L51.1 188.4 L52.8 182.0 L54.7 175.7 L56.9 169.4 L59.3 163.2 L61.9 157.1 L64.7 151.0 L67.7 145.1 L70.9 139.3 L74.4 133.6 L78.0 128.0 L81.8 122.6 L85.8 117.3 L90.0 112.1 L94.4 107.1 L98.9 102.2 L103.6 97.5 L108.5 93.0 L113.5 88.6 L118.7 84.5 L124.0 80.5 L129.4 76.7 L135.0 73.0 L140.7 69.6 L146.5 66.4 L152.4 63.4 L158.5 60.6 L164.6 58.0 L170.8 55.6 L177.1 53.4 L183.5 51.5 L189.9 49.8 L196.4 48.3 L202.9 47.0 L209.5 46.0 L216.1 45.1 L222.7 44.6 L229.3 44.2 L236.0 44.1 L242.7 44.2 L249.3 44.6 L255.9 45.1 L262.5 46.0 L269.1 47.0 L275.6 48.3 L282.1 49.8 L288.5 51.5 L294.9 53.4 L301.2 55.6 L307.4 58.0 L313.5 60.6 L319.6 63.4 L325.5 66.4 L331.3 69.6 L337.0 73.0 L342.6 76.7 L348.0 80.5 L353.3 84.5 L358.5 88.6 L363.5 93.0 L368.4 97.5 L373.1 102.2 L377.6 107.1 L382.0 112.1 L386.2 117.3 L390.2 122.6 L394.0 128.0 L397.6 133.6 L401.1 139.3 L404.3 145.1 L407.3 151.0 L410.1 157.1 L412.7 163.2 L415.1 169.4 L417.3 175.7 L419.2 182.0 L420.9 188.4 L422.4 194.9 L423.7 201.4 L424.7 208.0 L425.6 214.6 L426.1 221.2 L426.5 227.9 L426.6 234.5" fill="none" stroke="#383838" stroke-width="1.60" stroke-opacity="1.000" stroke-linecap="round" filter="url(#b1)"/>
<g filter="url(#b1)"><path d="M52.2 284.7 L51.1 280.8 L50.2 276.9 L49.3 272.9 L48.5 268.9" fill="none" stroke="#8a8a8a" stroke-width="1.60" stroke-opacity="0.026" stroke-linecap="round" /><path d="M48.9 270.9 L48.2 266.9 L47.5 262.9 L47.0 258.9 L46.5 254.8" fill="none" stroke="#8a8a8a" stroke-width="1.60" stroke-opacity="0.133" stroke-linecap="round" /><path d="M46.7 256.8 L46.3 252.8 L45.9 248.7 L45.7 244.7 L45.5 240.6" fill="none" stroke="#8a8a8a" stroke-width="1.60" stroke-opacity="0.272" stroke-linecap="round" /><path d="M45.6 242.6 L45.4 238.6 L45.4 234.5 L45.4 230.4 L45.6 226.4" fill="none" stroke="#8a8a8a" stroke-width="1.60" stroke-opacity="0.416" stroke-linecap="round" /><path d="M45.5 228.4 L45.7 224.3 L45.9 220.3 L46.3 216.2 L46.7 212.2" fill="none" stroke="#8a8a8a" stroke-width="1.60" stroke-opacity="0.545" stroke-linecap="round" /><path d="M46.5 214.2 L47.0 210.1 L47.5 206.1 L48.2 202.1 L48.9 198.1" fill="none" stroke="#8a8a8a" stroke-width="1.60" stroke-opacity="0.642" stroke-linecap="round" /><path d="M48.5 200.1 L49.3 196.1 L50.2 192.1 L51.1 188.2 L52.2 184.3" fill="none" stroke="#8a8a8a" stroke-width="1.60" stroke-opacity="0.693" stroke-linecap="round" /><path d="M51.6 186.2 L52.7 182.3 L53.9 178.4 L55.1 174.5 L56.4 170.7" fill="none" stroke="#8a8a8a" stroke-width="1.60" stroke-opacity="0.693" stroke-linecap="round" /><path d="M55.8 172.6 L57.1 168.7 L58.6 164.9 L60.1 161.2 L61.7 157.4" fill="none" stroke="#8a8a8a" stroke-width="1.60" stroke-opacity="0.642" stroke-linecap="round" /><path d="M60.9 159.3 L62.6 155.6 L64.3 151.9 L66.1 148.3 L68.0 144.7" fill="none" stroke="#8a8a8a" stroke-width="1.60" stroke-opacity="0.545" stroke-linecap="round" /><path d="M67.0 146.4 L68.9 142.8 L70.9 139.3 L73.0 135.8 L75.1 132.4" fill="none" stroke="#8a8a8a" stroke-width="1.60" stroke-opacity="0.416" stroke-linecap="round" /><path d="M74.1 134.0 L76.3 130.6 L78.5 127.2 L80.8 123.9 L83.2 120.6" fill="none" stroke="#8a8a8a" stroke-width="1.60" stroke-opacity="0.272" stroke-linecap="round" /><path d="M82.1 122.2 L84.5 119.0 L87.0 115.8 L89.5 112.6 L92.2 109.6" fill="none" stroke="#8a8a8a" stroke-width="1.60" stroke-opacity="0.133" stroke-linecap="round" /><path d="M90.9 111.1 L93.5 108.0 L96.3 105.0 L99.1 102.0 L101.9 99.2" fill="none" stroke="#8a8a8a" stroke-width="1.60" stroke-opacity="0.026" stroke-linecap="round" /></g>
<g filter="url(#b1)"><path d="M419.8 184.3 L420.9 188.2 L421.8 192.1 L422.7 196.1 L423.5 200.1" fill="none" stroke="#707070" stroke-width="1.60" stroke-opacity="0.022" stroke-linecap="round" /><path d="M423.1 198.1 L423.8 202.1 L424.5 206.1 L425.0 210.1 L425.5 214.2" fill="none" stroke="#707070" stroke-width="1.60" stroke-opacity="0.114" stroke-linecap="round" /><path d="M425.3 212.2 L425.7 216.2 L426.1 220.3 L426.3 224.3 L426.5 228.4" fill="none" stroke="#707070" stroke-width="1.60" stroke-opacity="0.233" stroke-linecap="round" /><path d="M426.4 226.4 L426.6 230.4 L426.6 234.5 L426.6 238.6 L426.4 242.6" fill="none" stroke="#707070" stroke-width="1.60" stroke-opacity="0.357" stroke-linecap="round" /><path d="M426.5 240.6 L426.3 244.7 L426.1 248.7 L425.7 252.8 L425.3 256.8" fill="none" stroke="#707070" stroke-width="1.60" stroke-opacity="0.467" stroke-linecap="round" /><path d="M425.5 254.8 L425.0 258.9 L424.5 262.9 L423.8 266.9 L423.1 270.9" fill="none" stroke="#707070" stroke-width="1.60" stroke-opacity="0.550" stroke-linecap="round" /><path d="M423.5 268.9 L422.7 272.9 L421.8 276.9 L420.9 280.8 L419.8 284.7" fill="none" stroke="#707070" stroke-width="1.60" stroke-opacity="0.594" stroke-linecap="round" /><path d="M420.4 282.8 L419.3 286.7 L418.1 290.6 L416.9 294.5 L415.6 298.3" fill="none" stroke="#707070" stroke-width="1.60" stroke-opacity="0.594" stroke-linecap="round" /><path d="M416.2 296.4 L414.9 300.3 L413.4 304.1 L411.9 307.8 L410.3 311.6" fill="none" stroke="#707070" stroke-width="1.60" stroke-opacity="0.550" stroke-linecap="round" /><path d="M411.1 309.7 L409.4 313.4 L407.7 317.1 L405.9 320.7 L404.0 324.3" fill="none" stroke="#707070" stroke-width="1.60" stroke-opacity="0.467" stroke-linecap="round" /><path d="M405.0 322.6 L403.1 326.2 L401.1 329.7 L399.0 333.2 L396.9 336.6" fill="none" stroke="#707070" stroke-width="1.60" stroke-opacity="0.357" stroke-linecap="round" /><path d="M397.9 335.0 L395.7 338.4 L393.5 341.8 L391.2 345.1 L388.8 348.4" fill="none" stroke="#707070" stroke-width="1.60" stroke-opacity="0.233" stroke-linecap="round" /><path d="M389.9 346.8 L387.5 350.0 L385.0 353.2 L382.5 356.4 L379.8 359.4" fill="none" stroke="#707070" stroke-width="1.60" stroke-opacity="0.114" stroke-linecap="round" /><path d="M381.1 357.9 L378.5 361.0 L375.7 364.0 L372.9 367.0 L370.1 369.8" fill="none" stroke="#707070" stroke-width="1.60" stroke-opacity="0.022" stroke-linecap="round" /></g>
<g filter="url(#b1)"><path d="M139.8 70.1 L143.4 68.1 L146.9 66.2 L150.6 64.3 L154.2 62.5" fill="none" stroke="#666666" stroke-width="1.60" stroke-opacity="0.019" stroke-linecap="round" /><path d="M152.4 63.4 L156.1 61.6 L159.8 60.0 L163.5 58.4 L167.3 56.9" fill="none" stroke="#666666" stroke-width="1.60" stroke-opacity="0.095" stroke-linecap="round" /><path d="M165.4 57.6 L169.2 56.2 L173.0 54.8 L176.9 53.5 L180.8 52.3" fill="none" stroke="#666666" stroke-width="1.60" stroke-opacity="0.194" stroke-linecap="round" /><path d="M178.9 52.9 L182.8 51.7 L186.7 50.6 L190.6 49.6 L194.6 48.7" fill="none" stroke="#666666" stroke-width="1.60" stroke-opacity="0.297" stroke-linecap="round" /><path d="M192.6 49.1 L196.6 48.2 L200.6 47.4 L204.6 46.7 L208.6 46.1" fill="none" stroke="#666666" stroke-width="1.60" stroke-opacity="0.390" stroke-linecap="round" /><path d="M206.6 46.4 L210.6 45.8 L214.7 45.3 L218.7 44.9 L222.8 44.6" fill="none" stroke="#666666" stroke-width="1.60" stroke-opacity="0.459" stroke-linecap="round" /><path d="M220.8 44.7 L224.8 44.4 L228.9 44.2 L232.9 44.1 L237.0 44.1" fill="none" stroke="#666666" stroke-width="1.60" stroke-opacity="0.495" stroke-linecap="round" /><path d="M235.0 44.1 L239.1 44.1 L243.1 44.2 L247.2 44.4 L251.2 44.7" fill="none" stroke="#666666" stroke-width="1.60" stroke-opacity="0.495" stroke-linecap="round" /><path d="M249.2 44.6 L253.3 44.9 L257.3 45.3 L261.4 45.8 L265.4 46.4" fill="none" stroke="#666666" stroke-width="1.60" stroke-opacity="0.459" stroke-linecap="round" /><path d="M263.4 46.1 L267.4 46.7 L271.4 47.4 L275.4 48.2 L279.4 49.1" fill="none" stroke="#666666" stroke-width="1.60" stroke-opacity="0.390" stroke-linecap="round" /><path d="M277.4 48.7 L281.4 49.6 L285.3 50.6 L289.2 51.7 L293.1 52.9" fill="none" stroke="#666666" stroke-width="1.60" stroke-opacity="0.297" stroke-linecap="round" /><path d="M291.2 52.3 L295.1 53.5 L299.0 54.8 L302.8 56.2 L306.6 57.6" fill="none" stroke="#666666" stroke-width="1.60" stroke-opacity="0.194" stroke-linecap="round" /><path d="M304.7 56.9 L308.5 58.4 L312.2 60.0 L315.9 61.6 L319.6 63.4" fill="none" stroke="#666666" stroke-width="1.60" stroke-opacity="0.095" stroke-linecap="round" /><path d="M317.8 62.5 L321.4 64.3 L325.1 66.2 L328.6 68.1 L332.2 70.1" fill="none" stroke="#666666" stroke-width="1.60" stroke-opacity="0.019" stroke-linecap="round" /></g>
<path d="M172 12 Q182 25 180 50 L179 92" stroke="#343434" stroke-width="4" fill="none" filter="url(#b2)"/>
<path d="M62 20 Q70 60 112 92" stroke="#1e1e1e" stroke-width="3" fill="none" filter="url(#b2)"/>
<g filter="url(#b2)" stroke="#2c2c2c" stroke-width="3"><path d="M392 467 L467 368"/><path d="M402 467 L467 382"/><path d="M414 467 L467 398"/><path d="M426 467 L467 414"/></g>
<rect x="0" y="0" width="467" height="467" filter="url(#nz)"/>
</g>
<g transform="translate(1023.3,1045.7)" clip-path="url(#pc)">
<rect x="0" y="0" width="467" height="467" fill="#090909"/>
<ellipse cx="234.2" cy="233.6" rx="196.8" ry="191.0" fill="url(#rg15)" />
<ellipse cx="236.8" cy="230.0" rx="149.2" ry="141.2" fill="url(#rg16)" />
<g filter="url(#b14)">
<ellipse cx="236.8" cy="122.0" rx="60.0" ry="12.0" fill="#6c6c6c" />
</g>
<g clip-path="url(#cC3)" opacity="0.45"><rect x="70" y="70" width="340" height="330" filter="url(#nzw)"/><rect x="70" y="70" width="340" height="330" filter="url(#nzk)"/></g>
<path d="M431.0 233.6 L430.9 240.3 L430.5 246.9 L429.9 253.6 L429.1 260.2 L428.0 266.8 L426.7 273.3 L425.2 279.8 L423.4 286.2 L421.4 292.6 L419.1 298.9 L416.7 305.1 L414.0 311.3 L411.1 317.3 L408.0 323.3 L404.6 329.1 L401.1 334.8 L397.4 340.4 L393.4 345.9 L389.3 351.2 L385.0 356.4 L380.5 361.4 L375.8 366.3 L370.9 371.0 L365.9 375.5 L360.7 379.9 L355.4 384.1 L349.9 388.1 L344.2 391.9 L338.5 395.6 L332.6 399.0 L326.6 402.2 L320.5 405.3 L314.2 408.1 L307.9 410.7 L301.5 413.1 L295.0 415.3 L288.4 417.2 L281.8 418.9 L275.1 420.4 L268.4 421.7 L261.6 422.7 L254.8 423.6 L247.9 424.1 L241.1 424.5 L234.2 424.6 L227.3 424.5 L220.5 424.1 L213.6 423.6 L206.8 422.7 L200.0 421.7 L193.3 420.4 L186.6 418.9 L180.0 417.2 L173.4 415.3 L166.9 413.1 L160.5 410.7 L154.2 408.1 L147.9 405.3 L141.8 402.2 L135.8 399.0 L129.9 395.6 L124.2 391.9 L118.5 388.1 L113.0 384.1 L107.7 379.9 L102.5 375.5 L97.5 371.0 L92.6 366.3 L87.9 361.4 L83.4 356.4 L79.1 351.2 L75.0 345.9 L71.0 340.4 L67.3 334.8 L63.8 329.1 L60.4 323.3 L57.3 317.3 L54.4 311.3 L51.7 305.1 L49.3 298.9 L47.0 292.6 L45.0 286.2 L43.2 279.8 L41.7 273.3 L40.4 266.8 L39.3 260.2 L38.5 253.6 L37.9 246.9 L37.5 240.3 L37.4 233.6 L37.5 226.9 L37.9 220.3 L38.5 213.6 L39.3 207.0 L40.4 200.4 L41.7 193.9 L43.2 187.4 L45.0 181.0 L47.0 174.6 L49.3 168.3 L51.7 162.1 L54.4 155.9 L57.3 149.9 L60.4 143.9 L63.8 138.1 L67.3 132.4 L71.0 126.8 L75.0 121.3 L79.1 116.0 L83.4 110.8 L87.9 105.8 L92.6 100.9 L97.5 96.2 L102.5 91.7 L107.7 87.3 L113.0 83.1 L118.5 79.1 L124.2 75.3 L129.9 71.6 L135.8 68.2 L141.8 65.0 L147.9 61.9 L154.2 59.1 L160.5 56.5 L166.9 54.1 L173.4 51.9 L180.0 50.0 L186.6 48.3 L193.3 46.8 L200.0 45.5 L206.8 44.5 L213.6 43.6 L220.5 43.1 L227.3 42.7 L234.2 42.6 L241.1 42.7 L247.9 43.1 L254.8 43.6 L261.6 44.5 L268.4 45.5 L275.1 46.8 L281.8 48.3 L288.4 50.0 L295.0 51.9 L301.5 54.1 L307.9 56.5 L314.2 59.1 L320.5 61.9 L326.6 65.0 L332.6 68.2 L338.5 71.6 L344.2 75.3 L349.9 79.1 L355.4 83.1 L360.7 87.3 L365.9 91.7 L370.9 96.2 L375.8 100.9 L380.5 105.8 L385.0 110.8 L389.3 116.0 L393.4 121.3 L397.4 126.8 L401.1 132.4 L404.6 138.1 L408.0 143.9 L411.1 149.9 L414.0 155.9 L416.7 162.1 L419.1 168.3 L421.4 174.6 L423.4 181.0 L425.2 187.4 L426.7 193.9 L428.0 200.4 L429.1 207.0 L429.9 213.6 L430.5 220.3 L430.9 226.9 L431.0 233.6" fill="none" stroke="#242424" stroke-width="1.10" stroke-opacity="1.000" stroke-linecap="round" filter="url(#b1)"/>
<g filter="url(#b1)"><path d="M300.5 53.8 L303.9 55.0 L307.2 56.2 L310.6 57.6 L313.8 58.9" fill="none" stroke="#ffffff" stroke-width="1.80" stroke-opacity="0.112" stroke-linecap="round" /><path d="M312.0 58.1 L315.2 59.5 L318.5 61.0 L321.7 62.5 L324.9 64.1" fill="none" stroke="#ffffff" stroke-width="1.80" stroke-opacity="0.330" stroke-linecap="round" /><path d="M323.1 63.2 L326.2 64.8 L329.4 66.4 L332.5 68.1 L335.6 69.9" fill="none" stroke="#ffffff" stroke-width="1.80" stroke-opacity="0.532" stroke-linecap="round" /><path d="M333.8 68.9 L336.9 70.7 L339.9 72.5 L342.9 74.4 L345.9 76.4" fill="none" stroke="#ffffff" stroke-width="1.80" stroke-opacity="0.707" stroke-linecap="round" /><path d="M344.2 75.2 L347.2 77.2 L350.1 79.2 L353.0 81.3 L355.8 83.4" fill="none" stroke="#ffffff" stroke-width="1.80" stroke-opacity="0.847" stroke-linecap="round" /><path d="M354.2 82.2 L357.0 84.3 L359.8 86.5 L362.5 88.8 L365.2 91.1" fill="none" stroke="#ffffff" stroke-width="1.80" stroke-opacity="0.944" stroke-linecap="round" /><path d="M363.6 89.7 L366.3 92.0 L369.0 94.4 L371.5 96.8 L374.1 99.3" fill="none" stroke="#ffffff" stroke-width="1.80" stroke-opacity="0.994" stroke-linecap="round" /><path d="M372.6 97.8 L375.2 100.3 L377.6 102.8 L380.1 105.4 L382.4 108.0" fill="none" stroke="#ffffff" stroke-width="1.80" stroke-opacity="0.994" stroke-linecap="round" /><path d="M381.1 106.5 L383.4 109.1 L385.7 111.7 L388.0 114.4 L390.2 117.2" fill="none" stroke="#ffffff" stroke-width="1.80" stroke-opacity="0.944" stroke-linecap="round" /><path d="M388.9 115.6 L391.1 118.3 L393.3 121.1 L395.4 124.0 L397.4 126.8" fill="none" stroke="#ffffff" stroke-width="1.80" stroke-opacity="0.847" stroke-linecap="round" /><path d="M396.2 125.2 L398.2 128.1 L400.2 131.0 L402.1 133.9 L403.9 136.9" fill="none" stroke="#ffffff" stroke-width="1.80" stroke-opacity="0.707" stroke-linecap="round" /><path d="M402.9 135.2 L404.7 138.2 L406.4 141.2 L408.1 144.3 L409.8 147.4" fill="none" stroke="#ffffff" stroke-width="1.80" stroke-opacity="0.532" stroke-linecap="round" /><path d="M408.9 145.6 L410.5 148.7 L412.0 151.8 L413.5 155.0 L415.0 158.1" fill="none" stroke="#ffffff" stroke-width="1.80" stroke-opacity="0.330" stroke-linecap="round" /><path d="M414.2 156.3 L415.6 159.5 L416.9 162.7 L418.2 166.0 L419.5 169.2" fill="none" stroke="#ffffff" stroke-width="1.80" stroke-opacity="0.112" stroke-linecap="round" /></g>
<g ><path d="M384.3 110.1 L387.7 114.1 L391.1 118.3 L394.3 122.5 L397.4 126.8" fill="none" stroke="#7a7a7a" stroke-width="1.30" stroke-opacity="0.026" stroke-linecap="round" /><path d="M396.2 125.2 L399.2 129.6 L402.1 134.0 L404.9 138.5 L407.5 143.1" fill="none" stroke="#7a7a7a" stroke-width="1.30" stroke-opacity="0.133" stroke-linecap="round" /><path d="M406.5 141.4 L409.1 146.0 L411.5 150.7 L413.8 155.5 L415.9 160.3" fill="none" stroke="#7a7a7a" stroke-width="1.30" stroke-opacity="0.272" stroke-linecap="round" /><path d="M415.1 158.5 L417.2 163.4 L419.1 168.3 L420.9 173.2 L422.6 178.3" fill="none" stroke="#7a7a7a" stroke-width="1.30" stroke-opacity="0.416" stroke-linecap="round" /><path d="M422.0 176.3 L423.5 181.4 L424.9 186.5 L426.2 191.6 L427.3 196.7" fill="none" stroke="#7a7a7a" stroke-width="1.30" stroke-opacity="0.545" stroke-linecap="round" /><path d="M426.9 194.8 L427.9 199.9 L428.8 205.1 L429.5 210.3 L430.1 215.6" fill="none" stroke="#7a7a7a" stroke-width="1.30" stroke-opacity="0.642" stroke-linecap="round" /><path d="M429.9 213.6 L430.4 218.8 L430.8 224.1 L431.0 229.3 L431.0 234.6" fill="none" stroke="#7a7a7a" stroke-width="1.30" stroke-opacity="0.693" stroke-linecap="round" /><path d="M431.0 232.6 L431.0 237.9 L430.8 243.1 L430.4 248.4 L429.9 253.6" fill="none" stroke="#7a7a7a" stroke-width="1.30" stroke-opacity="0.693" stroke-linecap="round" /><path d="M430.1 251.6 L429.5 256.9 L428.8 262.1 L427.9 267.3 L426.9 272.4" fill="none" stroke="#7a7a7a" stroke-width="1.30" stroke-opacity="0.642" stroke-linecap="round" /><path d="M427.3 270.5 L426.2 275.6 L424.9 280.7 L423.5 285.8 L422.0 290.9" fill="none" stroke="#7a7a7a" stroke-width="1.30" stroke-opacity="0.545" stroke-linecap="round" /><path d="M422.6 288.9 L420.9 294.0 L419.1 298.9 L417.2 303.8 L415.1 308.7" fill="none" stroke="#7a7a7a" stroke-width="1.30" stroke-opacity="0.416" stroke-linecap="round" /><path d="M415.9 306.9 L413.8 311.7 L411.5 316.5 L409.1 321.2 L406.5 325.8" fill="none" stroke="#7a7a7a" stroke-width="1.30" stroke-opacity="0.272" stroke-linecap="round" /><path d="M407.5 324.1 L404.9 328.7 L402.1 333.2 L399.2 337.6 L396.2 342.0" fill="none" stroke="#7a7a7a" stroke-width="1.30" stroke-opacity="0.133" stroke-linecap="round" /><path d="M397.4 340.4 L394.3 344.7 L391.1 348.9 L387.7 353.1 L384.3 357.1" fill="none" stroke="#7a7a7a" stroke-width="1.30" stroke-opacity="0.026" stroke-linecap="round" /></g>
<g ><path d="M108.5 380.6 L103.4 376.4 L98.6 372.0 L93.8 367.5 L89.2 362.8" fill="none" stroke="#5a5a5a" stroke-width="1.20" stroke-opacity="0.026" stroke-linecap="round" /><path d="M90.6 364.2 L86.2 359.5 L81.9 354.5 L77.8 349.5 L73.8 344.3" fill="none" stroke="#5a5a5a" stroke-width="1.20" stroke-opacity="0.133" stroke-linecap="round" /><path d="M75.0 345.9 L71.2 340.6 L67.6 335.2 L64.1 329.7 L60.9 324.1" fill="none" stroke="#5a5a5a" stroke-width="1.20" stroke-opacity="0.272" stroke-linecap="round" /><path d="M61.9 325.8 L58.7 320.1 L55.8 314.3 L53.1 308.4 L50.6 302.4" fill="none" stroke="#5a5a5a" stroke-width="1.20" stroke-opacity="0.416" stroke-linecap="round" /><path d="M51.4 304.3 L49.0 298.3 L46.9 292.2 L44.9 286.0 L43.2 279.8" fill="none" stroke="#5a5a5a" stroke-width="1.20" stroke-opacity="0.545" stroke-linecap="round" /><path d="M43.7 281.7 L42.2 275.4 L40.8 269.1 L39.7 262.7 L38.8 256.4" fill="none" stroke="#5a5a5a" stroke-width="1.20" stroke-opacity="0.642" stroke-linecap="round" /><path d="M39.1 258.3 L38.3 251.9 L37.8 245.5 L37.5 239.1 L37.4 232.6" fill="none" stroke="#5a5a5a" stroke-width="1.20" stroke-opacity="0.693" stroke-linecap="round" /><path d="M37.4 234.6 L37.5 228.1 L37.8 221.7 L38.3 215.3 L39.1 208.9" fill="none" stroke="#5a5a5a" stroke-width="1.20" stroke-opacity="0.693" stroke-linecap="round" /><path d="M38.8 210.8 L39.7 204.5 L40.8 198.1 L42.2 191.8 L43.7 185.5" fill="none" stroke="#5a5a5a" stroke-width="1.20" stroke-opacity="0.642" stroke-linecap="round" /><path d="M43.2 187.4 L44.9 181.2 L46.9 175.0 L49.0 168.9 L51.4 162.9" fill="none" stroke="#5a5a5a" stroke-width="1.20" stroke-opacity="0.545" stroke-linecap="round" /><path d="M50.6 164.8 L53.1 158.8 L55.8 152.9 L58.7 147.1 L61.9 141.4" fill="none" stroke="#5a5a5a" stroke-width="1.20" stroke-opacity="0.416" stroke-linecap="round" /><path d="M60.9 143.1 L64.1 137.5 L67.6 132.0 L71.2 126.6 L75.0 121.3" fill="none" stroke="#5a5a5a" stroke-width="1.20" stroke-opacity="0.272" stroke-linecap="round" /><path d="M73.8 122.9 L77.8 117.7 L81.9 112.7 L86.2 107.7 L90.6 103.0" fill="none" stroke="#5a5a5a" stroke-width="1.20" stroke-opacity="0.133" stroke-linecap="round" /><path d="M89.2 104.4 L93.8 99.7 L98.6 95.2 L103.4 90.8 L108.5 86.6" fill="none" stroke="#5a5a5a" stroke-width="1.20" stroke-opacity="0.026" stroke-linecap="round" /></g>
<g ><path d="M63.3 139.0 L66.0 134.4 L68.9 130.0 L71.9 125.6 L75.0 121.3" fill="none" stroke="#5a5a5a" stroke-width="1.20" stroke-opacity="0.022" stroke-linecap="round" /><path d="M73.8 122.9 L77.0 118.7 L80.3 114.5 L83.8 110.4 L87.3 106.5" fill="none" stroke="#5a5a5a" stroke-width="1.20" stroke-opacity="0.114" stroke-linecap="round" /><path d="M86.0 108.0 L89.6 104.1 L93.3 100.2 L97.2 96.5 L101.1 92.9" fill="none" stroke="#5a5a5a" stroke-width="1.20" stroke-opacity="0.233" stroke-linecap="round" /><path d="M99.6 94.3 L103.6 90.7 L107.7 87.3 L111.9 84.0 L116.2 80.7" fill="none" stroke="#5a5a5a" stroke-width="1.20" stroke-opacity="0.357" stroke-linecap="round" /><path d="M114.6 82.0 L118.9 78.8 L123.3 75.8 L127.9 72.9 L132.5 70.1" fill="none" stroke="#5a5a5a" stroke-width="1.20" stroke-opacity="0.467" stroke-linecap="round" /><path d="M130.7 71.1 L135.4 68.4 L140.1 65.9 L144.9 63.4 L149.7 61.1" fill="none" stroke="#5a5a5a" stroke-width="1.20" stroke-opacity="0.550" stroke-linecap="round" /><path d="M147.9 62.0 L152.8 59.7 L157.8 57.6 L162.8 55.6 L167.9 53.8" fill="none" stroke="#5a5a5a" stroke-width="1.20" stroke-opacity="0.594" stroke-linecap="round" /><path d="M165.9 54.5 L171.0 52.7 L176.2 51.1 L181.4 49.6 L186.6 48.3" fill="none" stroke="#5a5a5a" stroke-width="1.20" stroke-opacity="0.594" stroke-linecap="round" /><path d="M184.6 48.8 L189.9 47.5 L195.2 46.4 L200.5 45.4 L205.9 44.6" fill="none" stroke="#5a5a5a" stroke-width="1.20" stroke-opacity="0.550" stroke-linecap="round" /><path d="M203.8 44.9 L209.2 44.1 L214.6 43.5 L220.0 43.1 L225.4 42.8" fill="none" stroke="#5a5a5a" stroke-width="1.20" stroke-opacity="0.467" stroke-linecap="round" /><path d="M223.4 42.9 L228.8 42.7 L234.2 42.6 L239.6 42.7 L245.0 42.9" fill="none" stroke="#5a5a5a" stroke-width="1.20" stroke-opacity="0.357" stroke-linecap="round" /><path d="M243.0 42.8 L248.4 43.1 L253.8 43.5 L259.2 44.1 L264.6 44.9" fill="none" stroke="#5a5a5a" stroke-width="1.20" stroke-opacity="0.233" stroke-linecap="round" /><path d="M262.5 44.6 L267.9 45.4 L273.2 46.4 L278.5 47.5 L283.8 48.8" fill="none" stroke="#5a5a5a" stroke-width="1.20" stroke-opacity="0.114" stroke-linecap="round" /><path d="M281.8 48.3 L287.0 49.6 L292.2 51.1 L297.4 52.7 L302.5 54.5" fill="none" stroke="#5a5a5a" stroke-width="1.20" stroke-opacity="0.022" stroke-linecap="round" /></g>
<rect x="0" y="0" width="467" height="467" filter="url(#nz)"/>
<rect x="337.7" y="447.1" width="112.6" height="5.5" fill="#fff"/>
</g>
<rect x="1580.9" y="84.0" width="504.8" height="415.4" fill="#fff" stroke="#1c1c1c" stroke-width="1.9" rx="1.2"/>
<g clip-path="url(#cpD)" fill="none" stroke-linejoin="round" stroke-linecap="round">
<path d="M1581.3 459.5 L1581.5 459.5 L1581.6 459.8 L1582.0 459.9 L1582.4 461.5 L1582.8 462.9 L1583.4 463.5 L1584.0 464.2 L1584.8 464.3 L1585.7 466.4 L1586.5 467.1 L1587.4 467.2 L1588.3 468.0 L1589.3 468.3 L1590.3 468.3 L1591.3 468.0 L1592.3 467.9 L1593.3 468.1 L1594.4 468.4 L1595.4 468.5 L1596.4 468.2 L1597.5 468.3 L1598.5 467.7 L1599.5 466.5 L1600.5 466.1 L1601.6 467.2 L1602.6 466.1 L1603.6 466.1 L1604.6 466.5 L1605.7 467.1 L1606.7 465.5 L1607.7 465.4 L1608.7 465.4 L1609.8 465.4 L1610.8 465.9 L1611.8 466.6 L1612.8 467.0 L1613.8 468.6 L1614.7 468.8 L1615.7 467.3 L1616.7 466.9 L1617.7 467.7 L1618.6 468.2 L1619.6 469.4 L1620.6 469.9 L1621.5 470.4 L1622.5 470.3 L1623.5 470.6 L1624.5 470.9 L1625.6 470.7 L1626.6 471.2 L1627.6 470.3 L1628.7 471.4 L1629.7 471.8 L1630.7 473.3 L1631.7 472.3 L1632.8 471.1 L1633.8 471.3 L1634.8 471.8 L1635.8 471.8 L1636.8 471.7 L1637.7 472.3 L1638.7 472.1 L1639.7 473.6 L1640.7 472.8 L1641.7 473.9 L1642.7 474.7 L1643.6 474.9 L1644.6 475.6 L1645.6 475.3 L1646.6 475.5 L1647.7 474.6 L1648.7 473.9 L1649.7 474.1 L1650.8 474.5 L1651.8 475.1 L1652.8 474.0 L1653.9 473.9 L1654.9 473.8 L1656.0 474.6 L1657.0 474.1 L1658.0 474.9 L1659.1 474.3 L1660.1 473.8 L1661.1 473.6 L1662.2 472.9 L1663.2 472.1 L1664.3 473.0 L1665.3 473.3 L1666.3 475.1 L1667.4 474.9 L1668.5 475.1 L1669.5 474.8 L1670.5 474.5 L1671.6 473.7 L1672.7 473.5 L1673.7 475.0 L1674.8 474.6 L1675.8 474.4 L1676.9 475.2 L1677.9 475.0 L1679.0 475.1 L1680.0 476.6 L1681.1 476.5 L1682.1 476.2 L1683.2 476.2 L1684.2 476.1 L1685.2 476.6 L1686.2 476.7 L1687.1 475.8 L1688.0 475.2 L1689.0 473.8 L1689.9 473.7 L1690.8 473.9 L1691.7 472.7 L1692.7 472.4 L1693.7 471.7 L1694.7 471.4 L1695.7 471.5 L1696.7 470.6 L1697.8 471.2 L1698.8 471.4 L1699.8 471.1 L1700.8 469.6 L1701.9 468.3 L1702.9 468.4 L1704.0 468.7 L1705.0 468.7 L1706.1 468.6 L1707.2 468.7 L1708.3 468.4 L1709.3 468.8 L1710.4 467.8 L1711.5 468.3 L1712.6 468.6 L1713.6 468.0 L1714.7 470.0 L1715.8 468.7 L1716.8 467.9 L1717.9 466.5 L1718.9 466.5 L1720.0 466.2 L1721.0 466.4 L1722.1 465.4 L1723.1 465.8 L1724.2 464.4 L1725.2 464.5 L1726.3 463.3 L1727.3 463.8 L1728.4 464.3 L1729.4 463.1 L1730.5 463.9 L1731.5 464.1 L1732.6 463.0 L1733.7 462.9 L1734.8 463.1 L1735.8 463.8 L1736.9 464.6 L1738.0 463.7 L1739.1 463.2 L1740.1 463.4 L1741.2 462.2 L1742.2 463.7 L1743.3 464.1 L1744.3 464.4 L1745.3 465.7 L1746.3 465.4 L1747.4 465.2 L1748.4 466.3 L1749.4 466.1 L1750.5 466.5 L1751.4 466.7 L1752.4 467.1 L1753.4 467.7 L1754.3 468.2 L1755.2 467.8 L1756.2 469.3 L1757.1 469.2 L1758.1 469.3 L1759.0 470.4 L1759.9 470.3 L1760.9 471.0 L1761.9 471.8 L1762.9 472.2 L1763.9 471.7 L1765.0 472.4 L1766.1 472.1 L1767.1 471.8 L1768.2 471.8 L1769.2 472.5 L1770.3 472.4 L1771.4 473.6 L1772.4 473.9 L1773.5 473.9 L1774.5 474.3 L1775.6 474.3 L1776.6 473.3 L1777.6 474.8 L1778.7 473.1 L1779.7 473.4 L1780.7 472.3 L1781.7 472.8 L1782.8 473.0 L1783.8 472.5 L1784.8 473.5 L1785.8 473.8 L1786.8 474.0 L1787.7 473.5 L1788.7 474.9 L1789.7 474.6 L1790.7 475.1 L1791.7 474.2 L1792.7 475.6 L1793.6 475.3 L1794.6 476.0 L1795.6 475.7 L1796.6 476.0 L1797.7 476.6 L1798.7 476.8 L1799.7 478.3 L1800.8 477.9 L1801.8 477.8 L1802.8 478.8 L1803.8 478.9 L1804.9 478.5 L1805.9 478.8 L1807.0 479.6 L1808.0 479.6 L1809.1 480.2 L1810.2 479.2 L1811.2 479.7 L1812.3 479.3 L1813.3 479.4 L1814.4 479.3 L1815.5 479.2 L1816.5 481.0 L1817.6 480.5 L1818.6 480.6 L1819.6 480.5 L1820.6 481.3 L1821.7 480.1 L1822.7 479.3 L1823.7 480.0 L1824.7 479.4 L1825.7 480.5 L1826.7 479.5 L1827.7 479.5 L1828.7 480.0 L1829.8 479.2 L1830.8 479.3 L1831.8 479.7 L1832.8 478.8 L1833.8 479.2 L1834.8 478.5 L1835.8 478.9 L1836.9 480.0 L1837.9 480.2 L1838.9 479.3 L1839.9 478.8 L1841.0 478.2 L1842.0 478.8 L1843.0 478.9 L1844.0 477.7 L1845.1 477.3 L1846.1 476.9 L1847.1 477.6 L1848.2 477.8 L1849.2 477.8 L1850.2 478.1 L1851.3 478.1 L1852.3 477.8 L1853.4 477.9 L1854.5 477.3 L1855.5 477.8 L1856.5 478.1 L1857.6 476.4 L1858.7 477.8 L1859.7 477.4 L1860.8 477.7 L1861.8 477.4 L1862.8 478.1 L1863.9 477.5 L1865.0 477.5 L1866.0 477.0 L1867.0 477.1 L1868.1 477.3 L1869.2 476.7 L1870.2 476.8 L1871.2 476.7 L1872.3 477.0 L1873.3 477.6 L1874.4 477.4 L1875.4 477.9 L1876.5 476.9 L1877.5 476.6 L1878.6 476.5 L1879.6 475.9 L1880.6 476.2 L1881.7 475.6 L1882.7 475.2 L1883.7 475.5 L1884.7 474.9 L1885.8 475.0 L1886.8 474.9 L1887.9 475.4 L1888.9 475.8 L1890.0 475.4 L1891.0 474.6 L1892.0 475.0 L1893.1 476.1 L1894.2 474.9 L1895.2 474.5 L1896.2 475.1 L1897.3 474.6 L1898.3 474.2 L1899.4 474.8 L1900.5 473.9 L1901.5 474.5 L1902.6 473.6 L1903.6 473.9 L1904.7 473.5 L1905.8 472.8 L1906.8 473.4 L1907.9 472.2 L1908.9 472.7 L1910.0 472.4 L1911.1 472.8 L1912.1 471.6 L1913.2 472.3 L1914.2 473.1 L1915.3 471.8 L1916.3 471.6 L1917.4 472.0 L1918.5 473.7 L1919.5 472.3 L1920.5 471.2 L1921.6 471.2 L1922.7 470.9 L1923.7 470.5 L1924.8 469.8 L1925.8 471.1 L1926.8 469.8 L1927.9 470.1 L1929.0 469.3 L1930.0 468.8 L1931.0 470.3 L1932.1 469.8 L1933.2 470.9 L1934.2 471.0 L1935.2 470.6 L1936.3 471.4 L1937.3 470.6 L1938.4 471.6 L1939.5 472.3 L1940.5 471.2 L1941.6 471.7 L1942.6 472.8 L1943.7 472.6 L1944.7 471.7 L1945.8 472.7 L1946.8 472.7 L1947.9 472.9 L1948.9 472.1 L1950.0 472.9 L1951.1 473.2 L1952.1 472.6 L1953.2 473.5 L1954.2 473.4 L1955.3 474.1 L1956.3 474.5 L1957.4 473.7 L1958.4 473.2 L1959.5 474.6 L1960.5 474.9 L1961.6 474.3 L1962.7 475.1 L1963.7 475.2 L1964.8 475.2 L1965.8 474.8 L1966.8 474.6 L1967.9 475.7 L1969.0 475.4 L1970.0 475.2 L1971.0 475.7 L1972.1 475.0 L1973.2 475.4 L1974.2 475.6 L1975.2 477.4 L1976.3 475.6 L1977.3 475.9 L1978.4 475.7 L1979.5 475.1 L1980.5 477.2 L1981.5 477.7 L1982.6 476.9 L1983.7 476.7 L1984.7 476.7 L1985.8 476.8 L1986.8 476.8 L1987.9 477.2 L1988.9 478.0 L1990.0 477.9 L1991.1 478.3 L1992.1 477.2 L1993.2 478.6 L1994.2 477.9 L1995.3 477.5 L1996.4 477.5 L1997.4 478.3 L1998.5 478.3 L1999.5 477.6 L2000.6 477.8 L2001.6 479.1 L2002.6 478.5 L2003.7 477.8 L2004.7 477.2 L2005.7 477.5 L2006.7 476.7 L2007.8 476.9 L2008.8 476.4 L2009.9 477.4 L2010.9 476.9 L2012.0 478.1 L2013.1 478.4 L2014.2 478.1 L2015.2 478.8 L2016.3 479.2 L2017.4 478.2 L2018.5 479.3 L2019.5 479.2 L2020.6 479.2 L2021.6 478.3 L2022.7 477.9 L2023.7 478.1 L2024.7 477.2 L2025.8 476.7 L2026.8 476.8 L2027.8 475.5 L2028.8 474.6 L2029.9 475.5 L2030.9 475.6 L2031.9 476.0 L2032.8 475.3 L2033.8 474.0 L2034.8 474.3 L2035.8 474.2 L2036.8 474.2 L2037.7 473.9 L2038.7 473.6 L2039.7 473.5 L2040.7 472.3 L2041.6 472.4 L2042.6 471.3 L2043.6 471.0 L2044.6 471.5 L2045.5 470.6 L2046.5 469.7 L2047.5 469.6 L2048.5 470.1 L2049.5 470.4 L2050.5 470.0 L2051.4 470.0 L2052.4 467.9 L2053.4 468.1 L2054.4 468.5 L2055.4 467.9 L2056.4 467.9 L2057.3 467.0 L2058.3 466.9 L2059.3 467.4 L2060.3 466.2 L2061.3 467.4 L2062.3 466.4 L2063.2 465.7 L2064.2 466.5 L2065.2 465.3 L2066.2 465.3 L2067.2 465.3 L2068.2 464.2 L2069.1 463.8 L2070.1 463.6 L2071.1 463.3 L2072.1 462.7 L2073.0 463.3 L2074.0 462.9 L2075.0 461.8 L2076.0 461.5 L2077.0 461.9 L2077.9 460.5 L2078.9 460.1 L2079.8 460.6 L2080.6 460.1 L2081.3 458.8 L2081.9 458.0 L2082.3 457.0 L2082.8 457.1 L2083.3 455.8 L2083.8 454.4 L2084.4 452.4 L2084.9 451.1 L2085.2 450.8 L2085.5 449.8" stroke="#000000" stroke-width="2.50"/>
<path d="M1581.3 459.8 L1581.5 460.4 L1581.7 463.8 L1582.1 462.8 L1582.6 462.1 L1583.0 464.5 L1583.5 465.7 L1584.1 467.3 L1584.9 467.0 L1585.8 469.3 L1586.8 469.4 L1587.7 471.9 L1588.7 470.8 L1589.7 470.2 L1590.8 471.5 L1591.8 471.4 L1592.8 469.5 L1593.9 470.8 L1595.0 469.6 L1596.0 471.5 L1597.0 470.1 L1598.1 470.8 L1599.2 469.8 L1600.2 470.8 L1601.2 472.5 L1602.3 472.9 L1603.3 471.0 L1604.4 469.4 L1605.4 471.2 L1606.4 470.0 L1607.3 469.4 L1608.3 470.7 L1609.3 468.7 L1610.3 470.3 L1611.2 470.9 L1612.2 469.9 L1613.2 468.6 L1614.2 469.0 L1615.2 471.4 L1616.1 471.0 L1617.1 472.4 L1618.1 471.7 L1619.1 471.8 L1620.0 472.2 L1621.0 472.3 L1622.0 472.6 L1623.0 473.2 L1624.0 473.5 L1625.0 471.7 L1626.0 469.9 L1627.1 469.3 L1628.1 468.5 L1629.0 466.5 L1629.7 467.7 L1630.3 466.7 L1630.8 468.8 L1631.2 466.1 L1631.6 463.5 L1632.0 464.1 L1632.3 463.2 L1632.7 463.3 L1633.1 461.9 L1633.4 462.8 L1633.7 459.5 L1634.0 458.7 L1634.2 457.1 L1634.4 455.8 L1634.6 453.3 L1634.8 454.5 L1635.1 451.6 L1635.3 452.3 L1635.5 452.0 L1635.7 451.2 L1635.9 448.0 L1636.1 449.0 L1636.3 447.0 L1636.5 446.9 L1636.7 445.4 L1636.9 446.9 L1637.2 443.8 L1637.4 442.5 L1637.6 442.0 L1637.8 439.2 L1638.0 438.7 L1638.3 438.2 L1638.6 437.9 L1638.9 436.5 L1639.2 437.8 L1639.5 437.8 L1639.8 436.4 L1640.2 433.8 L1640.5 433.0 L1640.8 433.8 L1641.2 433.1 L1641.5 430.9 L1641.8 428.1 L1642.1 428.5 L1642.5 427.5 L1642.8 425.7 L1643.1 424.2 L1643.4 421.7 L1643.8 420.0 L1644.1 419.0 L1644.5 419.9 L1644.9 419.4 L1645.2 417.6 L1645.6 416.9 L1646.0 417.9 L1646.4 414.6 L1646.8 413.7 L1647.2 411.9 L1647.5 414.3 L1647.9 411.8 L1648.3 412.4 L1648.7 411.2 L1649.1 408.5 L1649.5 408.4 L1649.8 407.3 L1650.2 406.6 L1650.6 405.4 L1651.0 404.9 L1651.4 404.0 L1651.8 401.5 L1652.1 401.8 L1652.5 399.4 L1652.9 397.4 L1653.3 397.2 L1653.7 395.9 L1654.1 395.1 L1654.5 393.7 L1655.0 394.8 L1655.4 394.6 L1655.8 392.2 L1656.2 393.0 L1656.6 391.1 L1657.0 389.0 L1657.4 387.4 L1657.8 387.8 L1658.3 386.8 L1658.7 386.2 L1659.1 388.5 L1659.5 386.4 L1659.9 383.9 L1660.3 381.2 L1660.7 380.4 L1661.1 379.2 L1661.6 378.3 L1662.0 375.3 L1662.4 376.6 L1662.8 375.0 L1663.2 377.6 L1663.6 375.1 L1664.1 375.0 L1664.5 373.7 L1664.9 371.3 L1665.4 371.0 L1665.8 369.6 L1666.3 368.5 L1666.7 367.9 L1667.1 364.9 L1667.6 367.1 L1668.0 366.4 L1668.4 364.7 L1668.9 365.2 L1669.3 362.1 L1669.8 358.6 L1670.2 360.0 L1670.6 358.6 L1671.1 358.4 L1671.5 357.2 L1671.9 356.5 L1672.4 354.8 L1672.8 354.7 L1673.3 355.0 L1673.7 354.0 L1674.1 354.7 L1674.6 353.0 L1675.0 351.6 L1675.4 350.3 L1675.8 349.6 L1676.2 348.0 L1676.6 345.5 L1677.0 344.3 L1677.4 342.4 L1677.8 342.9 L1678.3 343.0 L1678.7 342.8 L1679.1 342.9 L1679.5 340.5 L1679.9 337.1 L1680.3 337.0 L1680.7 337.2 L1681.1 334.4 L1681.5 333.6 L1681.9 332.9 L1682.3 335.7 L1682.7 335.0 L1683.1 332.1 L1683.5 330.7 L1684.0 330.3 L1684.4 329.8 L1684.8 328.9 L1685.2 326.5 L1685.6 325.2 L1686.0 326.9 L1686.4 325.3 L1686.8 325.4 L1687.3 323.6 L1687.7 322.7 L1688.1 321.9 L1688.6 320.3 L1689.0 320.9 L1689.5 320.1 L1689.9 318.2 L1690.4 317.2 L1690.8 318.0 L1691.3 314.7 L1691.7 315.0 L1692.2 314.9 L1692.6 314.8 L1693.1 314.1 L1693.5 310.6 L1694.0 310.7 L1694.4 308.8 L1694.9 308.9 L1695.3 307.6 L1695.8 307.4 L1696.2 304.9 L1696.7 304.5 L1697.1 304.1 L1697.6 303.4 L1698.0 303.0 L1698.5 303.3 L1698.9 299.7 L1699.4 298.9 L1699.8 296.1 L1700.3 297.1 L1700.8 298.0 L1701.2 296.1 L1701.7 296.0 L1702.1 296.3 L1702.6 294.0 L1703.0 293.2 L1703.5 292.3 L1704.0 289.5 L1704.5 287.4 L1705.1 287.0 L1705.7 285.8 L1706.4 286.6 L1707.0 283.0 L1707.7 281.5 L1708.3 280.7 L1709.0 282.2 L1709.7 281.8 L1710.5 281.3 L1711.3 280.6 L1712.3 280.0 L1713.2 279.2 L1714.2 279.8 L1715.2 279.4 L1716.3 279.6 L1717.3 279.1 L1718.4 279.0 L1719.5 278.8 L1720.6 280.9 L1721.7 281.6 L1722.8 280.6 L1723.9 276.6 L1724.9 277.8 L1725.8 278.9 L1726.8 277.9 L1727.6 274.9 L1728.5 274.9 L1729.4 277.9 L1730.3 275.4 L1731.2 272.7 L1732.0 272.9 L1732.9 273.9 L1733.8 272.8 L1734.7 270.6 L1735.6 268.2 L1736.4 269.6 L1737.3 267.7 L1738.1 270.2 L1738.9 271.5 L1739.7 271.4 L1740.4 271.5 L1741.1 271.9 L1741.9 272.1 L1742.7 271.6 L1743.5 271.2 L1744.4 270.7 L1745.3 273.1 L1746.2 273.8 L1747.0 271.7 L1747.9 271.2 L1748.8 269.7 L1749.7 269.4 L1750.6 270.4 L1751.6 270.0 L1752.6 269.7 L1753.6 269.0 L1754.6 268.7 L1755.7 266.6 L1756.7 267.4 L1757.8 264.6 L1758.8 265.8 L1759.9 266.2 L1760.9 266.4 L1762.0 263.7 L1763.0 266.0 L1764.1 264.2 L1765.1 262.0 L1766.1 263.7 L1767.0 264.0 L1768.0 262.0 L1768.8 263.1 L1769.7 262.6 L1770.6 262.1 L1771.5 260.2 L1772.4 261.5 L1773.2 260.8 L1774.2 259.8 L1775.1 258.1 L1776.1 257.6 L1777.1 257.7 L1778.2 255.7 L1779.2 255.9 L1780.3 258.1 L1781.3 257.2 L1782.4 256.9 L1783.4 256.5 L1784.4 257.9 L1785.3 258.9 L1786.3 258.5 L1787.3 257.9 L1788.3 259.2 L1789.2 260.1 L1790.2 259.3 L1791.3 260.0 L1792.3 260.5 L1793.3 261.1 L1794.4 260.6 L1795.5 259.8 L1796.5 260.4 L1797.6 260.2 L1798.6 260.6 L1799.7 262.6 L1800.8 262.8 L1801.8 262.0 L1802.9 262.2 L1803.9 262.7 L1805.0 262.7 L1806.0 261.9 L1807.0 261.7 L1808.0 259.7 L1809.1 261.6 L1810.1 264.6 L1811.1 262.6 L1812.2 264.7 L1813.2 262.9 L1814.2 262.8 L1815.2 264.8 L1816.2 263.3 L1817.1 263.4 L1818.1 265.7 L1819.1 265.1 L1820.1 266.2 L1821.1 268.8 L1822.0 265.8 L1823.0 267.6 L1824.0 269.0 L1825.0 267.2 L1826.0 266.4 L1827.0 267.0 L1827.9 266.7 L1828.9 267.3 L1829.9 264.0 L1830.9 264.1 L1831.8 265.1 L1832.8 264.8 L1833.8 263.6 L1834.8 264.5 L1835.8 264.8 L1836.7 263.5 L1837.7 262.1 L1838.7 264.0 L1839.7 264.7 L1840.6 265.5 L1841.6 266.3 L1842.5 265.4 L1843.5 265.6 L1844.4 268.1 L1845.3 267.2 L1846.2 266.6 L1847.0 266.9 L1847.9 269.2 L1848.8 272.0 L1849.7 272.4 L1850.6 269.7 L1851.6 270.8 L1852.6 270.5 L1853.6 272.2 L1854.6 272.2 L1855.6 271.8 L1856.7 271.2 L1857.7 273.3 L1858.7 271.0 L1859.7 271.5 L1860.8 271.0 L1861.8 273.4 L1862.8 274.9 L1863.8 274.6 L1864.7 275.4 L1865.7 274.8 L1866.7 273.1 L1867.7 274.6 L1868.6 277.5 L1869.6 275.9 L1870.6 277.1 L1871.5 275.1 L1872.5 276.9 L1873.5 278.6 L1874.5 278.1 L1875.6 275.5 L1876.6 276.9 L1877.6 276.2 L1878.7 278.2 L1879.7 278.2 L1880.7 277.7 L1881.7 278.0 L1882.8 276.6 L1883.8 277.2 L1884.8 278.6 L1885.8 278.8 L1886.8 280.7 L1887.7 280.2 L1888.7 282.1 L1889.7 279.2 L1890.7 279.1 L1891.7 279.6 L1892.7 278.1 L1893.6 279.6 L1894.6 279.3 L1895.7 279.6 L1896.7 279.5 L1897.7 280.2 L1898.8 281.0 L1899.9 279.8 L1901.0 280.6 L1902.0 278.2 L1903.1 278.3 L1904.2 277.9 L1905.3 279.5 L1906.3 279.6 L1907.4 278.7 L1908.4 279.4 L1909.4 279.5 L1910.4 278.1 L1911.5 280.8 L1912.5 280.3 L1913.5 281.1 L1914.5 281.9 L1915.5 283.5 L1916.5 281.8 L1917.6 280.6 L1918.6 279.9 L1919.6 280.2 L1920.6 281.3 L1921.6 281.0 L1922.7 280.4 L1923.7 279.3 L1924.7 279.8 L1925.8 281.9 L1926.8 282.0 L1927.8 281.7 L1928.8 282.8 L1929.9 282.7 L1930.9 280.2 L1931.9 282.0 L1932.9 280.9 L1933.8 282.4 L1934.8 281.2 L1935.8 281.4 L1936.8 280.1 L1937.7 281.1 L1938.7 282.9 L1939.7 283.5 L1940.6 284.9 L1941.5 284.5 L1942.5 285.6 L1943.4 286.1 L1944.3 286.4 L1945.2 287.3 L1946.2 286.3 L1947.1 288.6 L1948.0 289.0 L1949.0 285.7 L1949.9 285.2 L1950.8 288.2 L1951.8 289.8 L1952.7 289.2 L1953.7 293.0 L1954.6 291.5 L1955.5 292.7 L1956.5 294.0 L1957.4 292.7 L1958.3 291.8 L1959.2 293.1 L1960.0 293.3 L1960.9 295.7 L1961.8 294.4 L1962.7 297.2 L1963.6 300.1 L1964.4 298.8 L1965.3 298.4 L1966.2 299.8 L1967.0 300.2 L1967.8 299.6 L1968.6 299.3 L1969.4 303.3 L1970.2 302.0 L1971.0 303.2 L1971.8 304.5 L1972.6 305.7 L1973.4 306.2 L1974.2 305.2 L1974.9 306.9 L1975.5 308.2 L1976.2 307.1 L1976.8 309.5 L1977.4 308.0 L1978.0 310.3 L1978.5 310.2 L1979.1 310.9 L1979.7 313.7 L1980.3 312.8 L1980.9 315.1 L1981.6 317.1 L1982.2 315.9 L1982.9 317.3 L1983.5 319.9 L1984.2 319.3 L1984.8 320.3 L1985.5 322.0 L1986.1 322.9 L1986.7 324.7 L1987.3 323.6 L1987.8 326.8 L1988.3 327.0 L1988.7 326.5 L1989.2 325.6 L1989.7 328.4 L1990.2 329.0 L1990.7 329.1 L1991.2 331.5 L1991.7 332.9 L1992.2 334.0 L1992.6 332.6 L1993.1 332.8 L1993.6 333.1 L1994.1 335.3 L1994.6 338.2 L1995.0 339.6 L1995.5 340.8 L1996.0 338.7 L1996.4 340.3 L1996.9 340.5 L1997.3 341.9 L1997.8 343.5 L1998.3 344.7 L1998.7 343.1 L1999.2 346.7 L1999.7 346.6 L2000.1 348.4 L2000.6 346.8 L2001.0 349.3 L2001.5 350.8 L2001.9 353.8 L2002.3 351.2 L2002.7 352.7 L2003.1 352.7 L2003.5 353.1 L2003.9 357.0 L2004.3 357.6 L2004.6 358.8 L2005.0 359.7 L2005.4 360.1 L2005.8 360.9 L2006.2 360.6 L2006.6 363.7 L2007.0 365.2 L2007.3 365.3 L2007.7 368.4 L2008.0 368.2 L2008.3 367.6 L2008.6 369.7 L2008.9 371.3 L2009.2 370.2 L2009.5 372.5 L2009.8 374.4 L2010.1 374.4 L2010.5 376.3 L2010.8 378.0 L2011.1 376.3 L2011.4 378.8 L2011.7 378.8 L2012.0 378.9 L2012.3 381.2 L2012.6 381.6 L2012.9 383.3 L2013.1 383.6 L2013.4 383.7 L2013.6 386.0 L2013.8 386.7 L2014.0 388.0 L2014.2 388.4 L2014.4 390.3 L2014.6 391.2 L2014.8 393.5 L2015.0 393.2 L2015.2 394.7 L2015.4 394.5 L2015.6 393.7 L2015.8 397.2 L2016.0 398.1 L2016.2 399.5 L2016.4 401.6 L2016.6 400.4 L2016.8 401.1 L2017.0 401.9 L2017.2 403.2 L2017.4 408.0 L2017.6 407.3 L2017.8 408.1 L2018.0 407.8 L2018.2 409.3 L2018.5 410.1 L2018.7 413.0 L2018.9 412.4 L2019.1 414.4 L2019.3 414.2 L2019.5 415.1 L2019.7 415.4 L2020.0 417.6 L2020.2 418.1 L2020.4 420.1 L2020.6 420.6 L2020.8 420.6 L2021.0 420.8 L2021.2 423.3 L2021.5 422.6 L2021.7 425.1 L2021.9 423.4 L2022.1 426.7 L2022.3 428.1 L2022.6 428.9 L2022.8 430.6 L2023.1 429.5 L2023.3 430.9 L2023.5 433.1 L2023.8 435.2 L2024.0 435.4 L2024.3 436.3 L2024.5 436.9 L2024.7 438.8 L2025.0 438.0 L2025.2 436.8 L2025.5 440.9 L2025.8 442.3 L2026.2 441.3 L2026.7 443.5 L2027.2 446.2 L2027.7 448.3 L2028.1 447.1 L2028.6 449.0 L2029.1 447.5 L2029.7 449.4 L2030.4 450.8 L2031.2 449.2 L2032.1 448.3 L2033.1 451.9 L2034.2 452.2 L2035.2 453.6 L2036.2 451.2 L2037.2 450.0 L2038.2 452.6 L2039.3 451.0 L2040.3 448.6 L2041.4 449.6 L2042.5 450.8 L2043.6 451.0 L2044.6 447.7 L2045.7 449.7 L2046.8 447.5 L2047.9 451.7 L2048.9 449.0 L2050.0 448.8 L2051.0 449.8 L2052.1 449.5 L2053.1 451.4 L2054.1 450.1 L2055.2 450.9 L2056.2 451.3 L2057.2 451.5 L2058.2 449.8 L2059.3 452.8 L2060.3 451.0 L2061.3 450.4 L2062.4 451.1 L2063.4 452.2 L2064.5 449.4 L2065.5 451.3 L2066.6 453.9 L2067.6 454.0 L2068.7 454.3 L2069.8 455.4 L2070.9 455.6 L2071.8 453.9 L2072.6 454.0 L2073.3 456.1 L2073.8 454.4 L2074.5 457.0 L2075.1 460.3 L2075.8 458.5 L2076.5 459.0 L2077.2 453.9 L2077.9 454.3 L2078.7 454.6 L2079.4 454.6 L2080.0 453.1 L2080.7 454.1 L2081.4 452.6 L2082.0 451.2 L2082.7 450.6 L2083.4 450.7 L2084.0 448.4 L2084.7 448.1 L2085.0 447.4 L2085.3 448.7" stroke="#0000ff" stroke-width="2.90"/>
<path d="M1581.8 471.7 L1582.3 472.5 L1582.7 472.5 L1583.7 473.5 L1584.6 471.9 L1585.5 471.8 L1586.4 471.7 L1587.3 472.0 L1588.2 474.5 L1589.2 474.8 L1590.1 473.9 L1591.0 473.9 L1591.9 476.3 L1592.8 475.0 L1593.8 475.4 L1594.7 476.7 L1595.6 478.0 L1596.5 478.4 L1597.5 476.4 L1598.4 474.6 L1599.4 473.8 L1600.3 474.9 L1601.3 474.8 L1602.2 475.5 L1603.1 475.1 L1604.1 474.9 L1605.0 472.4 L1606.0 471.2 L1606.9 471.6 L1607.8 471.9 L1608.7 470.4 L1609.6 471.7 L1610.4 468.7 L1611.2 468.9 L1612.0 467.7 L1612.8 468.3 L1613.7 468.2 L1614.5 466.9 L1615.3 466.8 L1616.1 467.6 L1616.9 465.8 L1617.7 465.4 L1618.5 465.4 L1619.3 466.6 L1620.1 466.8 L1621.0 466.6 L1621.8 469.5 L1622.6 469.0 L1623.4 468.2 L1624.2 471.2 L1625.1 470.9 L1625.9 472.9 L1626.8 474.5 L1627.7 473.2 L1628.6 472.8 L1629.5 475.4 L1630.4 473.6 L1631.4 473.8 L1632.3 474.6 L1633.2 475.2 L1634.1 477.9 L1635.0 477.6 L1635.9 476.0 L1636.9 479.1 L1637.9 479.5 L1638.9 479.0 L1640.0 481.0 L1641.1 480.9 L1642.1 480.8 L1643.2 479.5 L1644.2 479.8 L1645.3 481.6 L1646.4 481.5 L1647.4 480.6 L1648.5 479.2 L1649.5 480.8 L1650.6 481.1 L1651.7 482.1 L1652.7 482.3 L1653.8 482.6 L1654.8 481.9 L1655.8 482.1 L1656.9 481.3 L1658.0 482.0 L1659.0 482.3 L1660.0 482.5 L1661.1 481.4 L1662.2 482.3 L1663.2 482.1 L1664.2 481.2 L1665.3 481.9 L1666.3 482.9 L1667.4 482.1 L1668.5 484.0 L1669.5 483.4 L1670.5 484.0 L1671.6 483.8 L1672.7 481.2 L1673.7 480.3 L1674.8 482.4 L1675.8 482.2 L1676.9 482.0 L1678.0 483.1 L1679.1 483.3 L1680.2 483.3 L1681.3 482.0 L1682.2 483.8 L1682.9 480.4 L1683.4 482.0 L1683.6 480.5 L1683.6 480.6 L1683.6 479.2 L1683.6 478.3 L1683.6 478.5 L1683.7 475.8 L1683.7 472.6 L1683.7 472.4 L1683.7 469.8 L1683.7 470.1 L1683.7 469.4 L1683.7 469.8 L1683.7 468.2 L1683.7 467.9 L1683.7 465.3 L1683.7 465.6 L1683.7 464.5 L1683.8 464.7 L1683.8 465.5 L1683.8 463.5 L1683.8 462.4 L1683.8 459.5 L1683.8 458.0 L1683.9 459.5 L1684.0 455.7 L1684.1 455.2 L1684.2 455.1 L1684.3 455.0 L1684.5 452.7 L1684.6 451.8 L1684.8 451.4 L1684.9 451.5 L1685.0 449.5 L1685.2 447.9 L1685.3 448.2 L1685.4 447.4 L1685.6 444.9 L1685.7 444.3 L1685.8 442.9 L1686.0 442.0 L1686.1 439.2 L1686.3 439.6 L1686.4 438.7 L1686.5 436.5 L1686.7 436.4 L1686.8 434.7 L1687.0 433.8 L1687.1 433.2 L1687.3 434.8 L1687.4 433.7 L1687.6 430.4 L1687.7 430.9 L1687.9 428.9 L1688.0 429.2 L1688.2 428.0 L1688.3 427.6 L1688.5 426.4 L1688.6 423.9 L1688.8 422.2 L1688.9 421.8 L1689.1 421.0 L1689.2 421.1 L1689.4 421.7 L1689.5 419.0 L1689.7 419.3 L1689.8 417.2 L1690.0 415.9 L1690.1 413.1 L1690.3 412.6 L1690.4 412.3 L1690.6 410.6 L1690.7 408.9 L1690.9 408.4 L1691.1 408.7 L1691.3 407.9 L1691.5 405.4 L1691.7 405.5 L1692.0 403.7 L1692.3 402.1 L1692.5 402.8 L1692.8 401.5 L1693.1 400.0 L1693.3 398.6 L1693.6 394.3 L1693.9 396.3 L1694.2 397.0 L1694.4 392.3 L1694.7 389.9 L1695.0 390.7 L1695.2 391.9 L1695.5 391.0 L1695.8 390.2 L1696.0 387.9 L1696.3 386.2 L1696.6 386.4 L1696.9 384.0 L1697.2 385.2 L1697.5 384.5 L1697.8 382.7 L1698.2 380.8 L1698.6 382.0 L1698.9 380.1 L1699.3 376.9 L1699.7 376.1 L1700.0 374.1 L1700.4 375.7 L1700.8 373.6 L1701.1 373.4 L1701.5 373.2 L1701.8 373.4 L1702.2 369.9 L1702.6 370.3 L1702.9 368.7 L1703.3 367.8 L1703.7 364.7 L1704.0 365.4 L1704.4 365.2 L1704.7 364.6 L1705.1 364.1 L1705.4 361.9 L1705.8 359.5 L1706.1 360.5 L1706.4 358.1 L1706.8 360.8 L1707.1 358.0 L1707.4 354.6 L1707.8 355.8 L1708.1 354.6 L1708.5 353.0 L1708.8 352.0 L1709.1 351.2 L1709.5 349.1 L1709.8 350.4 L1710.2 350.4 L1710.5 348.6 L1710.8 346.5 L1711.2 346.2 L1711.5 346.3 L1711.8 345.1 L1712.2 343.3 L1712.5 342.7 L1712.9 340.1 L1713.2 340.8 L1713.5 341.1 L1713.8 339.9 L1714.1 339.0 L1714.4 337.6 L1714.7 334.5 L1715.0 335.7 L1715.3 335.3 L1715.7 332.2 L1716.0 331.2 L1716.3 331.4 L1716.6 330.5 L1716.9 327.9 L1717.2 326.4 L1717.5 325.1 L1717.8 325.6 L1718.1 325.8 L1718.4 325.1 L1718.7 323.1 L1719.0 322.4 L1719.3 320.7 L1719.6 321.2 L1720.0 319.6 L1720.3 318.1 L1720.6 318.5 L1720.9 316.7 L1721.2 315.2 L1721.5 313.3 L1721.8 313.0 L1722.1 313.9 L1722.4 310.8 L1722.7 311.5 L1723.0 308.7 L1723.3 307.4 L1723.6 308.3 L1723.9 305.8 L1724.2 305.0 L1724.5 304.0 L1724.8 304.8 L1725.1 303.6 L1725.4 301.5 L1725.8 300.2 L1726.1 300.0 L1726.4 298.1 L1726.7 298.2 L1727.0 298.1 L1727.3 297.0 L1727.6 294.1 L1727.9 295.1 L1728.2 293.3 L1728.5 293.6 L1728.8 292.1 L1729.1 290.2 L1729.4 287.0 L1729.8 289.3 L1730.1 286.6 L1730.4 286.4 L1730.8 286.3 L1731.1 286.1 L1731.5 282.8 L1731.8 283.9 L1732.2 281.2 L1732.5 280.0 L1732.9 281.4 L1733.2 279.0 L1733.6 277.6 L1733.9 275.1 L1734.3 275.1 L1734.6 271.8 L1735.0 272.9 L1735.5 273.1 L1736.0 272.0 L1736.6 269.9 L1737.3 271.6 L1738.0 269.5 L1738.6 267.8 L1739.3 267.2 L1739.9 265.4 L1740.6 264.4 L1741.3 262.8 L1742.0 262.4 L1742.7 260.6 L1743.5 262.0 L1744.4 261.3 L1745.3 260.9 L1746.2 261.1 L1747.0 260.0 L1747.9 261.8 L1748.8 258.8 L1749.7 258.9 L1750.6 259.1 L1751.5 257.8 L1752.4 256.3 L1753.3 255.4 L1754.2 257.2 L1755.2 256.1 L1756.1 256.1 L1757.0 253.3 L1757.9 253.5 L1758.9 254.5 L1759.9 254.0 L1761.0 253.9 L1762.1 252.8 L1763.2 254.2 L1764.3 253.4 L1765.4 253.9 L1766.5 253.8 L1767.6 252.5 L1768.7 252.5 L1769.8 252.7 L1770.9 251.6 L1772.0 252.1 L1773.2 251.5 L1774.3 250.4 L1775.3 251.7 L1776.4 252.5 L1777.4 253.5 L1778.3 253.9 L1779.2 252.9 L1780.2 252.9 L1781.1 255.2 L1782.0 254.3 L1782.9 253.1 L1783.8 253.0 L1784.8 254.2 L1785.8 257.5 L1786.8 255.4 L1787.7 257.7 L1788.7 256.5 L1789.7 256.7 L1790.7 256.3 L1791.7 259.1 L1792.7 259.9 L1793.6 258.1 L1794.6 258.9 L1795.6 257.3 L1796.5 258.1 L1797.5 259.4 L1798.4 259.4 L1799.3 260.6 L1800.3 258.4 L1801.2 262.8 L1802.2 261.7 L1803.1 260.0 L1804.0 260.7 L1805.0 260.4 L1805.9 261.1 L1806.9 263.7 L1807.8 263.6 L1808.8 265.1 L1809.8 265.7 L1810.8 267.0 L1811.8 264.6 L1812.7 263.7 L1813.7 264.9 L1814.7 266.7 L1815.7 267.4 L1816.6 266.4 L1817.6 266.8 L1818.6 268.5 L1819.7 268.8 L1820.7 266.1 L1821.7 267.8 L1822.8 268.8 L1823.8 268.8 L1824.8 268.4 L1825.8 266.7 L1826.9 268.5 L1828.0 270.0 L1829.1 270.4 L1830.3 267.6 L1831.4 270.0 L1832.6 270.4 L1833.7 270.9 L1834.7 268.9 L1835.8 269.1 L1836.7 267.9 L1837.7 267.9 L1838.7 267.9 L1839.7 268.1 L1840.6 266.3 L1841.6 267.8 L1842.7 269.5 L1843.7 267.8 L1844.7 267.4 L1845.8 266.9 L1846.9 266.4 L1848.0 266.4 L1849.0 266.2 L1850.1 268.3 L1851.2 267.6 L1852.3 265.9 L1853.3 265.5 L1854.4 265.9 L1855.4 264.8 L1856.5 266.4 L1857.5 267.4 L1858.6 264.9 L1859.7 264.6 L1860.7 264.8 L1861.8 264.6 L1862.8 266.3 L1863.8 264.1 L1864.9 265.1 L1866.0 266.1 L1867.0 267.8 L1868.0 266.3 L1869.1 265.9 L1870.1 266.6 L1871.1 264.0 L1872.0 264.2 L1873.0 265.8 L1874.0 264.2 L1875.0 264.7 L1876.0 265.2 L1877.0 264.6 L1878.0 264.9 L1878.9 263.8 L1879.9 261.9 L1880.9 261.2 L1881.9 260.9 L1883.0 263.0 L1884.0 262.9 L1885.0 262.4 L1886.0 261.2 L1887.1 265.3 L1888.1 264.1 L1889.1 261.8 L1890.2 263.1 L1891.2 262.6 L1892.2 263.3 L1893.3 264.2 L1894.3 264.2 L1895.3 262.5 L1896.3 261.5 L1897.4 260.6 L1898.4 259.0 L1899.4 258.4 L1900.5 261.3 L1901.5 259.6 L1902.5 258.0 L1903.5 257.6 L1904.4 255.5 L1905.4 257.5 L1906.4 256.5 L1907.4 256.8 L1908.3 255.7 L1909.3 253.4 L1910.3 257.0 L1911.3 255.8 L1912.3 254.3 L1913.2 253.6 L1914.2 253.9 L1915.2 253.9 L1916.2 252.8 L1917.1 252.4 L1918.1 253.6 L1919.1 255.1 L1920.1 253.0 L1921.1 253.7 L1922.0 255.2 L1923.0 256.2 L1924.0 254.3 L1925.0 253.7 L1925.9 253.9 L1926.9 255.4 L1927.9 256.9 L1928.9 256.3 L1929.9 255.1 L1930.8 255.0 L1931.8 256.6 L1932.8 256.1 L1933.8 256.2 L1934.8 256.9 L1935.8 256.8 L1936.8 257.4 L1937.7 256.3 L1938.7 257.4 L1939.6 258.9 L1940.5 258.9 L1941.4 260.1 L1942.2 261.2 L1943.1 261.2 L1943.9 263.0 L1944.7 263.6 L1945.5 264.4 L1946.3 264.2 L1947.1 265.0 L1947.8 267.0 L1948.5 266.3 L1949.2 268.2 L1950.0 265.0 L1950.7 266.1 L1951.4 267.9 L1952.1 270.5 L1952.8 271.0 L1953.4 270.8 L1953.9 273.5 L1954.4 273.5 L1954.9 274.1 L1955.4 274.8 L1955.9 275.7 L1956.4 276.8 L1956.8 278.9 L1957.2 280.4 L1957.5 277.8 L1957.8 283.5 L1957.9 282.3 L1958.1 283.7 L1958.3 283.2 L1958.5 286.0 L1958.7 286.4 L1958.8 288.7 L1959.0 288.6 L1959.2 291.1 L1959.4 290.1 L1959.6 292.0 L1959.8 294.0 L1959.9 294.1 L1960.1 292.9 L1960.3 293.1 L1960.5 296.0 L1960.7 295.8 L1960.8 298.6 L1961.0 299.4 L1961.2 300.3 L1961.4 301.2 L1961.5 302.5 L1961.7 304.4 L1961.9 305.7 L1962.1 304.1 L1962.2 307.2 L1962.4 307.3 L1962.6 310.5 L1962.8 309.7 L1962.9 309.6 L1963.1 310.4 L1963.3 312.6 L1963.5 313.8 L1963.6 314.0 L1963.8 314.7 L1964.0 315.5 L1964.2 319.1 L1964.3 319.5 L1964.5 319.8 L1964.7 321.0 L1964.9 322.2 L1965.1 322.9 L1965.3 324.5 L1965.5 326.2 L1965.7 326.7 L1965.8 327.3 L1966.0 327.7 L1966.2 329.8 L1966.4 330.4 L1966.6 331.8 L1966.8 331.9 L1967.0 334.1 L1967.2 333.8 L1967.4 335.9 L1967.6 335.7 L1967.8 336.9 L1968.0 340.5 L1968.1 340.8 L1968.3 341.1 L1968.5 342.7 L1968.7 344.0 L1968.9 344.2 L1969.1 344.1 L1969.3 343.7 L1969.5 345.0 L1969.6 348.9 L1969.8 349.2 L1970.0 350.0 L1970.2 351.0 L1970.3 350.8 L1970.5 352.4 L1970.7 352.4 L1970.9 355.2 L1971.0 357.3 L1971.2 357.4 L1971.4 359.5 L1971.6 361.3 L1971.7 359.9 L1971.9 360.9 L1972.1 360.7 L1972.3 362.2 L1972.4 365.1 L1972.6 366.0 L1972.8 364.3 L1973.0 367.1 L1973.1 367.9 L1973.3 366.8 L1973.5 369.9 L1973.7 370.5 L1973.9 370.4 L1974.1 371.7 L1974.3 372.1 L1974.5 373.0 L1974.7 375.3 L1974.9 375.1 L1975.1 376.1 L1975.3 377.4 L1975.5 379.8 L1975.7 381.4 L1975.9 383.0 L1976.1 384.2 L1976.3 383.7 L1976.5 384.3 L1976.7 384.1 L1976.9 387.6 L1977.1 388.8 L1977.3 390.2 L1977.5 389.1 L1977.7 390.5 L1977.9 391.1 L1978.2 395.0 L1978.4 393.4 L1978.7 394.2 L1978.9 395.8 L1979.2 396.8 L1979.4 396.9 L1979.7 398.5 L1979.9 398.9 L1980.2 398.9 L1980.4 401.9 L1980.7 403.0 L1980.9 403.1 L1981.2 405.8 L1981.4 404.0 L1981.7 405.1 L1981.9 408.1 L1982.2 408.9 L1982.5 409.5 L1982.9 409.7 L1983.4 412.1 L1983.9 412.7 L1984.4 413.2 L1984.8 414.3 L1985.3 415.9 L1985.8 414.7 L1986.3 415.3 L1986.7 415.2 L1987.0 417.6 L1987.3 418.1 L1987.5 420.3 L1987.8 419.1 L1988.0 423.8 L1988.2 423.3 L1988.5 425.3 L1988.7 423.3 L1989.0 427.3 L1989.2 427.4 L1989.4 427.3 L1989.7 430.1 L1989.9 431.4 L1990.1 432.0 L1990.3 432.4 L1990.4 434.0 L1990.5 436.0 L1990.6 437.1 L1990.6 437.5 L1990.7 438.6 L1990.7 438.0 L1990.8 438.9 L1990.8 440.3 L1990.9 441.7 L1990.9 443.7 L1991.0 445.1 L1991.0 445.8 L1991.1 446.4 L1991.2 445.7 L1991.2 449.6 L1991.3 449.7 L1991.3 448.0 L1991.4 450.3 L1991.4 451.2 L1991.5 452.4 L1991.5 452.2 L1991.6 454.6 L1991.6 455.6 L1991.7 457.1 L1991.7 458.4 L1991.8 458.2 L1992.1 460.1 L1992.5 460.6 L1993.2 463.2 L1994.1 464.8 L1995.1 462.3 L1996.2 463.0 L1997.2 462.9 L1998.3 460.9 L1999.3 462.4 L2000.4 462.6 L2001.5 460.5 L2002.5 462.7 L2003.5 463.4 L2004.6 464.3 L2005.7 463.6 L2006.7 463.2 L2007.8 461.9 L2008.8 461.8 L2009.9 462.3 L2010.9 462.7 L2012.0 461.3 L2013.0 461.2 L2014.1 462.2 L2015.1 463.2 L2016.2 464.4 L2017.2 463.4 L2018.3 461.4 L2019.3 460.4 L2020.4 461.7 L2021.5 461.8 L2022.5 461.6 L2023.5 462.0 L2024.6 463.4 L2025.7 462.0 L2026.7 463.1 L2027.8 463.4 L2028.8 463.3 L2029.8 464.2 L2030.8 462.6 L2031.8 461.4 L2032.7 461.8 L2033.6 464.2 L2034.5 466.1 L2035.5 466.7 L2036.4 466.0 L2037.3 467.6 L2038.3 467.0 L2039.3 467.1 L2040.3 466.3 L2041.4 465.9 L2042.4 467.5 L2043.5 463.1 L2044.5 464.0 L2045.6 463.8 L2046.6 464.1 L2047.7 463.6 L2048.7 464.9 L2049.8 464.6 L2050.8 462.2 L2051.8 461.9 L2052.8 462.9 L2053.8 462.1 L2054.7 461.6 L2055.6 460.6 L2056.4 460.9 L2057.2 462.0 L2058.0 460.5 L2058.7 460.0 L2059.3 458.9 L2059.9 455.7 L2060.5 454.5 L2061.3 453.2 L2062.1 452.1 L2063.1 455.5 L2064.1 455.1 L2065.3 454.8 L2066.4 453.4 L2067.3 455.2 L2068.3 455.7 L2069.1 458.7 L2069.8 459.3 L2070.6 459.1 L2071.3 458.8 L2072.0 457.4 L2072.8 460.0 L2073.5 460.6 L2074.3 461.4 L2075.1 462.6 L2076.0 465.0 L2077.0 464.8 L2077.9 465.3 L2078.9 465.5 L2079.9 465.0 L2080.9 465.2 L2081.9 465.8 L2082.9 467.3 L2084.0 468.6 L2084.5 468.2 L2085.0 467.0" stroke="#ff0000" stroke-width="2.90"/>
</g>
<rect x="1909.3" y="110.5" width="161.2" height="82.9" fill="#fff" stroke="#3a3a3a" stroke-width="1.3" rx="1.5"/>
<path d="M1916.1 128.1 H1960.3" stroke="#0000ff" stroke-width="2.8" stroke-linecap="round"/>
<text x="1971.1" y="135.3" font-size="19.7" text-anchor="start" font-weight="bold" fill="#000" letter-spacing="0.15">4 degree</text>
<path d="M1916.1 152.0 H1960.3" stroke="#ff0000" stroke-width="2.8" stroke-linecap="round"/>
<text x="1971.1" y="159.2" font-size="19.7" text-anchor="start" font-weight="bold" fill="#000" letter-spacing="0.15">25 degree</text>
<path d="M1916.1 175.9 H1960.3" stroke="#000000" stroke-width="2.8" stroke-linecap="round"/>
<text x="1971.1" y="183.1" font-size="19.7" text-anchor="start" font-weight="bold" fill="#000" letter-spacing="0.15">37 degree</text>
<text transform="translate(1570.9,291.4) rotate(-90)" font-size="25.6" text-anchor="middle" font-weight="bold">Cataract intensity distribution (a. u.)</text>
<path d="M1585.5 512.4 H1599.9" stroke="#000" stroke-width="1.6"/>
<text x="1602.0" y="520.8" font-size="23.2" text-anchor="start" font-weight="bold" fill="#000" >1</text>
<text x="1833.6" y="520.8" font-size="23.2" text-anchor="middle" font-weight="bold" fill="#000" >0</text>
<text x="2075.2" y="520.8" font-size="23.2" text-anchor="middle" font-weight="bold" fill="#000" >1</text>
<text x="1631.1" y="540.3" font-size="24.7" text-anchor="middle" font-weight="bold" fill="#000" letter-spacing="0.5">Periphery</text>
<text x="1835.2" y="541.2" font-size="24.7" text-anchor="middle" font-weight="bold" fill="#000" letter-spacing="0.3">Center</text>
<text x="2034.1" y="541.5" font-size="24.7" text-anchor="middle" font-weight="bold" fill="#000" letter-spacing="0.5">Periphery</text>
<rect x="1580.9" y="565.2" width="504.2" height="415.5" fill="#fff" stroke="#1c1c1c" stroke-width="1.9" rx="1.2"/>
<g clip-path="url(#cpE)" fill="none" stroke-linejoin="round" stroke-linecap="round">
<path d="M1581.3 940.7 L1581.6 941.2 L1582.0 941.4 L1582.7 942.1 L1583.5 942.9 L1584.3 943.3 L1585.2 944.0 L1586.1 944.3 L1587.0 944.8 L1588.0 945.0 L1588.9 945.5 L1589.9 946.0 L1590.9 946.3 L1591.9 946.4 L1592.9 946.1 L1593.9 946.3 L1594.9 946.6 L1595.8 947.0 L1596.8 947.1 L1597.8 947.4 L1598.8 947.6 L1599.8 947.6 L1600.8 948.0 L1601.8 948.2 L1602.8 948.2 L1603.9 948.3 L1604.9 948.5 L1606.0 948.3 L1607.1 948.1 L1608.1 948.2 L1609.2 947.8 L1610.3 947.9 L1611.4 948.2 L1612.4 948.2 L1613.5 948.1 L1614.6 947.9 L1615.6 947.8 L1616.7 948.0 L1617.8 947.9 L1618.8 948.4 L1619.9 948.4 L1621.0 948.7 L1622.0 948.9 L1623.1 948.8 L1624.2 949.0 L1625.3 949.1 L1626.3 949.1 L1627.4 949.2 L1628.5 949.2 L1629.5 949.4 L1630.6 949.4 L1631.6 949.3 L1632.6 949.6 L1633.6 949.8 L1634.6 949.7 L1635.6 950.1 L1636.6 950.1 L1637.5 950.2 L1638.5 950.5 L1639.5 950.3 L1640.5 951.1 L1641.5 950.9 L1642.5 951.5 L1643.5 951.2 L1644.5 951.3 L1645.5 951.2 L1646.5 951.3 L1647.5 951.4 L1648.5 951.7 L1649.5 951.6 L1650.5 951.9 L1651.5 951.9 L1652.5 952.3 L1653.5 952.3 L1654.5 952.3 L1655.5 952.3 L1656.5 952.5 L1657.5 952.2 L1658.5 952.5 L1659.6 952.4 L1660.6 952.5 L1661.7 952.6 L1662.8 952.3 L1663.8 952.3 L1664.9 952.2 L1666.0 952.3 L1667.1 952.6 L1668.1 952.8 L1669.2 952.9 L1670.3 952.6 L1671.3 952.4 L1672.4 952.3 L1673.5 952.2 L1674.6 952.3 L1675.6 952.3 L1676.7 951.9 L1677.8 952.1 L1678.9 952.1 L1679.9 951.7 L1681.0 951.4 L1682.1 951.3 L1683.1 951.0 L1684.2 950.9 L1685.2 950.7 L1686.3 950.9 L1687.3 950.7 L1688.4 950.1 L1689.4 950.1 L1690.5 949.9 L1691.5 950.0 L1692.6 950.2 L1693.6 950.3 L1694.7 950.1 L1695.7 950.4 L1696.8 950.3 L1697.8 950.3 L1698.8 950.5 L1699.9 950.5 L1700.9 950.6 L1702.0 950.3 L1703.0 950.3 L1704.0 950.3 L1705.1 950.5 L1706.1 950.5 L1707.2 950.6 L1708.2 950.9 L1709.3 950.8 L1710.3 950.8 L1711.3 950.9 L1712.4 951.0 L1713.4 951.3 L1714.5 951.4 L1715.5 951.1 L1716.6 951.2 L1717.6 951.0 L1718.6 951.4 L1719.7 951.6 L1720.7 951.2 L1721.7 951.4 L1722.7 951.3 L1723.7 951.3 L1724.7 951.2 L1725.8 951.4 L1726.8 951.6 L1727.8 951.4 L1728.8 951.6 L1729.8 951.7 L1730.8 951.6 L1731.8 951.7 L1732.8 951.9 L1733.8 951.4 L1734.8 951.4 L1735.8 951.5 L1736.9 951.5 L1737.9 951.7 L1738.9 951.4 L1739.9 951.4 L1740.9 951.2 L1741.9 951.4 L1743.0 951.0 L1744.0 950.9 L1745.0 951.0 L1746.1 951.1 L1747.1 950.9 L1748.2 950.8 L1749.2 951.0 L1750.3 950.7 L1751.3 950.6 L1752.3 950.4 L1753.4 950.5 L1754.4 950.4 L1755.5 950.2 L1756.5 950.4 L1757.6 950.3 L1758.6 950.2 L1759.7 950.3 L1760.7 950.4 L1761.8 950.2 L1762.8 950.0 L1763.8 950.0 L1764.9 949.8 L1765.9 949.9 L1767.0 949.8 L1768.0 949.8 L1769.0 949.8 L1770.1 950.0 L1771.1 950.0 L1772.2 949.9 L1773.2 950.0 L1774.2 949.9 L1775.3 949.9 L1776.3 950.1 L1777.4 950.1 L1778.4 949.9 L1779.4 950.1 L1780.5 950.1 L1781.5 949.9 L1782.6 949.8 L1783.6 949.9 L1784.6 949.7 L1785.7 949.6 L1786.7 949.5 L1787.7 949.5 L1788.7 949.4 L1789.8 949.4 L1790.8 949.5 L1791.8 949.8 L1792.8 949.4 L1793.9 949.4 L1794.9 949.5 L1795.9 949.3 L1796.9 949.1 L1798.0 949.1 L1799.0 949.0 L1800.0 949.0 L1801.0 948.8 L1802.1 948.5 L1803.1 948.4 L1804.1 948.2 L1805.1 948.2 L1806.2 947.8 L1807.2 947.6 L1808.2 947.6 L1809.2 947.5 L1810.2 947.0 L1811.3 947.1 L1812.3 947.0 L1813.3 946.8 L1814.3 946.5 L1815.3 946.1 L1816.4 946.1 L1817.4 946.0 L1818.4 946.0 L1819.4 945.8 L1820.5 945.9 L1821.5 945.3 L1822.6 945.0 L1823.6 945.2 L1824.7 944.9 L1825.7 944.4 L1826.7 944.2 L1827.8 944.1 L1828.8 943.8 L1829.9 943.7 L1830.9 943.3 L1832.0 943.3 L1833.0 943.3 L1834.0 943.2 L1835.1 943.3 L1836.2 943.2 L1837.2 943.1 L1838.2 943.1 L1839.3 942.8 L1840.3 942.9 L1841.3 943.1 L1842.3 943.2 L1843.3 943.6 L1844.3 943.8 L1845.3 944.1 L1846.3 944.1 L1847.3 944.5 L1848.3 944.8 L1849.4 945.1 L1850.4 945.2 L1851.5 945.5 L1852.5 945.2 L1853.5 945.2 L1854.6 945.3 L1855.6 945.2 L1856.6 945.5 L1857.6 945.6 L1858.6 945.7 L1859.6 945.1 L1860.6 945.4 L1861.6 945.3 L1862.6 945.2 L1863.6 945.3 L1864.7 945.0 L1865.7 945.1 L1866.7 945.0 L1867.7 944.9 L1868.7 945.2 L1869.7 945.1 L1870.7 945.2 L1871.7 945.1 L1872.7 945.2 L1873.7 944.6 L1874.8 944.7 L1875.8 944.6 L1876.8 944.7 L1877.9 944.6 L1878.9 944.5 L1880.0 944.4 L1881.0 944.6 L1882.1 944.5 L1883.1 944.3 L1884.2 944.2 L1885.2 944.1 L1886.2 944.0 L1887.3 943.8 L1888.3 943.9 L1889.4 943.9 L1890.4 944.0 L1891.5 943.6 L1892.5 943.3 L1893.6 943.2 L1894.6 943.4 L1895.6 943.2 L1896.7 943.4 L1897.7 943.0 L1898.8 942.9 L1899.8 942.7 L1900.8 942.8 L1901.9 942.7 L1902.9 942.7 L1904.0 942.9 L1905.0 942.6 L1906.0 942.4 L1907.1 942.5 L1908.1 942.5 L1909.2 942.5 L1910.2 942.5 L1911.2 942.2 L1912.3 942.0 L1913.3 941.8 L1914.4 942.0 L1915.4 941.6 L1916.4 941.6 L1917.4 941.4 L1918.4 941.2 L1919.4 941.0 L1920.4 940.8 L1921.4 941.0 L1922.3 940.6 L1923.3 940.5 L1924.3 940.6 L1925.3 940.4 L1926.3 940.3 L1927.3 940.3 L1928.3 940.0 L1929.3 940.1 L1930.3 940.1 L1931.3 940.1 L1932.4 940.1 L1933.4 939.8 L1934.4 939.9 L1935.4 939.9 L1936.4 939.3 L1937.4 939.3 L1938.5 939.3 L1939.5 939.1 L1940.5 939.2 L1941.5 939.6 L1942.6 939.4 L1943.6 939.6 L1944.7 939.5 L1945.7 939.9 L1946.8 940.0 L1947.8 939.9 L1948.8 940.0 L1949.9 940.1 L1950.9 940.3 L1952.0 940.4 L1953.0 940.5 L1954.0 940.3 L1955.0 940.3 L1956.0 940.4 L1957.0 940.7 L1958.0 940.6 L1959.1 940.7 L1960.1 940.7 L1961.1 940.8 L1962.1 941.1 L1963.1 940.8 L1964.1 941.0 L1965.1 940.9 L1966.1 940.5 L1967.1 940.4 L1968.1 939.9 L1969.1 939.8 L1970.2 939.4 L1971.2 939.4 L1972.2 939.3 L1973.2 939.0 L1974.2 938.8 L1975.2 938.6 L1976.2 938.4 L1977.1 938.2 L1978.1 937.6 L1979.0 937.2 L1980.0 936.6 L1981.0 936.4 L1981.9 936.2 L1982.9 935.5 L1983.9 935.3 L1984.8 935.2 L1985.8 935.0 L1986.7 934.6 L1987.7 933.9 L1988.6 933.7 L1989.6 933.4 L1990.5 932.9 L1991.4 932.1 L1992.4 931.7 L1993.3 931.5 L1994.2 931.3 L1995.2 930.8 L1996.2 930.4 L1997.3 930.1 L1998.3 930.0 L1999.5 930.0 L2000.6 929.6 L2001.7 929.6 L2002.9 929.3 L2004.0 929.7 L2005.2 929.4 L2006.3 929.5 L2007.4 929.8 L2008.5 930.3 L2009.6 930.7 L2010.7 930.9 L2011.8 931.6 L2012.8 932.2 L2013.8 932.7 L2014.9 932.9 L2015.9 933.1 L2017.0 933.5 L2018.0 933.9 L2019.1 934.5 L2020.1 934.6 L2021.2 935.1 L2022.2 935.7 L2023.2 936.1 L2024.3 936.5 L2025.3 936.6 L2026.3 936.6 L2027.4 936.8 L2028.4 937.3 L2029.5 937.4 L2030.5 937.3 L2031.5 937.2 L2032.6 937.3 L2033.6 937.4 L2034.7 937.2 L2035.7 937.1 L2036.8 936.7 L2037.8 936.6 L2038.8 936.2 L2039.9 935.8 L2040.9 935.3 L2041.9 935.1 L2042.9 934.9 L2043.9 934.8 L2044.8 934.2 L2045.7 933.8 L2046.6 933.3 L2047.4 932.4 L2048.1 931.6 L2048.7 930.9 L2049.3 929.7 L2049.9 929.2 L2050.5 928.2 L2051.1 927.3 L2051.4 926.8 L2051.8 926.6" stroke="#000000" stroke-width="2.50"/>
<path d="M1581.6 905.5 L1582.1 904.9 L1582.7 904.6 L1583.6 904.4 L1584.4 904.1 L1585.2 904.1 L1585.9 904.6 L1586.5 906.0 L1587.0 907.3 L1587.5 908.2 L1588.0 909.2 L1588.4 910.3 L1588.7 910.8 L1588.9 911.6 L1589.1 912.3 L1589.4 913.5 L1589.6 914.6 L1589.8 915.8 L1590.1 916.5 L1590.3 917.7 L1590.5 918.7 L1590.8 919.6 L1591.0 920.6 L1591.2 921.8 L1591.5 922.3 L1591.9 923.5 L1592.4 924.4 L1592.9 925.4 L1593.5 926.6 L1594.1 927.1 L1594.7 928.1 L1595.3 928.6 L1596.0 928.9 L1596.7 929.0 L1597.5 928.6 L1598.3 927.8 L1599.1 927.2 L1599.9 926.7 L1600.8 926.3 L1601.8 926.0 L1602.7 926.1 L1603.7 926.2 L1604.7 926.3 L1605.8 926.3 L1606.8 926.5 L1607.8 927.1 L1608.8 927.2 L1609.8 927.2 L1610.8 927.2 L1611.9 927.3 L1612.9 927.5 L1614.0 927.7 L1615.0 927.4 L1616.0 927.5 L1617.0 927.5 L1618.0 927.4 L1619.0 926.9 L1620.0 926.5 L1620.9 925.7 L1621.8 925.7 L1622.8 925.0 L1623.8 924.4 L1624.8 924.4 L1625.9 923.6 L1627.0 922.7 L1628.1 922.9 L1629.1 923.1 L1630.2 923.1 L1631.2 923.2 L1632.2 923.7 L1633.2 923.5 L1634.2 923.3 L1635.2 923.7 L1636.2 924.5 L1637.1 925.0 L1638.0 925.3 L1639.0 925.8 L1639.9 926.5 L1640.8 926.8 L1641.7 927.2 L1642.7 927.8 L1643.6 928.2 L1644.5 928.5 L1645.3 928.9 L1646.2 929.6 L1647.0 930.3 L1647.9 931.1 L1648.7 931.8 L1649.5 932.4 L1650.4 932.9 L1651.2 933.8 L1652.1 934.3 L1653.0 935.0 L1653.8 935.3 L1654.8 935.8 L1655.7 936.2 L1656.6 936.5 L1657.5 936.7 L1658.5 937.4 L1659.4 938.1 L1660.3 938.8 L1661.2 939.1 L1662.2 939.5 L1663.1 939.6 L1664.1 940.2 L1665.0 940.5 L1666.0 940.9 L1667.0 941.2 L1668.0 941.6 L1669.0 942.1 L1670.1 942.2 L1671.1 942.9 L1672.1 943.3 L1673.1 944.0 L1674.1 944.4 L1675.1 944.5 L1676.1 944.9 L1677.1 944.8 L1678.2 944.5 L1679.2 944.8 L1680.2 945.0 L1681.2 944.9 L1682.2 944.9 L1683.2 945.6 L1684.3 945.5 L1685.3 945.6 L1686.3 945.7 L1687.3 946.0 L1688.4 946.3 L1689.4 946.6 L1690.5 946.3 L1691.5 946.4 L1692.5 946.5 L1693.6 946.7 L1694.6 946.6 L1695.6 946.6 L1696.6 946.8 L1697.6 946.4 L1698.6 946.1 L1699.6 946.2 L1700.6 946.1 L1701.6 945.2 L1702.5 944.8 L1703.4 944.1 L1704.4 943.9 L1705.3 943.3 L1706.2 942.7 L1707.1 942.5 L1708.1 942.2 L1709.0 941.8 L1710.0 941.0 L1710.9 940.7 L1711.9 940.3 L1712.9 940.9 L1713.9 940.6 L1714.9 940.2 L1716.0 940.2 L1717.0 940.6 L1718.0 940.1 L1719.0 939.6 L1720.0 939.7 L1721.0 939.7 L1722.0 939.6 L1723.0 939.7 L1724.0 939.0 L1725.0 938.9 L1726.0 938.5 L1727.0 938.0 L1728.0 938.0 L1729.0 938.0 L1730.0 937.9 L1731.0 937.6 L1731.9 937.6 L1732.9 937.3 L1733.9 937.2 L1734.9 936.9 L1735.9 936.7 L1736.9 936.2 L1737.9 936.2 L1738.9 936.0 L1739.9 936.1 L1740.9 935.8 L1741.9 935.3 L1742.9 935.4 L1743.9 935.3 L1744.9 935.1 L1745.9 934.7 L1746.9 934.5 L1747.9 934.3 L1748.9 934.1 L1749.9 934.0 L1750.9 933.6 L1751.9 933.3 L1752.8 933.6 L1753.8 933.2 L1754.8 933.5 L1755.8 933.2 L1756.8 932.9 L1757.8 932.9 L1758.8 932.5 L1759.8 932.6 L1760.8 932.1 L1761.8 932.3 L1762.8 931.9 L1763.8 931.6 L1764.8 931.8 L1765.8 931.8 L1766.8 931.4 L1767.8 931.1 L1768.7 930.7 L1769.7 930.6 L1770.7 930.7 L1771.7 930.4 L1772.7 930.2 L1773.7 929.8 L1774.7 929.9 L1775.7 929.6 L1776.7 929.7 L1777.7 929.8 L1778.6 929.4 L1779.6 929.1 L1780.6 928.9 L1781.6 928.8 L1782.6 928.5 L1783.6 928.3 L1784.6 927.8 L1785.6 928.1 L1786.6 928.0 L1787.6 928.2 L1788.6 927.9 L1789.6 927.9 L1790.6 927.9 L1791.6 927.7 L1792.6 927.9 L1793.6 927.6 L1794.5 927.5 L1795.5 927.4 L1796.5 927.2 L1797.5 927.2 L1798.5 926.9 L1799.5 926.9 L1800.5 926.5 L1801.5 926.5 L1802.5 926.3 L1803.5 926.2 L1804.5 926.2 L1805.5 926.2 L1806.5 926.2 L1807.5 925.8 L1808.5 926.2 L1809.5 926.0 L1810.5 925.8 L1811.5 925.6 L1812.5 925.8 L1813.5 925.4 L1814.6 925.3 L1815.6 925.4 L1816.6 925.2 L1817.6 924.9 L1818.6 924.7 L1819.6 924.9 L1820.6 924.9 L1821.6 925.0 L1822.6 925.0 L1823.7 925.0 L1824.8 924.3 L1825.8 924.4 L1826.9 924.0 L1828.0 923.8 L1829.1 923.6 L1830.1 923.6 L1831.3 923.9 L1832.4 924.0 L1833.6 924.1 L1834.8 923.8 L1835.9 924.6 L1837.0 924.7 L1838.1 925.1 L1839.0 925.3 L1840.0 925.4 L1841.0 925.3 L1842.0 925.7 L1843.0 925.4 L1844.0 925.9 L1844.9 926.0 L1845.9 926.6 L1846.9 927.0 L1847.9 927.2 L1848.9 927.5 L1849.9 927.6 L1850.8 928.2 L1851.8 928.1 L1852.8 928.5 L1853.8 928.3 L1854.8 928.9 L1855.8 929.2 L1856.8 929.4 L1857.8 929.7 L1858.8 930.0 L1859.8 930.1 L1860.8 930.4 L1861.8 930.9 L1862.9 931.3 L1863.9 931.6 L1864.9 931.4 L1865.9 931.8 L1866.9 931.9 L1867.9 932.0 L1868.9 932.2 L1869.9 932.7 L1870.9 932.7 L1871.9 932.7 L1872.9 932.9 L1873.9 933.2 L1874.9 933.2 L1875.9 933.4 L1876.9 933.7 L1877.9 933.9 L1878.9 933.6 L1880.0 933.9 L1881.0 934.3 L1882.0 934.7 L1883.0 934.9 L1884.0 934.9 L1885.0 934.9 L1886.0 935.2 L1887.0 935.6 L1888.0 935.9 L1889.0 936.0 L1890.0 935.8 L1891.0 935.9 L1892.1 936.3 L1893.1 936.4 L1894.1 936.3 L1895.1 936.3 L1896.1 936.2 L1897.2 936.3 L1898.2 936.5 L1899.2 936.3 L1900.2 936.3 L1901.2 936.4 L1902.3 936.3 L1903.3 936.5 L1904.3 936.6 L1905.4 936.7 L1906.4 936.9 L1907.5 937.0 L1908.6 937.0 L1909.6 937.1 L1910.7 936.9 L1911.8 937.1 L1912.9 936.9 L1913.9 937.3 L1915.0 937.1 L1916.1 937.2 L1917.1 937.1 L1918.2 937.0 L1919.2 936.9 L1920.3 936.6 L1921.3 936.4 L1922.4 936.4 L1923.4 936.4 L1924.5 936.0 L1925.5 936.0 L1926.5 935.6 L1927.6 935.3 L1928.6 934.9 L1929.6 934.8 L1930.7 935.0 L1931.6 934.2 L1932.6 933.9 L1933.6 933.8 L1934.5 933.1 L1935.5 932.9 L1936.5 932.9 L1937.4 932.2 L1938.4 931.9 L1939.4 931.8 L1940.3 931.4 L1941.3 930.5 L1942.2 930.2 L1943.2 929.8 L1944.1 929.4 L1945.1 928.9 L1946.0 928.5 L1946.9 928.1 L1947.8 927.6 L1948.8 927.3 L1949.7 926.8 L1950.6 926.4 L1951.5 926.4 L1952.5 926.0 L1953.4 925.4 L1954.3 924.6 L1955.2 924.2 L1956.2 924.1 L1957.1 923.5 L1958.1 923.2 L1959.1 922.8 L1960.1 922.4 L1961.1 922.2 L1962.1 922.0 L1963.1 921.3 L1964.1 921.0 L1965.1 920.7 L1966.1 920.1 L1967.1 919.6 L1968.1 919.7 L1969.1 919.1 L1970.1 918.9 L1971.1 918.8 L1972.2 918.8 L1973.3 918.8 L1974.3 918.4 L1975.4 917.6 L1976.5 916.9 L1977.6 917.2 L1978.6 916.8 L1979.7 916.7 L1980.8 916.5 L1981.8 916.4 L1982.8 916.9 L1983.8 916.4 L1984.8 916.6 L1985.8 916.5 L1986.9 916.4 L1987.9 916.5 L1988.9 916.0 L1989.9 916.0 L1990.9 915.7 L1991.9 915.8 L1992.9 915.8 L1993.9 915.1 L1994.8 914.8 L1995.8 914.8 L1996.8 914.3 L1997.8 913.8 L1998.8 913.2 L1999.7 913.5 L2000.7 913.3 L2001.8 912.4 L2002.8 912.5 L2003.9 912.3 L2004.9 911.9 L2006.0 911.5 L2007.1 911.3 L2008.2 911.2 L2009.2 910.9 L2010.3 911.0 L2011.4 911.2 L2012.4 910.9 L2013.5 911.6 L2014.5 911.6 L2015.5 912.1 L2016.6 912.5 L2017.6 912.7 L2018.6 912.6 L2019.6 913.5 L2020.6 913.6 L2021.6 914.4 L2022.5 915.0 L2023.4 914.9 L2024.4 915.8 L2025.3 916.5 L2026.2 917.1 L2027.2 917.4 L2028.1 918.0 L2029.0 918.8 L2030.0 919.1 L2030.9 919.6 L2031.8 920.0 L2032.7 919.9 L2033.7 920.3 L2034.6 920.6 L2035.5 920.9 L2036.4 921.4 L2037.3 921.9 L2038.3 922.7 L2039.2 923.4 L2040.1 923.3 L2041.0 923.4 L2042.0 923.9 L2042.9 924.7 L2043.8 925.0 L2044.8 925.2 L2045.7 925.8 L2046.6 926.5 L2047.5 926.9 L2048.4 927.4 L2049.4 927.6 L2050.4 927.9 L2051.3 927.7 L2052.3 928.3 L2053.4 928.6 L2054.4 928.6 L2055.4 928.9 L2056.4 929.4 L2057.4 929.8 L2058.4 929.9 L2059.5 930.2 L2060.5 930.3 L2061.5 930.1 L2062.5 930.7 L2063.6 930.6 L2064.6 930.7 L2065.7 930.4 L2066.7 930.6 L2067.8 930.8 L2068.8 930.9 L2069.8 931.0 L2070.9 931.0 L2071.9 930.6 L2072.9 930.7 L2073.9 930.6 L2074.9 930.2 L2075.4 929.8 L2075.9 929.6" stroke="#ff0000" stroke-width="2.70"/>
<path d="M1581.6 917.3 L1582.1 916.9 L1582.7 916.8 L1583.5 915.6 L1584.3 914.6 L1585.0 912.4 L1585.5 910.9 L1585.9 911.1 L1586.3 908.9 L1586.6 909.4 L1587.0 908.1 L1587.4 907.1 L1587.8 905.9 L1588.2 906.0 L1588.6 906.1 L1589.0 907.1 L1589.4 908.2 L1589.8 908.9 L1590.2 910.1 L1590.7 911.8 L1591.3 912.4 L1591.9 913.6 L1592.7 914.0 L1593.5 913.3 L1594.4 915.5 L1595.2 916.0 L1596.1 917.3 L1596.9 917.8 L1597.8 916.8 L1598.7 917.9 L1599.7 917.9 L1600.8 916.5 L1601.9 916.8 L1603.0 916.5 L1604.0 917.8 L1605.1 917.9 L1606.2 915.7 L1607.3 915.9 L1608.3 916.5 L1609.2 915.8 L1610.1 914.5 L1611.0 915.3 L1611.8 912.9 L1612.7 914.4 L1613.6 914.5 L1614.5 913.6 L1615.4 914.0 L1616.4 911.5 L1617.4 911.5 L1618.4 912.2 L1619.3 912.3 L1620.1 912.8 L1620.9 913.7 L1621.6 914.1 L1622.3 915.8 L1623.0 917.6 L1623.7 918.0 L1624.4 917.6 L1625.1 918.0 L1625.8 919.0 L1626.5 920.2 L1627.3 921.3 L1628.0 921.0 L1628.8 923.6 L1629.6 922.5 L1630.3 923.8 L1631.1 925.0 L1631.9 925.6 L1632.7 926.1 L1633.6 925.6 L1634.6 926.8 L1635.6 926.6 L1636.8 925.4 L1637.7 925.5 L1638.6 925.6 L1639.3 924.1 L1639.9 923.6 L1640.4 921.8 L1640.9 923.2 L1641.3 920.4 L1641.6 920.1 L1642.0 919.9 L1642.2 918.5 L1642.4 917.2 L1642.7 916.3 L1642.9 914.1 L1643.1 913.3 L1643.3 912.3 L1643.5 912.8 L1643.7 910.7 L1644.0 910.1 L1644.2 908.4 L1644.4 906.8 L1644.6 907.1 L1644.8 906.5 L1645.0 905.0 L1645.3 903.7 L1645.5 902.7 L1645.7 901.3 L1645.9 899.6 L1646.1 900.0 L1646.2 898.3 L1646.4 896.3 L1646.6 895.1 L1646.8 894.8 L1647.0 895.9 L1647.1 895.4 L1647.3 893.5 L1647.5 890.6 L1647.7 889.7 L1647.8 888.2 L1648.0 887.6 L1648.2 887.3 L1648.3 886.8 L1648.5 885.0 L1648.7 883.6 L1648.9 883.3 L1649.0 881.1 L1649.2 881.1 L1649.4 880.3 L1649.6 879.8 L1649.8 877.7 L1649.9 877.7 L1650.1 877.2 L1650.3 874.5 L1650.4 873.6 L1650.6 871.3 L1650.8 871.7 L1650.9 872.7 L1651.1 871.0 L1651.3 869.4 L1651.4 867.6 L1651.6 867.4 L1651.8 866.6 L1651.9 865.1 L1652.1 863.1 L1652.3 862.5 L1652.5 861.9 L1652.6 861.9 L1652.8 861.1 L1653.0 860.1 L1653.1 859.0 L1653.3 858.1 L1653.5 856.7 L1653.6 854.2 L1653.8 853.4 L1654.0 853.6 L1654.1 852.5 L1654.3 851.1 L1654.5 850.7 L1654.7 849.4 L1654.9 848.4 L1655.1 847.6 L1655.3 847.0 L1655.5 846.0 L1655.7 844.1 L1655.9 842.8 L1656.1 840.9 L1656.3 840.5 L1656.5 839.3 L1656.7 838.6 L1656.9 838.9 L1657.1 837.2 L1657.3 836.8 L1657.5 835.4 L1657.7 834.6 L1657.9 832.9 L1658.1 831.7 L1658.3 831.8 L1658.5 830.9 L1658.7 830.5 L1658.9 829.2 L1659.1 825.8 L1659.3 825.2 L1659.5 825.6 L1659.7 825.3 L1659.9 824.0 L1660.1 822.1 L1660.3 820.3 L1660.5 820.3 L1660.8 820.0 L1661.0 819.1 L1661.2 819.0 L1661.4 816.0 L1661.6 815.3 L1661.8 814.2 L1662.1 812.6 L1662.3 810.9 L1662.5 810.4 L1662.7 810.4 L1662.9 808.9 L1663.1 807.4 L1663.4 807.4 L1663.6 805.8 L1663.8 805.7 L1664.0 803.4 L1664.2 801.8 L1664.5 802.3 L1664.7 802.1 L1664.9 799.7 L1665.2 798.8 L1665.4 798.3 L1665.6 796.0 L1665.9 794.8 L1666.1 794.1 L1666.3 793.2 L1666.6 792.0 L1666.8 790.6 L1667.0 789.5 L1667.3 790.1 L1667.5 788.1 L1667.7 785.8 L1668.0 788.0 L1668.3 786.5 L1668.6 785.1 L1669.0 783.5 L1669.3 783.1 L1669.7 782.6 L1670.1 780.4 L1670.5 779.0 L1670.9 777.2 L1671.3 777.9 L1671.6 775.8 L1672.0 775.3 L1672.4 774.1 L1672.8 772.1 L1673.1 772.3 L1673.5 771.8 L1673.9 769.3 L1674.3 769.4 L1674.6 769.3 L1675.0 767.3 L1675.4 767.2 L1675.8 766.7 L1676.2 765.8 L1676.7 763.1 L1677.3 762.6 L1677.9 761.9 L1678.6 760.4 L1679.3 759.9 L1680.1 758.5 L1681.0 759.3 L1682.0 758.2 L1683.0 756.6 L1684.0 758.2 L1685.0 757.5 L1686.0 758.7 L1686.8 760.0 L1687.7 759.6 L1688.6 762.6 L1689.5 761.4 L1690.5 762.0 L1691.4 763.4 L1692.2 761.6 L1692.9 762.5 L1693.6 764.3 L1694.1 765.0 L1694.6 766.2 L1695.1 767.0 L1695.5 767.9 L1696.0 770.4 L1696.5 770.5 L1697.0 770.4 L1697.5 772.3 L1698.0 773.2 L1698.5 773.5 L1699.1 773.8 L1699.6 773.7 L1700.2 773.9 L1700.8 776.0 L1701.3 777.4 L1701.9 778.5 L1702.4 779.7 L1703.0 783.0 L1703.5 781.9 L1704.1 782.9 L1704.6 783.9 L1705.1 784.5 L1705.7 784.9 L1706.2 786.5 L1706.7 787.1 L1707.2 787.6 L1707.8 790.0 L1708.3 789.9 L1708.8 790.2 L1709.4 790.3 L1710.0 791.2 L1710.6 792.8 L1711.2 792.5 L1711.8 793.8 L1712.5 794.6 L1713.1 794.6 L1713.8 797.1 L1714.4 797.9 L1715.1 799.3 L1715.7 799.7 L1716.4 800.9 L1717.0 801.5 L1717.7 802.7 L1718.3 803.9 L1718.9 802.8 L1719.6 804.7 L1720.2 805.7 L1720.9 806.3 L1721.5 805.9 L1722.2 807.1 L1722.8 808.9 L1723.5 809.9 L1724.1 808.7 L1724.8 809.6 L1725.4 812.2 L1726.1 812.2 L1726.7 812.7 L1727.4 814.7 L1728.1 814.6 L1728.8 815.2 L1729.5 815.4 L1730.2 816.0 L1731.0 817.1 L1731.7 818.9 L1732.4 819.3 L1733.2 821.3 L1733.9 821.2 L1734.7 820.9 L1735.4 822.0 L1736.1 822.3 L1736.9 821.7 L1737.6 821.9 L1738.4 822.9 L1739.1 825.6 L1739.9 825.4 L1740.6 826.3 L1741.4 827.5 L1742.1 827.2 L1742.9 828.6 L1743.6 827.7 L1744.4 827.4 L1745.1 831.0 L1745.9 831.6 L1746.6 831.1 L1747.4 831.4 L1748.2 832.7 L1749.0 834.3 L1749.8 835.4 L1750.7 836.4 L1751.5 835.1 L1752.4 835.7 L1753.3 835.6 L1754.2 838.7 L1755.1 837.9 L1756.0 839.5 L1756.8 839.4 L1757.7 840.8 L1758.6 841.2 L1759.5 842.1 L1760.5 841.2 L1761.4 842.3 L1762.3 843.2 L1763.2 843.1 L1764.2 843.7 L1765.1 843.9 L1766.0 843.6 L1766.9 845.8 L1767.8 845.3 L1768.8 845.4 L1769.7 846.4 L1770.6 844.8 L1771.5 845.3 L1772.4 847.1 L1773.3 847.6 L1774.2 848.9 L1775.0 849.8 L1775.9 849.8 L1776.8 850.4 L1777.7 851.7 L1778.6 851.2 L1779.6 850.6 L1780.5 851.3 L1781.5 851.1 L1782.5 852.5 L1783.5 854.3 L1784.5 853.9 L1785.6 855.1 L1786.6 853.7 L1787.6 853.1 L1788.6 853.2 L1789.6 854.1 L1790.5 854.5 L1791.5 853.4 L1792.5 854.5 L1793.4 855.3 L1794.3 853.5 L1795.2 854.2 L1796.2 854.2 L1797.1 854.8 L1798.0 855.5 L1798.9 856.1 L1799.8 857.5 L1800.8 859.1 L1801.8 858.3 L1802.8 858.3 L1803.9 858.3 L1805.0 858.8 L1806.1 858.2 L1807.1 858.2 L1808.2 859.4 L1809.3 859.4 L1810.4 858.9 L1811.5 858.9 L1812.6 859.0 L1813.7 859.0 L1814.7 858.3 L1815.8 858.6 L1816.9 857.8 L1818.0 857.9 L1819.0 857.8 L1820.1 857.7 L1821.2 857.7 L1822.2 857.7 L1823.2 858.0 L1824.2 858.2 L1825.2 857.4 L1826.2 857.3 L1827.3 857.2 L1828.3 857.3 L1829.3 856.8 L1830.3 855.5 L1831.3 856.1 L1832.3 855.3 L1833.3 855.1 L1834.3 855.5 L1835.4 854.8 L1836.4 856.0 L1837.4 855.2 L1838.4 855.0 L1839.4 853.8 L1840.5 854.9 L1841.5 854.2 L1842.5 853.9 L1843.5 853.8 L1844.5 853.3 L1845.5 852.0 L1846.6 853.1 L1847.6 852.7 L1848.6 854.4 L1849.6 853.6 L1850.6 852.6 L1851.5 853.2 L1852.5 853.9 L1853.5 854.9 L1854.5 852.9 L1855.5 853.7 L1856.4 854.6 L1857.4 855.5 L1858.4 854.7 L1859.5 854.6 L1860.5 855.7 L1861.5 855.1 L1862.6 855.3 L1863.6 854.1 L1864.7 855.4 L1865.7 855.8 L1866.7 854.2 L1867.8 854.5 L1868.8 853.9 L1869.9 854.2 L1870.9 853.1 L1871.9 852.3 L1873.0 852.0 L1874.0 851.4 L1875.1 851.7 L1876.1 851.3 L1877.2 851.7 L1878.2 851.5 L1879.2 851.0 L1880.3 852.0 L1881.3 852.5 L1882.3 850.7 L1883.3 850.6 L1884.3 850.1 L1885.3 848.9 L1886.2 850.0 L1887.1 848.1 L1888.1 847.6 L1889.0 848.9 L1889.9 847.7 L1890.8 847.0 L1891.7 846.6 L1892.5 844.3 L1893.3 844.0 L1894.1 843.0 L1894.9 844.2 L1895.6 843.0 L1896.4 842.2 L1897.2 841.2 L1898.0 840.7 L1898.8 839.4 L1899.7 837.9 L1900.6 836.6 L1901.6 837.9 L1902.5 837.4 L1903.5 836.9 L1904.5 836.1 L1905.4 836.2 L1906.4 835.7 L1907.4 835.7 L1908.3 834.6 L1909.3 835.3 L1910.2 834.7 L1911.1 833.5 L1912.0 831.7 L1912.8 831.2 L1913.6 830.0 L1914.4 830.1 L1915.2 829.0 L1916.0 829.5 L1916.8 828.7 L1917.6 827.5 L1918.4 827.5 L1919.2 826.5 L1920.0 825.5 L1920.8 824.5 L1921.6 823.3 L1922.3 822.9 L1923.1 823.2 L1923.8 823.2 L1924.5 822.2 L1925.2 819.2 L1925.9 818.2 L1926.5 818.0 L1927.2 815.5 L1927.9 816.1 L1928.6 815.8 L1929.3 816.2 L1930.0 814.3 L1930.6 813.7 L1931.2 813.8 L1931.8 813.0 L1932.4 811.6 L1932.9 809.4 L1933.5 808.9 L1934.1 808.8 L1934.6 806.8 L1935.2 807.5 L1935.7 806.0 L1936.3 804.7 L1936.8 803.8 L1937.3 804.2 L1937.8 802.8 L1938.3 801.9 L1938.8 801.2 L1939.3 800.0 L1939.8 799.0 L1940.2 797.5 L1940.7 796.7 L1941.2 796.8 L1941.7 796.1 L1942.2 795.0 L1942.7 793.7 L1943.2 793.2 L1943.7 792.3 L1944.3 791.3 L1944.8 789.9 L1945.4 790.4 L1945.9 790.3 L1946.4 788.8 L1947.0 787.4 L1947.5 785.8 L1948.0 784.5 L1948.6 783.9 L1949.1 783.3 L1949.7 782.5 L1950.2 781.3 L1950.8 780.8 L1951.4 780.1 L1952.0 778.7 L1952.6 778.5 L1953.2 777.7 L1953.8 776.8 L1954.3 775.8 L1954.9 774.4 L1955.5 773.0 L1956.1 772.4 L1956.7 773.8 L1957.3 771.3 L1957.9 770.1 L1958.6 770.6 L1959.2 769.5 L1959.9 768.8 L1960.6 768.5 L1961.3 769.0 L1962.0 767.7 L1962.7 766.0 L1963.4 764.0 L1964.1 763.0 L1964.8 762.8 L1965.5 762.5 L1966.2 761.9 L1967.0 760.3 L1967.9 760.2 L1968.7 759.7 L1969.7 757.7 L1970.6 759.1 L1971.5 758.0 L1972.5 757.1 L1973.6 756.7 L1974.6 757.1 L1975.8 756.0 L1976.9 755.6 L1978.0 755.2 L1979.1 755.8 L1980.2 757.7 L1981.4 757.7 L1982.3 759.1 L1983.1 759.3 L1983.8 759.3 L1984.3 759.6 L1984.6 760.1 L1985.0 761.9 L1985.3 764.8 L1985.7 764.6 L1986.0 764.1 L1986.3 763.9 L1986.7 765.4 L1987.0 767.7 L1987.4 767.6 L1987.7 770.1 L1988.1 771.3 L1988.5 773.1 L1988.9 775.6 L1989.3 774.8 L1989.7 774.1 L1990.1 776.3 L1990.5 778.7 L1990.9 780.4 L1991.3 781.2 L1991.7 782.3 L1992.1 782.6 L1992.5 784.2 L1992.9 784.6 L1993.2 784.8 L1993.5 785.3 L1993.8 787.3 L1994.0 788.0 L1994.2 788.2 L1994.5 788.8 L1994.7 791.3 L1994.9 791.1 L1995.2 791.5 L1995.4 794.0 L1995.6 794.4 L1995.9 794.9 L1996.1 797.6 L1996.3 798.0 L1996.6 800.0 L1996.8 801.0 L1997.0 801.1 L1997.3 803.8 L1997.5 804.2 L1997.7 804.6 L1998.0 805.2 L1998.2 806.0 L1998.4 806.6 L1998.6 808.5 L1998.9 808.3 L1999.1 810.8 L1999.3 810.2 L1999.6 811.2 L1999.8 812.7 L2000.0 813.7 L2000.2 813.7 L2000.5 815.0 L2000.7 817.9 L2000.9 818.3 L2001.2 818.6 L2001.4 819.1 L2001.6 820.3 L2001.9 820.4 L2002.1 821.2 L2002.3 822.8 L2002.5 825.3 L2002.8 826.3 L2003.0 826.3 L2003.2 827.0 L2003.4 828.7 L2003.7 828.4 L2003.9 829.5 L2004.1 830.4 L2004.3 830.5 L2004.6 833.7 L2004.8 835.4 L2005.0 837.8 L2005.2 836.6 L2005.5 837.3 L2005.7 837.4 L2005.9 838.1 L2006.1 838.4 L2006.4 839.9 L2006.6 842.1 L2006.8 842.7 L2007.0 844.1 L2007.3 846.1 L2007.5 847.5 L2007.7 848.1 L2007.9 849.3 L2008.2 850.7 L2008.4 850.7 L2008.6 850.6 L2008.8 850.1 L2009.0 852.9 L2009.3 853.6 L2009.5 854.1 L2009.7 854.2 L2009.9 856.9 L2010.2 859.0 L2010.4 859.9 L2010.6 860.2 L2010.8 860.0 L2011.1 860.5 L2011.3 861.9 L2011.5 864.1 L2011.7 866.1 L2012.0 866.7 L2012.2 867.0 L2012.4 868.4 L2012.6 869.2 L2012.9 870.3 L2013.1 872.4 L2013.3 873.0 L2013.5 873.0 L2013.8 873.3 L2014.0 874.7 L2014.2 876.0 L2014.4 878.6 L2014.7 879.5 L2014.9 879.6 L2015.1 881.3 L2015.3 881.7 L2015.6 881.6 L2015.8 883.3 L2016.0 884.4 L2016.2 884.6 L2016.5 886.0 L2016.7 886.5 L2016.9 887.2 L2017.2 890.3 L2017.4 892.0 L2017.6 892.0 L2017.8 891.2 L2018.1 893.9 L2018.3 895.7 L2018.6 896.5 L2018.9 896.4 L2019.1 897.7 L2019.4 899.2 L2019.7 901.6 L2020.0 901.6 L2020.3 901.9 L2020.5 902.7 L2020.8 904.0 L2021.1 903.7 L2021.4 905.6 L2021.7 905.9 L2021.9 907.1 L2022.3 908.9 L2022.6 911.4 L2023.0 911.3 L2023.4 913.6 L2023.9 913.0 L2024.4 915.3 L2024.8 915.1 L2025.3 915.4 L2025.8 917.0 L2026.3 918.0 L2027.0 918.0 L2027.7 918.9 L2028.6 919.3 L2029.5 920.3 L2030.4 919.0 L2031.4 919.8 L2032.4 921.2 L2033.3 922.2 L2034.3 921.8 L2035.4 923.5 L2036.3 923.2 L2037.3 923.8 L2038.3 923.3 L2039.2 922.0 L2040.1 920.3 L2041.1 920.6 L2042.0 920.6 L2042.9 920.9 L2043.8 919.0 L2044.8 918.6 L2045.7 917.0 L2046.6 916.3 L2047.5 915.5 L2048.5 915.1 L2049.4 915.2 L2050.4 914.2 L2051.4 914.0 L2052.4 915.2 L2053.4 915.3 L2054.5 915.5 L2055.6 913.8 L2056.6 914.5 L2057.7 914.9 L2058.7 913.6 L2059.8 916.5 L2060.9 914.5 L2062.0 912.4 L2063.1 913.1 L2064.1 912.5 L2065.0 913.1 L2065.9 913.7 L2066.8 913.1 L2067.7 915.5 L2068.6 916.1 L2069.4 915.9 L2070.3 915.7 L2071.2 916.0 L2072.1 917.1 L2072.9 918.7 L2073.8 919.3 L2074.7 919.1 L2075.6 920.1 L2076.4 921.1 L2077.3 922.1 L2078.2 922.4 L2079.1 923.0 L2080.0 923.7 L2081.0 925.0 L2081.5 924.1 L2082.0 925.1" stroke="#0000ff" stroke-width="2.80"/>
</g>
<rect x="1906.9" y="590.9" width="160.8" height="82.7" fill="#fff" stroke="#3a3a3a" stroke-width="1.3" rx="1.5"/>
<path d="M1913.7 608.5 H1957.9" stroke="#0000ff" stroke-width="2.8" stroke-linecap="round"/>
<text x="1968.7" y="615.7" font-size="19.7" text-anchor="start" font-weight="bold" fill="#000" letter-spacing="0.15">4 degree</text>
<path d="M1913.7 632.4 H1957.9" stroke="#ff0000" stroke-width="2.8" stroke-linecap="round"/>
<text x="1968.7" y="639.6" font-size="19.7" text-anchor="start" font-weight="bold" fill="#000" letter-spacing="0.15">25 degree</text>
<path d="M1913.7 656.3 H1957.9" stroke="#000000" stroke-width="2.8" stroke-linecap="round"/>
<text x="1968.7" y="663.5" font-size="19.7" text-anchor="start" font-weight="bold" fill="#000" letter-spacing="0.15">37 degree</text>
<text transform="translate(1570.4,773.0) rotate(-90)" font-size="25.6" text-anchor="middle" font-weight="bold">Cataract intensity distribution (a. u.)</text>
<path d="M1585.5 992.3 H1599.9" stroke="#000" stroke-width="1.6"/>
<text x="1602.0" y="1000.7" font-size="23.2" text-anchor="start" font-weight="bold" fill="#000" >1</text>
<text x="1833.6" y="1000.7" font-size="23.2" text-anchor="middle" font-weight="bold" fill="#000" >0</text>
<text x="2075.2" y="1000.7" font-size="23.2" text-anchor="middle" font-weight="bold" fill="#000" >1</text>
<text x="1629.5" y="1022.2" font-size="24.7" text-anchor="middle" font-weight="bold" fill="#000" letter-spacing="0.5">Periphery</text>
<text x="1834.1" y="1022.5" font-size="24.7" text-anchor="middle" font-weight="bold" fill="#000" letter-spacing="0.3">Center</text>
<text x="2033.9" y="1022.5" font-size="24.7" text-anchor="middle" font-weight="bold" fill="#000" letter-spacing="0.5">Periphery</text>
<rect x="1581.3" y="1049.0" width="504.7" height="415.8" fill="#fff" stroke="#1c1c1c" stroke-width="1.9" rx="1.2"/>
<g clip-path="url(#cpF)" fill="none" stroke-linejoin="round" stroke-linecap="round">
<path d="M1582.0 1395.7 L1582.3 1395.5 L1582.6 1396.1 L1583.1 1398.3 L1583.7 1398.2 L1584.2 1398.0 L1584.8 1398.0 L1585.3 1399.1 L1585.8 1399.2 L1586.3 1401.4 L1586.7 1402.5 L1587.1 1402.8 L1587.4 1403.0 L1587.7 1404.4 L1588.0 1405.5 L1588.4 1406.7 L1588.7 1407.3 L1589.0 1409.2 L1589.3 1411.2 L1589.7 1410.9 L1590.0 1411.7 L1590.3 1412.4 L1590.6 1414.1 L1591.1 1414.7 L1591.7 1415.3 L1592.4 1416.4 L1593.3 1415.8 L1594.3 1416.1 L1595.3 1416.7 L1596.4 1416.4 L1597.4 1417.4 L1598.4 1417.3 L1599.4 1418.2 L1600.4 1420.2 L1601.4 1420.3 L1602.3 1419.0 L1603.3 1419.8 L1604.3 1418.5 L1605.3 1418.7 L1606.3 1417.1 L1607.2 1417.4 L1608.2 1416.2 L1609.2 1417.7 L1610.1 1418.4 L1611.0 1417.5 L1611.9 1418.8 L1612.8 1419.4 L1613.7 1418.9 L1614.6 1419.3 L1615.5 1420.7 L1616.4 1421.4 L1617.4 1420.0 L1618.4 1421.8 L1619.5 1420.9 L1620.6 1420.7 L1621.7 1419.5 L1622.7 1420.3 L1623.8 1421.3 L1624.9 1421.7 L1626.0 1420.7 L1626.9 1419.8 L1627.9 1419.7 L1628.7 1420.9 L1629.5 1422.2 L1630.4 1422.9 L1631.2 1423.1 L1632.1 1423.4 L1633.1 1423.6 L1634.0 1423.6 L1635.0 1424.5 L1636.0 1425.3 L1637.1 1424.6 L1638.1 1423.8 L1639.1 1423.6 L1640.1 1424.0 L1641.1 1424.2 L1642.1 1424.7 L1643.0 1426.0 L1644.0 1426.5 L1645.0 1425.6 L1646.0 1427.9 L1647.0 1427.9 L1647.9 1427.9 L1648.9 1428.3 L1649.9 1428.2 L1650.8 1428.6 L1651.7 1428.8 L1652.6 1429.8 L1653.5 1429.7 L1654.4 1430.8 L1655.3 1430.8 L1656.2 1432.0 L1657.1 1431.4 L1658.1 1432.5 L1659.0 1432.3 L1660.0 1433.5 L1661.1 1433.4 L1662.1 1434.4 L1663.1 1434.9 L1664.2 1434.9 L1665.2 1434.3 L1666.2 1434.7 L1667.3 1434.7 L1668.4 1436.1 L1669.5 1435.2 L1670.5 1436.1 L1671.6 1436.5 L1672.7 1438.1 L1673.7 1438.5 L1674.7 1439.1 L1675.7 1437.8 L1676.8 1438.1 L1677.8 1437.0 L1678.8 1438.9 L1679.8 1437.6 L1680.8 1436.0 L1681.8 1437.5 L1682.8 1437.1 L1683.9 1436.7 L1684.9 1436.1 L1685.9 1436.0 L1687.0 1435.0 L1688.0 1434.4 L1689.0 1435.5 L1690.1 1434.2 L1691.2 1434.5 L1692.3 1434.5 L1693.4 1435.4 L1694.4 1435.4 L1695.5 1435.2 L1696.6 1436.2 L1697.7 1435.9 L1698.8 1436.2 L1699.8 1436.4 L1700.8 1436.4 L1701.8 1436.9 L1702.8 1435.7 L1703.9 1438.1 L1704.9 1438.3 L1705.9 1438.1 L1706.8 1439.6 L1707.8 1438.5 L1708.7 1438.2 L1709.6 1437.2 L1710.5 1436.7 L1711.4 1436.7 L1712.3 1436.0 L1713.2 1434.5 L1714.1 1434.4 L1715.0 1436.0 L1716.0 1434.6 L1717.0 1432.9 L1717.9 1431.8 L1718.9 1433.0 L1719.9 1431.4 L1720.9 1431.3 L1721.9 1431.6 L1722.8 1431.1 L1723.8 1431.4 L1724.9 1430.9 L1725.9 1431.0 L1727.0 1430.1 L1728.1 1429.3 L1729.2 1430.1 L1730.2 1429.0 L1731.3 1429.0 L1732.4 1429.4 L1733.5 1428.4 L1734.5 1428.5 L1735.6 1428.0 L1736.6 1427.9 L1737.5 1426.8 L1738.5 1426.6 L1739.5 1426.6 L1740.5 1426.6 L1741.5 1425.8 L1742.4 1425.6 L1743.4 1424.5 L1744.5 1426.5 L1745.5 1425.8 L1746.6 1425.4 L1747.6 1425.2 L1748.7 1426.2 L1749.8 1427.4 L1750.9 1425.8 L1751.9 1426.3 L1753.0 1426.3 L1754.0 1426.6 L1755.1 1427.2 L1756.1 1427.4 L1757.0 1427.9 L1758.0 1428.2 L1759.0 1427.1 L1760.0 1428.4 L1761.0 1429.4 L1761.9 1429.1 L1762.9 1428.8 L1763.9 1429.5 L1764.9 1428.6 L1765.9 1428.3 L1766.9 1427.6 L1768.0 1426.9 L1769.0 1426.8 L1770.0 1425.7 L1771.0 1426.4 L1772.0 1426.5 L1773.0 1425.0 L1774.1 1423.7 L1775.1 1425.2 L1776.1 1426.1 L1777.2 1426.8 L1778.2 1426.5 L1779.3 1426.1 L1780.3 1426.1 L1781.3 1427.7 L1782.4 1427.5 L1783.4 1427.7 L1784.4 1427.2 L1785.4 1427.6 L1786.4 1426.8 L1787.4 1427.2 L1788.4 1426.3 L1789.4 1427.4 L1790.5 1427.8 L1791.5 1427.1 L1792.5 1426.9 L1793.5 1426.8 L1794.5 1427.4 L1795.5 1425.9 L1796.5 1427.1 L1797.4 1428.3 L1798.4 1427.8 L1799.3 1427.4 L1800.2 1426.8 L1801.1 1428.8 L1802.1 1428.5 L1803.0 1429.7 L1804.0 1429.8 L1805.0 1429.6 L1806.0 1430.4 L1807.0 1429.5 L1808.0 1429.6 L1809.0 1429.0 L1810.0 1428.6 L1811.0 1427.6 L1812.0 1428.7 L1813.0 1429.0 L1814.0 1428.7 L1815.0 1427.8 L1816.0 1428.3 L1817.0 1428.7 L1818.0 1429.2 L1819.0 1429.1 L1820.0 1427.0 L1821.0 1427.4 L1822.0 1427.1 L1823.0 1426.8 L1824.0 1426.0 L1825.0 1427.1 L1826.0 1427.4 L1827.0 1426.0 L1828.0 1425.8 L1828.9 1427.3 L1829.8 1427.4 L1830.6 1427.4 L1831.5 1429.3 L1832.3 1429.2 L1833.1 1430.1 L1833.9 1429.6 L1834.8 1430.8 L1835.6 1431.2 L1836.6 1432.8 L1837.5 1431.8 L1838.6 1431.8 L1839.7 1431.9 L1840.8 1433.9 L1841.8 1433.5 L1842.9 1433.1 L1844.0 1432.2 L1845.1 1432.8 L1846.2 1432.4 L1847.2 1433.6 L1848.2 1432.3 L1849.2 1433.0 L1850.2 1430.9 L1851.3 1430.5 L1852.3 1431.0 L1853.3 1430.0 L1854.3 1430.8 L1855.4 1430.5 L1856.4 1430.3 L1857.5 1430.1 L1858.5 1430.3 L1859.5 1430.1 L1860.6 1430.7 L1861.7 1429.3 L1862.7 1429.5 L1863.8 1429.8 L1864.8 1430.3 L1865.8 1429.9 L1866.9 1428.1 L1867.9 1429.3 L1869.0 1428.9 L1870.0 1430.1 L1870.9 1429.9 L1871.9 1430.2 L1872.9 1430.9 L1873.8 1431.9 L1874.8 1431.6 L1875.8 1433.0 L1876.8 1431.9 L1877.7 1433.4 L1878.7 1433.1 L1879.6 1432.9 L1880.6 1432.2 L1881.5 1433.6 L1882.5 1433.4 L1883.4 1432.6 L1884.4 1431.7 L1885.4 1431.8 L1886.3 1432.1 L1887.4 1430.5 L1888.4 1431.6 L1889.4 1433.0 L1890.4 1433.1 L1891.5 1434.5 L1892.5 1434.9 L1893.5 1434.6 L1894.5 1435.5 L1895.6 1435.7 L1896.6 1434.7 L1897.6 1434.6 L1898.6 1435.0 L1899.6 1435.1 L1900.6 1436.7 L1901.6 1435.7 L1902.6 1435.9 L1903.7 1437.0 L1904.7 1435.2 L1905.7 1435.7 L1906.7 1435.8 L1907.7 1435.9 L1908.7 1436.8 L1909.7 1437.5 L1910.7 1437.3 L1911.7 1437.3 L1912.8 1437.0 L1913.8 1437.8 L1914.8 1437.1 L1915.8 1436.6 L1916.8 1437.7 L1917.8 1438.1 L1918.9 1438.1 L1919.9 1437.8 L1920.9 1437.8 L1921.9 1438.2 L1922.9 1438.0 L1924.0 1440.0 L1925.0 1437.6 L1926.0 1438.5 L1927.0 1439.3 L1928.0 1439.1 L1929.0 1438.1 L1930.0 1438.1 L1931.1 1438.2 L1932.1 1437.8 L1933.1 1437.4 L1934.1 1437.1 L1935.1 1438.5 L1936.1 1438.7 L1937.1 1438.0 L1938.2 1439.5 L1939.2 1439.1 L1940.2 1438.1 L1941.2 1438.7 L1942.2 1438.1 L1943.1 1437.5 L1944.1 1438.5 L1945.0 1438.6 L1946.0 1438.3 L1946.9 1439.8 L1947.9 1439.8 L1948.9 1440.3 L1949.9 1440.1 L1950.9 1440.1 L1951.9 1440.4 L1952.9 1441.2 L1954.0 1442.4 L1955.0 1441.8 L1956.1 1442.6 L1957.1 1441.3 L1958.1 1440.5 L1959.2 1440.0 L1960.2 1440.6 L1961.2 1440.6 L1962.3 1441.4 L1963.3 1440.7 L1964.3 1439.8 L1965.4 1440.7 L1966.4 1441.1 L1967.5 1439.5 L1968.5 1439.9 L1969.5 1441.1 L1970.6 1441.4 L1971.6 1440.5 L1972.6 1439.2 L1973.6 1439.8 L1974.6 1439.7 L1975.7 1439.4 L1976.7 1438.0 L1977.7 1438.7 L1978.7 1439.1 L1979.7 1437.7 L1980.7 1438.8 L1981.7 1438.9 L1982.7 1438.7 L1983.7 1438.9 L1984.7 1439.5 L1985.7 1439.7 L1986.7 1437.4 L1987.7 1437.4 L1988.7 1438.5 L1989.7 1440.1 L1990.7 1438.7 L1991.7 1438.5 L1992.7 1438.5 L1993.7 1437.9 L1994.7 1438.4 L1995.8 1438.9 L1996.8 1438.6 L1997.8 1438.7 L1998.8 1437.9 L1999.8 1438.5 L2000.8 1439.3 L2001.9 1439.7 L2002.9 1439.2 L2003.9 1438.6 L2004.9 1438.9 L2005.9 1439.8 L2007.0 1439.3 L2008.0 1438.8 L2009.0 1438.2 L2010.0 1437.5 L2011.0 1438.6 L2012.1 1437.4 L2013.1 1437.5 L2014.1 1436.8 L2015.2 1437.3 L2016.2 1437.1 L2017.2 1436.5 L2018.3 1435.8 L2019.4 1436.2 L2020.4 1436.8 L2021.5 1437.4 L2022.6 1436.3 L2023.7 1436.9 L2024.7 1436.5 L2025.8 1436.6 L2026.8 1437.4 L2027.9 1437.8 L2028.9 1437.6 L2029.8 1437.5 L2030.8 1437.2 L2031.8 1437.1 L2032.8 1436.9 L2033.8 1435.6 L2034.7 1436.0 L2035.7 1434.6 L2036.7 1433.3 L2037.7 1434.1 L2038.7 1433.9 L2039.7 1434.1 L2040.7 1434.3 L2041.7 1433.5 L2042.7 1432.6 L2043.7 1433.5 L2044.7 1432.8 L2045.7 1432.6 L2046.7 1432.8 L2047.7 1434.1 L2048.7 1432.0 L2049.7 1430.5 L2050.7 1431.4 L2051.7 1431.4 L2052.7 1430.9 L2053.7 1429.9 L2054.7 1430.7 L2055.7 1430.3 L2056.7 1430.8 L2057.7 1430.3 L2058.7 1430.1 L2059.7 1430.9 L2060.7 1429.6 L2061.7 1430.1 L2062.7 1429.9 L2063.7 1430.1 L2064.8 1428.3 L2065.8 1426.7 L2066.8 1427.6 L2067.9 1428.7 L2068.9 1429.2 L2070.0 1428.7 L2071.0 1427.9 L2072.0 1426.6 L2073.0 1426.9 L2073.8 1425.9 L2074.6 1424.7 L2075.3 1425.1 L2075.9 1424.5 L2076.6 1422.7 L2077.2 1423.3 L2077.8 1422.6 L2078.4 1421.0 L2079.2 1420.9 L2079.9 1420.0 L2080.8 1419.8 L2081.6 1420.5 L2082.5 1420.9 L2083.4 1421.9 L2084.2 1423.4 L2084.7 1423.5 L2085.1 1423.7" stroke="#000000" stroke-width="2.20"/>
<path d="M1582.6 1381.6 L1583.2 1381.1 L1583.7 1380.2 L1584.8 1380.5 L1585.9 1380.8 L1586.7 1381.1 L1587.4 1380.3 L1588.0 1381.7 L1588.3 1382.3 L1588.4 1382.5 L1588.6 1384.2 L1588.7 1385.1 L1588.8 1386.0 L1589.0 1386.9 L1589.1 1388.1 L1589.2 1389.4 L1589.4 1391.3 L1589.5 1391.4 L1589.7 1390.7 L1589.8 1392.0 L1589.9 1394.3 L1590.1 1394.9 L1590.2 1396.4 L1590.4 1396.7 L1590.7 1397.4 L1591.0 1397.4 L1591.3 1398.5 L1591.7 1401.1 L1592.1 1401.9 L1592.5 1402.5 L1592.9 1403.7 L1593.3 1404.2 L1593.7 1405.4 L1594.1 1407.1 L1594.6 1407.5 L1595.0 1410.4 L1595.5 1409.0 L1596.0 1411.0 L1596.5 1412.1 L1597.0 1413.2 L1597.4 1414.7 L1597.9 1415.1 L1598.4 1416.6 L1599.0 1416.4 L1599.7 1416.7 L1600.5 1416.5 L1601.5 1417.2 L1602.5 1416.9 L1603.5 1417.6 L1604.5 1416.2 L1605.5 1417.0 L1606.6 1415.3 L1607.6 1415.1 L1608.6 1415.3 L1609.5 1414.5 L1610.5 1414.0 L1611.5 1413.0 L1612.5 1413.5 L1613.4 1413.4 L1614.4 1415.3 L1615.4 1415.5 L1616.4 1414.6 L1617.4 1415.5 L1618.4 1414.5 L1619.5 1413.4 L1620.6 1413.8 L1621.7 1413.0 L1622.7 1412.6 L1623.6 1412.4 L1624.4 1413.1 L1625.2 1412.1 L1625.8 1410.7 L1626.4 1410.1 L1627.0 1411.4 L1627.6 1409.7 L1628.1 1411.3 L1628.6 1411.1 L1629.1 1413.2 L1629.5 1413.7 L1630.0 1414.8 L1630.5 1415.4 L1631.0 1417.6 L1631.6 1416.8 L1632.2 1417.8 L1632.9 1417.3 L1633.6 1416.2 L1634.5 1416.2 L1635.3 1417.5 L1636.2 1417.1 L1637.0 1416.1 L1637.9 1417.1 L1638.8 1416.7 L1639.8 1417.4 L1640.7 1418.4 L1641.6 1418.4 L1642.5 1418.2 L1643.4 1419.1 L1644.3 1419.6 L1645.2 1420.9 L1646.1 1421.8 L1647.0 1421.7 L1647.9 1422.1 L1648.8 1424.7 L1649.7 1424.4 L1650.6 1423.0 L1651.6 1424.1 L1652.5 1427.2 L1653.5 1426.9 L1654.6 1426.0 L1655.6 1426.6 L1656.6 1426.5 L1657.7 1426.8 L1658.7 1425.9 L1659.7 1427.1 L1660.7 1427.1 L1661.7 1426.1 L1662.8 1426.8 L1663.8 1427.6 L1664.8 1426.6 L1665.8 1427.6 L1666.8 1427.5 L1667.8 1428.8 L1668.9 1428.1 L1669.9 1427.4 L1670.9 1429.0 L1671.9 1428.5 L1672.9 1427.5 L1674.0 1430.0 L1675.0 1430.1 L1676.0 1429.0 L1677.0 1427.2 L1678.0 1427.1 L1679.0 1428.8 L1680.0 1427.3 L1681.1 1428.0 L1682.1 1427.3 L1683.1 1428.1 L1684.1 1427.4 L1685.1 1427.7 L1686.1 1428.7 L1687.1 1429.4 L1688.2 1430.0 L1689.2 1428.1 L1690.2 1428.7 L1691.2 1429.3 L1692.2 1431.1 L1693.2 1430.2 L1694.2 1429.0 L1695.3 1428.0 L1696.3 1426.7 L1697.3 1428.9 L1698.3 1427.8 L1699.3 1427.8 L1700.3 1428.7 L1701.4 1427.8 L1702.4 1428.3 L1703.4 1426.6 L1704.4 1427.6 L1705.4 1427.4 L1706.5 1426.7 L1707.5 1426.4 L1708.5 1425.9 L1709.5 1426.9 L1710.5 1427.2 L1711.6 1426.9 L1712.6 1427.1 L1713.6 1426.4 L1714.6 1425.5 L1715.6 1424.9 L1716.7 1427.2 L1717.7 1426.3 L1718.7 1426.6 L1719.7 1425.7 L1720.7 1426.3 L1721.7 1426.5 L1722.8 1426.9 L1723.8 1426.1 L1724.8 1425.0 L1725.8 1426.6 L1726.8 1427.0 L1727.9 1426.2 L1728.9 1426.1 L1729.9 1426.0 L1730.9 1427.4 L1731.9 1427.2 L1733.0 1425.5 L1734.0 1425.4 L1735.0 1427.5 L1736.0 1425.9 L1737.0 1426.2 L1738.0 1426.4 L1739.1 1427.4 L1740.1 1427.5 L1741.1 1427.8 L1742.1 1427.7 L1743.1 1427.8 L1744.0 1428.1 L1745.0 1428.1 L1746.0 1428.5 L1747.0 1429.8 L1748.1 1430.0 L1749.1 1428.4 L1750.1 1427.6 L1751.2 1428.4 L1752.2 1428.0 L1753.3 1427.8 L1754.3 1427.9 L1755.3 1429.1 L1756.4 1428.4 L1757.4 1426.5 L1758.5 1428.0 L1759.5 1427.2 L1760.6 1426.3 L1761.6 1425.7 L1762.7 1427.1 L1763.7 1428.0 L1764.8 1427.8 L1765.8 1427.2 L1766.9 1427.3 L1767.9 1427.3 L1769.0 1428.2 L1770.0 1428.3 L1771.1 1427.7 L1772.1 1426.5 L1773.2 1426.3 L1774.1 1428.0 L1775.0 1428.1 L1775.7 1429.6 L1776.5 1430.4 L1777.2 1431.4 L1778.0 1432.0 L1778.9 1430.7 L1779.8 1429.3 L1780.8 1429.8 L1781.8 1428.4 L1782.8 1427.8 L1783.8 1427.1 L1784.7 1427.4 L1785.7 1427.2 L1786.7 1428.5 L1787.7 1428.6 L1788.8 1427.2 L1789.8 1427.8 L1790.8 1427.8 L1791.8 1427.1 L1792.9 1426.6 L1793.9 1427.1 L1794.9 1426.7 L1795.9 1427.9 L1797.0 1426.6 L1798.0 1425.9 L1799.0 1425.9 L1800.0 1427.1 L1801.1 1426.3 L1802.1 1428.4 L1803.1 1426.1 L1804.1 1427.7 L1805.2 1428.0 L1806.2 1425.4 L1807.2 1425.5 L1808.2 1426.3 L1809.3 1426.7 L1810.3 1424.2 L1811.3 1424.3 L1812.3 1423.7 L1813.4 1423.8 L1814.4 1422.0 L1815.5 1422.0 L1816.6 1422.4 L1817.6 1423.6 L1818.7 1423.4 L1819.8 1422.8 L1820.9 1424.2 L1821.9 1424.1 L1823.0 1424.5 L1824.1 1425.7 L1825.1 1424.4 L1826.2 1423.5 L1827.2 1423.6 L1828.2 1424.5 L1829.3 1423.6 L1830.3 1425.1 L1831.4 1424.7 L1832.4 1426.2 L1833.4 1426.0 L1834.5 1426.6 L1835.6 1426.9 L1836.7 1426.4 L1837.8 1426.1 L1839.0 1427.1 L1840.1 1427.2 L1841.2 1425.0 L1842.3 1425.6 L1843.3 1428.1 L1844.4 1426.4 L1845.4 1426.2 L1846.4 1426.4 L1847.4 1426.2 L1848.4 1425.4 L1849.5 1426.1 L1850.5 1424.7 L1851.5 1424.1 L1852.5 1426.9 L1853.5 1425.5 L1854.5 1425.0 L1855.6 1423.9 L1856.6 1425.0 L1857.6 1423.2 L1858.6 1423.6 L1859.6 1425.0 L1860.7 1425.6 L1861.7 1425.4 L1862.7 1426.5 L1863.7 1424.6 L1864.7 1423.1 L1865.8 1423.3 L1866.8 1423.6 L1867.8 1422.9 L1868.8 1423.7 L1869.8 1422.9 L1870.8 1423.3 L1871.9 1422.3 L1872.9 1421.2 L1873.9 1421.1 L1874.9 1423.2 L1875.9 1423.6 L1876.9 1423.1 L1877.9 1424.0 L1878.9 1422.9 L1879.9 1423.7 L1880.9 1424.0 L1881.9 1424.2 L1882.9 1423.6 L1883.9 1422.7 L1885.0 1421.6 L1886.0 1421.2 L1887.0 1421.7 L1888.0 1422.8 L1889.0 1423.7 L1890.0 1423.8 L1891.0 1424.9 L1892.0 1422.8 L1893.0 1422.0 L1894.0 1423.4 L1895.0 1424.0 L1896.0 1423.8 L1897.0 1424.4 L1898.1 1422.6 L1899.1 1423.1 L1900.1 1423.2 L1901.1 1423.3 L1902.1 1424.1 L1903.2 1425.3 L1904.2 1425.3 L1905.2 1424.8 L1906.2 1424.2 L1907.2 1425.9 L1908.2 1426.5 L1909.3 1426.4 L1910.3 1425.3 L1911.3 1426.2 L1912.4 1426.1 L1913.4 1425.5 L1914.5 1425.6 L1915.5 1425.7 L1916.5 1425.6 L1917.6 1426.8 L1918.7 1425.8 L1919.7 1427.1 L1920.8 1427.3 L1921.8 1426.0 L1922.8 1426.2 L1923.9 1426.2 L1924.9 1425.8 L1926.0 1424.9 L1927.0 1424.9 L1928.0 1424.2 L1929.0 1425.0 L1930.0 1424.5 L1931.0 1425.2 L1932.0 1424.9 L1933.0 1424.0 L1934.0 1424.3 L1935.0 1423.3 L1936.0 1424.6 L1937.0 1422.8 L1938.0 1423.9 L1939.0 1424.5 L1940.0 1424.5 L1941.0 1424.7 L1942.1 1423.0 L1943.1 1422.4 L1944.1 1423.5 L1945.1 1423.6 L1946.1 1423.7 L1947.2 1423.3 L1948.2 1423.2 L1949.2 1423.4 L1950.2 1425.0 L1951.2 1425.8 L1952.2 1423.9 L1953.3 1423.4 L1954.3 1423.8 L1955.3 1423.5 L1956.3 1423.9 L1957.3 1424.9 L1958.3 1425.0 L1959.3 1423.8 L1960.3 1424.1 L1961.3 1423.7 L1962.3 1422.8 L1963.3 1422.6 L1964.3 1421.7 L1965.3 1422.5 L1966.3 1420.8 L1967.3 1422.3 L1968.3 1423.0 L1969.3 1423.4 L1970.4 1424.2 L1971.4 1424.8 L1972.4 1424.1 L1973.5 1424.1 L1974.5 1424.0 L1975.6 1424.2 L1976.6 1425.5 L1977.6 1426.2 L1978.7 1425.0 L1979.7 1424.7 L1980.7 1425.1 L1981.7 1425.5 L1982.7 1424.8 L1983.7 1422.9 L1984.7 1422.2 L1985.7 1421.5 L1986.7 1423.4 L1987.7 1424.0 L1988.7 1423.6 L1989.7 1422.3 L1990.7 1422.6 L1991.7 1422.3 L1992.7 1421.9 L1993.7 1421.9 L1994.8 1423.6 L1995.8 1422.7 L1996.8 1422.4 L1997.9 1424.1 L1998.9 1422.8 L2000.0 1423.1 L2001.0 1422.7 L2002.0 1423.5 L2003.1 1422.7 L2004.1 1423.6 L2005.1 1423.5 L2006.1 1423.6 L2007.2 1424.6 L2008.2 1425.8 L2009.2 1423.4 L2010.2 1422.9 L2011.2 1423.1 L2012.2 1423.3 L2013.3 1423.8 L2014.3 1422.4 L2015.3 1422.0 L2016.3 1422.0 L2017.3 1421.3 L2018.4 1421.7 L2019.4 1421.6 L2020.4 1421.6 L2021.4 1421.0 L2022.4 1420.9 L2023.5 1419.9 L2024.5 1420.8 L2025.5 1419.5 L2026.5 1419.8 L2027.5 1420.7 L2028.5 1420.4 L2029.6 1420.3 L2030.6 1419.7 L2031.6 1419.1 L2032.6 1418.9 L2033.6 1419.3 L2034.7 1418.8 L2035.7 1418.3 L2036.7 1418.5 L2037.7 1416.6 L2038.7 1416.0 L2039.7 1416.1 L2040.7 1416.4 L2041.7 1416.4 L2042.7 1416.4 L2043.7 1415.6 L2044.7 1416.2 L2045.7 1416.5 L2046.7 1415.9 L2047.7 1414.8 L2048.7 1414.5 L2049.6 1414.9 L2050.5 1413.7 L2051.3 1413.2 L2052.1 1412.0 L2052.9 1411.1 L2053.8 1410.9 L2054.6 1409.1 L2055.4 1407.5 L2056.2 1407.6 L2057.0 1409.2 L2057.8 1410.7 L2058.6 1411.1 L2059.3 1409.8 L2059.9 1410.4 L2060.5 1410.5 L2061.0 1409.4 L2061.5 1409.7 L2061.9 1406.8 L2062.4 1405.5 L2062.9 1404.6 L2063.4 1402.8 L2064.0 1401.9 L2064.6 1401.5 L2065.3 1400.8 L2066.0 1401.3 L2066.8 1397.4 L2067.6 1397.7 L2068.4 1397.2 L2069.3 1396.5 L2070.1 1395.1 L2070.9 1395.3 L2071.6 1395.3 L2072.2 1394.3 L2072.8 1395.6 L2073.2 1396.8 L2073.6 1396.9 L2073.9 1398.7 L2074.3 1399.7 L2074.8 1400.1 L2075.4 1400.4 L2076.1 1400.9 L2076.9 1400.1 L2077.8 1399.8 L2078.8 1400.0 L2079.7 1399.1 L2080.7 1398.1 L2081.6 1399.8 L2082.5 1399.0 L2083.3 1399.9 L2084.2 1401.1 L2084.7 1400.4 L2085.1 1400.4" stroke="#ff0000" stroke-width="2.20"/>
<path d="M1581.5 1370.3 L1581.5 1372.2 L1581.5 1371.7 L1581.6 1373.1 L1581.6 1374.4 L1581.6 1376.4 L1581.6 1376.7 L1581.6 1379.3 L1581.7 1379.3 L1581.7 1381.5 L1581.7 1381.9 L1581.7 1382.5 L1581.7 1381.3 L1581.8 1382.5 L1581.8 1384.5 L1581.8 1385.1 L1581.8 1385.5 L1581.8 1386.2 L1581.9 1388.6 L1581.9 1390.7 L1581.9 1391.8 L1581.9 1390.5 L1581.9 1392.4 L1582.0 1394.7 L1582.0 1393.5 L1582.0 1395.7 L1582.0 1396.8 L1582.0 1397.6 L1582.1 1399.9 L1582.1 1399.8 L1582.1 1400.5 L1582.1 1403.4 L1582.1 1404.3 L1582.2 1405.8 L1582.2 1405.6 L1582.2 1406.1 L1582.2 1407.2 L1582.2 1407.5 L1582.3 1409.2 L1582.4 1409.9 L1582.8 1410.7 L1583.3 1410.7 L1583.9 1409.6 L1584.8 1410.5 L1585.5 1409.0 L1586.3 1408.9 L1587.0 1410.0 L1587.6 1409.9 L1588.2 1411.7 L1588.8 1412.7 L1589.5 1412.5 L1590.1 1412.0 L1590.8 1412.5 L1591.6 1413.2 L1592.4 1414.2 L1593.4 1413.8 L1594.4 1414.3 L1595.4 1414.6 L1596.5 1415.1 L1597.5 1412.7 L1598.6 1412.6 L1599.6 1413.1 L1600.6 1412.6 L1601.7 1412.8 L1602.7 1412.4 L1603.8 1412.4 L1604.9 1412.5 L1606.0 1414.1 L1607.1 1414.6 L1608.1 1413.7 L1609.2 1413.5 L1610.3 1415.4 L1611.4 1414.0 L1612.5 1413.7 L1613.5 1413.2 L1614.6 1414.8 L1615.6 1414.6 L1616.6 1415.2 L1617.7 1414.8 L1618.7 1415.5 L1619.8 1415.6 L1620.8 1415.9 L1621.8 1415.6 L1622.8 1415.2 L1623.8 1416.1 L1624.8 1414.9 L1625.8 1415.5 L1626.8 1414.2 L1627.7 1415.4 L1628.7 1415.0 L1629.6 1414.8 L1630.5 1414.0 L1631.5 1413.8 L1632.5 1412.4 L1633.4 1413.0 L1634.4 1411.9 L1635.3 1411.7 L1636.3 1410.6 L1637.2 1410.1 L1638.2 1410.8 L1639.0 1409.3 L1639.7 1409.0 L1640.2 1408.4 L1640.6 1406.7 L1640.8 1406.8 L1641.0 1405.2 L1641.2 1402.8 L1641.5 1403.5 L1641.7 1401.6 L1641.9 1400.8 L1642.1 1399.3 L1642.3 1398.2 L1642.5 1398.2 L1642.7 1397.2 L1642.8 1395.8 L1642.8 1395.8 L1642.9 1393.6 L1643.0 1393.0 L1643.1 1391.3 L1643.2 1391.7 L1643.3 1389.9 L1643.3 1389.3 L1643.4 1388.4 L1643.5 1388.2 L1643.6 1386.2 L1643.7 1385.5 L1643.8 1384.2 L1643.8 1383.1 L1643.9 1382.1 L1644.0 1380.9 L1644.1 1379.8 L1644.2 1379.3 L1644.3 1377.8 L1644.3 1378.1 L1644.4 1377.9 L1644.5 1376.2 L1644.6 1373.6 L1644.7 1372.8 L1644.8 1370.4 L1644.8 1370.0 L1644.9 1369.8 L1645.0 1369.4 L1645.1 1368.4 L1645.2 1367.9 L1645.2 1366.4 L1645.3 1366.3 L1645.4 1362.5 L1645.5 1361.4 L1645.6 1362.0 L1645.6 1360.4 L1645.7 1360.2 L1645.8 1359.0 L1645.9 1357.4 L1646.0 1355.8 L1646.0 1355.1 L1646.1 1354.2 L1646.2 1354.1 L1646.3 1353.4 L1646.4 1351.9 L1646.5 1350.6 L1646.5 1349.8 L1646.6 1348.2 L1646.7 1347.1 L1646.8 1347.2 L1646.9 1345.6 L1646.9 1344.4 L1647.0 1342.9 L1647.1 1341.3 L1647.2 1340.5 L1647.3 1341.6 L1647.3 1340.5 L1647.4 1337.8 L1647.5 1336.5 L1647.6 1335.9 L1647.7 1336.1 L1647.8 1334.9 L1647.9 1335.6 L1648.1 1333.4 L1648.2 1333.7 L1648.3 1332.0 L1648.4 1330.5 L1648.5 1329.6 L1648.6 1328.2 L1648.7 1327.2 L1648.8 1324.9 L1648.9 1323.4 L1649.0 1322.4 L1649.2 1322.9 L1649.3 1321.3 L1649.4 1320.4 L1649.5 1320.4 L1649.6 1319.6 L1649.7 1316.3 L1649.8 1316.5 L1649.9 1315.4 L1650.0 1314.7 L1650.1 1314.4 L1650.3 1312.0 L1650.4 1311.9 L1650.5 1310.5 L1650.6 1309.8 L1650.7 1308.2 L1650.8 1308.0 L1651.0 1305.9 L1651.1 1305.1 L1651.2 1304.6 L1651.4 1302.5 L1651.5 1301.7 L1651.7 1299.6 L1651.8 1299.6 L1651.9 1299.2 L1652.1 1298.8 L1652.2 1297.8 L1652.3 1296.6 L1652.5 1295.8 L1652.6 1293.3 L1652.8 1292.8 L1652.9 1291.3 L1653.0 1290.4 L1653.2 1289.7 L1653.3 1290.0 L1653.5 1288.8 L1653.6 1287.9 L1653.7 1287.4 L1653.9 1285.7 L1654.0 1284.2 L1654.2 1283.0 L1654.4 1282.3 L1654.5 1281.8 L1654.7 1281.8 L1654.9 1279.2 L1655.1 1277.3 L1655.2 1276.1 L1655.4 1276.3 L1655.6 1274.7 L1655.8 1273.9 L1656.0 1273.0 L1656.1 1272.5 L1656.3 1271.0 L1656.5 1270.8 L1656.7 1269.1 L1656.8 1267.9 L1657.0 1266.7 L1657.2 1267.0 L1657.4 1265.2 L1657.6 1264.0 L1657.8 1262.1 L1658.0 1262.0 L1658.2 1261.4 L1658.4 1259.8 L1658.6 1259.5 L1658.8 1258.9 L1659.0 1257.4 L1659.2 1256.0 L1659.3 1254.7 L1659.5 1254.8 L1659.7 1253.2 L1659.9 1252.2 L1660.1 1251.9 L1660.3 1249.7 L1660.5 1248.9 L1660.7 1248.2 L1660.9 1246.9 L1661.1 1246.8 L1661.3 1244.7 L1661.6 1241.6 L1661.8 1242.9 L1662.1 1242.0 L1662.4 1241.1 L1662.7 1239.7 L1662.9 1238.8 L1663.2 1239.4 L1663.5 1236.5 L1663.8 1234.7 L1664.0 1234.7 L1664.3 1235.2 L1664.6 1234.0 L1664.8 1231.9 L1665.1 1232.3 L1665.4 1230.7 L1665.7 1229.6 L1666.0 1227.1 L1666.3 1226.0 L1666.6 1224.8 L1667.0 1224.8 L1667.4 1224.2 L1667.8 1224.0 L1668.2 1221.9 L1668.7 1220.4 L1669.1 1219.3 L1669.5 1219.4 L1669.9 1219.5 L1670.3 1219.2 L1670.7 1216.6 L1671.1 1215.3 L1671.5 1214.8 L1671.9 1213.4 L1672.3 1212.5 L1672.7 1213.0 L1673.1 1209.5 L1673.5 1208.6 L1674.0 1208.9 L1674.4 1208.8 L1674.8 1207.1 L1675.2 1205.2 L1675.6 1203.8 L1676.1 1202.4 L1676.7 1202.6 L1677.3 1203.2 L1678.0 1202.2 L1678.6 1201.5 L1679.2 1199.7 L1679.9 1199.0 L1680.5 1199.8 L1681.2 1198.2 L1681.9 1197.0 L1682.6 1197.5 L1683.3 1196.3 L1684.1 1196.1 L1684.9 1194.8 L1685.7 1192.5 L1686.5 1193.0 L1687.4 1193.0 L1688.2 1192.9 L1689.0 1190.5 L1689.8 1190.1 L1690.7 1189.7 L1691.5 1190.5 L1692.4 1190.5 L1693.3 1191.2 L1694.2 1191.1 L1695.2 1192.3 L1696.1 1191.3 L1697.0 1193.2 L1697.9 1194.1 L1698.7 1194.2 L1699.6 1194.4 L1700.4 1194.8 L1701.2 1195.9 L1702.0 1196.1 L1702.9 1196.8 L1703.7 1198.5 L1704.4 1198.6 L1705.1 1199.4 L1705.7 1199.1 L1706.3 1200.3 L1706.8 1201.0 L1707.3 1201.7 L1707.8 1202.7 L1708.2 1204.7 L1708.7 1204.4 L1709.2 1206.6 L1709.8 1205.9 L1710.4 1207.5 L1711.1 1209.3 L1711.8 1211.4 L1712.6 1211.3 L1713.4 1211.3 L1714.2 1211.7 L1715.1 1213.1 L1715.9 1212.1 L1716.7 1213.0 L1717.5 1214.1 L1718.3 1213.9 L1719.0 1216.3 L1719.8 1217.3 L1720.5 1217.3 L1721.2 1219.4 L1722.0 1219.0 L1722.7 1219.2 L1723.5 1218.6 L1724.2 1221.0 L1724.9 1220.8 L1725.6 1221.7 L1726.3 1224.2 L1727.0 1223.8 L1727.7 1224.6 L1728.3 1225.9 L1728.9 1226.6 L1729.6 1226.5 L1730.2 1227.7 L1730.8 1228.4 L1731.4 1229.5 L1732.1 1230.9 L1732.7 1231.1 L1733.3 1230.2 L1734.0 1232.0 L1734.7 1233.2 L1735.4 1234.1 L1736.2 1234.1 L1737.0 1234.7 L1737.8 1235.2 L1738.7 1236.4 L1739.5 1238.0 L1740.3 1238.5 L1741.1 1239.9 L1741.9 1239.9 L1742.7 1240.5 L1743.5 1242.1 L1744.3 1241.0 L1745.2 1242.8 L1746.0 1243.4 L1746.8 1243.2 L1747.6 1244.0 L1748.4 1244.7 L1749.3 1245.2 L1750.1 1246.0 L1750.9 1246.9 L1751.8 1247.4 L1752.7 1248.0 L1753.5 1247.9 L1754.4 1248.1 L1755.3 1248.8 L1756.2 1249.5 L1757.1 1250.8 L1758.0 1251.1 L1758.8 1251.5 L1759.7 1252.0 L1760.7 1253.7 L1761.6 1253.8 L1762.6 1254.8 L1763.5 1255.0 L1764.5 1254.6 L1765.5 1254.7 L1766.5 1256.2 L1767.5 1255.5 L1768.4 1255.6 L1769.4 1256.9 L1770.4 1257.6 L1771.4 1257.5 L1772.5 1259.4 L1773.5 1260.2 L1774.5 1260.2 L1775.5 1258.9 L1776.5 1260.7 L1777.6 1261.4 L1778.6 1260.3 L1779.7 1261.7 L1780.8 1261.6 L1781.8 1260.7 L1782.9 1262.3 L1784.0 1262.0 L1785.1 1260.7 L1786.1 1260.0 L1787.1 1260.8 L1788.0 1261.5 L1788.8 1264.4 L1789.5 1263.9 L1790.1 1264.4 L1790.8 1265.0 L1791.4 1264.7 L1792.0 1265.4 L1792.7 1266.8 L1793.4 1267.5 L1794.3 1268.0 L1795.2 1268.1 L1796.2 1268.7 L1797.2 1267.0 L1798.2 1268.5 L1799.2 1268.7 L1800.2 1268.4 L1801.2 1267.3 L1802.2 1267.9 L1803.2 1267.0 L1804.2 1266.6 L1805.2 1267.7 L1806.3 1268.5 L1807.3 1270.3 L1808.4 1268.4 L1809.5 1268.5 L1810.6 1268.7 L1811.6 1269.7 L1812.7 1268.1 L1813.8 1267.7 L1814.9 1267.2 L1815.8 1266.8 L1816.8 1266.9 L1817.6 1267.8 L1818.5 1270.6 L1819.3 1271.0 L1820.1 1271.4 L1821.0 1271.2 L1821.9 1272.0 L1822.9 1271.8 L1823.9 1270.2 L1824.9 1270.0 L1825.9 1269.3 L1826.9 1270.0 L1827.9 1268.9 L1828.9 1268.1 L1829.8 1267.9 L1830.8 1269.0 L1831.7 1269.6 L1832.6 1269.4 L1833.5 1270.1 L1834.4 1270.6 L1835.3 1272.0 L1836.2 1273.3 L1837.1 1272.2 L1838.1 1271.1 L1839.1 1271.2 L1840.1 1272.4 L1841.1 1272.0 L1842.1 1271.7 L1843.2 1272.5 L1844.2 1271.7 L1845.3 1271.7 L1846.3 1272.8 L1847.3 1272.5 L1848.4 1274.0 L1849.4 1273.7 L1850.4 1273.2 L1851.4 1274.8 L1852.3 1274.4 L1853.3 1275.5 L1854.3 1275.2 L1855.3 1275.7 L1856.3 1275.8 L1857.2 1277.2 L1858.2 1278.1 L1859.2 1276.4 L1860.1 1277.3 L1861.0 1276.5 L1861.9 1276.0 L1862.8 1275.6 L1863.7 1275.4 L1864.6 1274.9 L1865.5 1273.8 L1866.4 1273.4 L1867.4 1272.2 L1868.3 1272.9 L1869.3 1271.7 L1870.4 1272.6 L1871.4 1273.0 L1872.4 1274.4 L1873.5 1274.7 L1874.4 1274.9 L1875.3 1274.8 L1876.2 1273.3 L1876.9 1272.4 L1877.7 1271.3 L1878.4 1271.7 L1879.1 1270.7 L1879.8 1270.9 L1880.6 1269.6 L1881.3 1268.5 L1882.2 1268.3 L1883.1 1268.2 L1884.0 1267.9 L1885.0 1268.0 L1886.0 1268.9 L1887.0 1268.6 L1888.0 1268.6 L1889.0 1266.4 L1890.0 1267.8 L1891.0 1267.5 L1892.0 1268.5 L1893.0 1268.1 L1894.0 1268.0 L1894.9 1267.4 L1895.8 1267.2 L1896.6 1266.6 L1897.4 1265.6 L1898.2 1265.4 L1899.1 1265.0 L1899.9 1265.1 L1900.7 1263.3 L1901.6 1262.9 L1902.5 1262.5 L1903.5 1262.3 L1904.4 1261.6 L1905.4 1261.0 L1906.4 1261.5 L1907.4 1261.9 L1908.4 1261.1 L1909.3 1259.8 L1910.3 1259.9 L1911.1 1258.6 L1911.9 1259.4 L1912.7 1258.2 L1913.3 1257.2 L1914.0 1256.4 L1914.7 1256.3 L1915.3 1256.3 L1916.0 1254.4 L1916.7 1254.4 L1917.4 1252.9 L1918.0 1251.5 L1918.8 1250.8 L1919.6 1249.7 L1920.5 1250.1 L1921.5 1249.4 L1922.5 1250.2 L1923.5 1248.6 L1924.5 1246.6 L1925.5 1247.3 L1926.5 1246.9 L1927.4 1246.9 L1928.3 1245.7 L1929.1 1245.0 L1929.9 1245.0 L1930.6 1243.3 L1931.4 1243.5 L1932.1 1242.4 L1932.9 1241.4 L1933.6 1240.9 L1934.4 1240.5 L1935.1 1239.9 L1935.9 1238.9 L1936.6 1237.7 L1937.4 1238.2 L1938.1 1238.0 L1938.8 1236.1 L1939.4 1234.9 L1940.1 1233.7 L1940.8 1233.4 L1941.5 1233.2 L1942.1 1232.7 L1942.8 1231.3 L1943.5 1230.9 L1944.2 1229.1 L1944.9 1228.1 L1945.6 1225.9 L1946.4 1226.7 L1947.3 1226.5 L1948.2 1224.8 L1949.1 1224.8 L1950.0 1223.6 L1950.8 1224.6 L1951.7 1223.2 L1952.6 1223.4 L1953.5 1222.2 L1954.3 1222.1 L1955.1 1220.8 L1955.8 1219.6 L1956.4 1219.3 L1957.0 1218.2 L1957.6 1217.3 L1958.2 1215.9 L1958.7 1214.0 L1959.3 1213.6 L1959.9 1213.3 L1960.4 1211.2 L1961.0 1210.9 L1961.6 1211.4 L1962.1 1210.9 L1962.7 1209.2 L1963.3 1208.0 L1963.9 1207.8 L1964.5 1207.0 L1965.1 1205.0 L1965.9 1204.9 L1966.6 1204.5 L1967.5 1203.6 L1968.3 1202.0 L1969.1 1203.0 L1969.9 1201.6 L1970.7 1199.9 L1971.6 1199.7 L1972.4 1199.0 L1973.3 1199.1 L1974.3 1199.5 L1975.2 1198.9 L1976.2 1199.4 L1977.2 1199.2 L1978.3 1199.5 L1979.3 1199.7 L1980.3 1198.9 L1981.3 1198.2 L1982.3 1198.6 L1983.3 1199.0 L1984.4 1199.3 L1985.4 1199.0 L1986.4 1199.2 L1987.5 1199.8 L1988.4 1198.0 L1989.3 1199.2 L1990.1 1200.3 L1990.8 1200.0 L1991.5 1202.3 L1992.2 1202.3 L1992.9 1202.3 L1993.5 1202.9 L1994.2 1203.4 L1994.9 1204.3 L1995.6 1205.9 L1996.2 1206.3 L1996.9 1207.6 L1997.5 1207.1 L1998.0 1209.9 L1998.6 1210.8 L1999.0 1210.6 L1999.5 1212.6 L2000.0 1213.8 L2000.5 1213.9 L2001.0 1214.6 L2001.5 1214.6 L2001.9 1215.7 L2002.4 1216.9 L2002.9 1216.7 L2003.4 1218.5 L2003.9 1220.6 L2004.4 1221.2 L2004.8 1222.4 L2005.3 1223.7 L2005.7 1223.7 L2006.1 1224.6 L2006.4 1225.7 L2006.8 1225.4 L2007.1 1227.3 L2007.4 1228.6 L2007.7 1230.1 L2008.1 1231.2 L2008.4 1231.2 L2008.7 1232.6 L2009.0 1233.9 L2009.4 1234.5 L2009.7 1235.6 L2010.0 1235.6 L2010.3 1237.2 L2010.7 1238.0 L2011.0 1239.3 L2011.3 1239.1 L2011.6 1240.1 L2012.0 1241.9 L2012.3 1242.9 L2012.6 1244.3 L2012.9 1246.3 L2013.3 1246.0 L2013.5 1247.1 L2013.8 1249.4 L2014.1 1250.8 L2014.3 1251.0 L2014.4 1252.6 L2014.6 1253.7 L2014.8 1253.7 L2015.0 1254.3 L2015.2 1256.2 L2015.3 1256.3 L2015.5 1256.8 L2015.7 1257.5 L2015.9 1258.2 L2016.1 1258.9 L2016.2 1260.5 L2016.4 1262.0 L2016.6 1263.0 L2016.8 1262.6 L2017.0 1263.8 L2017.2 1265.3 L2017.3 1266.5 L2017.5 1268.0 L2017.7 1268.7 L2017.9 1270.5 L2018.1 1270.8 L2018.2 1272.7 L2018.4 1273.8 L2018.6 1274.9 L2018.8 1275.4 L2019.0 1276.0 L2019.1 1276.9 L2019.3 1277.4 L2019.5 1278.6 L2019.7 1280.0 L2019.9 1280.8 L2020.0 1281.5 L2020.2 1282.7 L2020.4 1284.1 L2020.5 1285.0 L2020.7 1286.1 L2020.8 1287.0 L2020.9 1288.1 L2021.1 1288.8 L2021.2 1289.2 L2021.3 1289.9 L2021.5 1290.6 L2021.6 1292.6 L2021.7 1294.0 L2021.9 1296.5 L2022.0 1295.8 L2022.1 1296.7 L2022.3 1296.8 L2022.4 1298.8 L2022.5 1299.7 L2022.7 1301.3 L2022.8 1302.4 L2022.9 1303.7 L2023.0 1305.2 L2023.2 1305.2 L2023.3 1307.3 L2023.4 1307.3 L2023.6 1309.0 L2023.7 1309.5 L2023.8 1310.4 L2024.0 1311.3 L2024.1 1312.0 L2024.2 1312.4 L2024.4 1314.0 L2024.5 1314.1 L2024.6 1315.6 L2024.8 1316.3 L2024.9 1317.5 L2025.0 1319.0 L2025.2 1319.6 L2025.3 1321.2 L2025.4 1321.4 L2025.5 1323.1 L2025.6 1325.0 L2025.7 1326.0 L2025.7 1326.9 L2025.8 1327.1 L2025.9 1328.2 L2026.0 1329.6 L2026.1 1330.6 L2026.2 1331.3 L2026.3 1331.8 L2026.4 1334.1 L2026.5 1334.4 L2026.5 1334.9 L2026.6 1335.7 L2026.7 1337.8 L2026.8 1339.1 L2026.9 1340.0 L2027.0 1340.1 L2027.1 1341.2 L2027.2 1342.4 L2027.3 1343.0 L2027.3 1343.8 L2027.4 1344.7 L2027.5 1347.0 L2027.6 1347.3 L2027.7 1348.2 L2027.8 1348.5 L2027.9 1349.8 L2028.0 1351.0 L2028.1 1352.5 L2028.1 1353.7 L2028.2 1353.4 L2028.3 1354.9 L2028.4 1355.2 L2028.5 1356.4 L2028.6 1357.9 L2028.7 1359.8 L2028.8 1359.9 L2028.9 1360.3 L2029.0 1362.9 L2029.1 1362.8 L2029.2 1362.9 L2029.4 1364.9 L2029.5 1366.0 L2029.6 1367.3 L2029.7 1370.2 L2029.8 1370.4 L2029.9 1371.1 L2030.0 1371.7 L2030.1 1372.1 L2030.2 1373.3 L2030.3 1374.8 L2030.4 1375.5 L2030.5 1376.9 L2030.6 1376.7 L2030.7 1377.9 L2030.8 1378.8 L2030.9 1381.8 L2031.1 1380.7 L2031.2 1381.9 L2031.3 1382.4 L2031.4 1383.6 L2031.5 1385.6 L2031.6 1387.4 L2031.7 1387.1 L2031.9 1388.3 L2032.1 1389.9 L2032.3 1390.2 L2032.5 1391.6 L2032.7 1391.7 L2032.9 1393.2 L2033.2 1395.9 L2033.4 1397.3 L2033.6 1397.1 L2033.8 1397.0 L2034.2 1398.3 L2034.7 1397.6 L2035.3 1399.7 L2036.1 1400.4 L2037.0 1401.4 L2038.0 1402.2 L2038.9 1403.5 L2039.8 1403.1 L2040.7 1403.4 L2041.7 1403.8 L2042.7 1404.7 L2043.7 1404.5 L2044.7 1404.2 L2045.7 1404.2 L2046.8 1404.5 L2047.8 1403.4 L2048.9 1403.8 L2049.9 1403.5 L2050.9 1403.1 L2052.0 1402.9 L2053.0 1402.7 L2054.1 1403.3 L2055.2 1403.7 L2056.2 1405.1 L2057.3 1406.0 L2058.4 1405.9 L2059.5 1405.6 L2060.5 1405.9 L2061.5 1407.0 L2062.4 1407.7 L2063.2 1408.8 L2063.9 1409.0 L2064.5 1408.8 L2065.1 1408.5 L2065.7 1409.9 L2066.3 1411.1 L2066.9 1412.5 L2067.5 1412.7 L2068.1 1412.9 L2068.8 1414.4 L2069.5 1414.5 L2070.4 1414.9 L2071.3 1415.1 L2072.3 1413.9 L2073.3 1414.2 L2074.4 1414.2 L2075.4 1414.3 L2076.3 1413.8 L2077.2 1412.3 L2078.1 1411.8 L2078.8 1410.9 L2079.6 1411.2 L2080.3 1410.7 L2081.0 1408.9 L2081.7 1408.5 L2082.4 1407.8 L2083.1 1407.1 L2083.8 1407.1 L2084.6 1405.0 L2084.9 1404.0 L2085.3 1403.4" stroke="#0000ff" stroke-width="2.30"/>
</g>
<rect x="1907.8" y="1075.4" width="160.5" height="82.0" fill="#fff" stroke="#3a3a3a" stroke-width="1.3" rx="1.5"/>
<path d="M1914.6 1093.0 H1958.8" stroke="#0000ff" stroke-width="2.8" stroke-linecap="round"/>
<text x="1969.6" y="1100.2" font-size="19.7" text-anchor="start" font-weight="bold" fill="#000" letter-spacing="0.15">4 degree</text>
<path d="M1914.6 1116.9 H1958.8" stroke="#ff0000" stroke-width="2.8" stroke-linecap="round"/>
<text x="1969.6" y="1124.1" font-size="19.7" text-anchor="start" font-weight="bold" fill="#000" letter-spacing="0.15">25 degree</text>
<path d="M1914.6 1140.8 H1958.8" stroke="#000000" stroke-width="2.8" stroke-linecap="round"/>
<text x="1969.6" y="1148.0" font-size="19.7" text-anchor="start" font-weight="bold" fill="#000" letter-spacing="0.15">37 degree</text>
<text transform="translate(1569.2,1256.0) rotate(-90)" font-size="25.6" text-anchor="middle" font-weight="bold">Cataract intensity distribution (a. u.)</text>
<path d="M1585.5 1476.2 H1599.9" stroke="#000" stroke-width="1.6"/>
<text x="1602.0" y="1484.6" font-size="23.2" text-anchor="start" font-weight="bold" fill="#000" >1</text>
<text x="1833.6" y="1484.6" font-size="23.2" text-anchor="middle" font-weight="bold" fill="#000" >0</text>
<text x="2075.2" y="1484.6" font-size="23.2" text-anchor="middle" font-weight="bold" fill="#000" >1</text>
<text x="1629.7" y="1505.9" font-size="24.7" text-anchor="middle" font-weight="bold" fill="#000" letter-spacing="0.5">Periphery</text>
<text x="1835.0" y="1506.3" font-size="24.7" text-anchor="middle" font-weight="bold" fill="#000" letter-spacing="0.3">Center</text>
<text x="2034.2" y="1506.3" font-size="24.7" text-anchor="middle" font-weight="bold" fill="#000" letter-spacing="0.5">Periphery</text>
<path d="M2051.0 927.1 L2053.1 925.0 L2054.4 927.8 L2055.7 925.0 L2057.0 927.8 L2058.3 925.0 L2059.6 927.8 L2060.9 925.0 L2062.2 927.8 L2063.5 925.0 L2064.8 927.8 L2066.1 925.0 L2067.4 927.8 L2068.7 925.0 L2070.0 927.8 L2071.3 925.0 L2072.6 927.8 L2073.9 925.0 L2075.2 927.8 L2076.5 925.0 L2077.8 927.8 L2079.1 925.0" fill="none" stroke="#000" stroke-width="2.2" stroke-linejoin="round"/>
<text x="13.6" y="138.2" font-size="49.0" text-anchor="start" font-weight="bold" fill="#000" >A</text>
<text x="13.0" y="621.0" font-size="49.0" text-anchor="start" font-weight="bold" fill="#000" >B</text>
<text x="13.0" y="1103.5" font-size="49.0" text-anchor="start" font-weight="bold" fill="#000" >C</text>
<text x="1504.0" y="139.1" font-size="49.0" text-anchor="start" font-weight="bold" fill="#000" >D</text>
<text x="1505.5" y="626.8" font-size="49.0" text-anchor="start" font-weight="bold" fill="#000" >E</text>
<text x="1508.5" y="1112.1" font-size="49.0" text-anchor="start" font-weight="bold" fill="#000" >F</text>
<text x="16.0" y="1576.0" font-size="50.0" text-anchor="start" font-weight="bold" fill="#2a2a2a" >G</text>
<text x="294.5" y="61.4" font-size="46.7" text-anchor="middle" font-weight="bold" fill="#000" letter-spacing="0.8">37 degree</text>
<text x="773.3" y="61.4" font-size="46.7" text-anchor="middle" font-weight="bold" fill="#000" letter-spacing="0.8">25 degree</text>
<text x="1255.7" y="61.7" font-size="46.7" text-anchor="middle" font-weight="bold" fill="#000" letter-spacing="0.8">4 degree</text>
<rect x="235.0" y="1718.8" width="83.2" height="260.7" fill="#000000"/>
<path d="M257.0 1714.9 H295.6 M276.3 1714.9 V1721.8" stroke="#000" stroke-width="4.2" fill="none"/>
<rect x="390.0" y="1625.8" width="83.1" height="353.7" fill="#a1a0a5"/>
<path d="M411.8 1621.8 H450.4 M431.1 1621.8 V1628.8" stroke="#000" stroke-width="4.2" fill="none"/>
<rect x="544.3" y="1629.4" width="83.7" height="350.1" fill="#818181"/>
<path d="M566.7 1627.0 H605.3 M586.0 1627.0 V1632.4" stroke="#000" stroke-width="4.2" fill="none"/>
<rect x="699.2" y="1626.7" width="83.9" height="352.8" fill="#d4d4d4"/>
<path d="M721.5 1622.2 H760.1 M740.8 1622.2 V1629.7" stroke="#000" stroke-width="4.2" fill="none"/>
<path d="M199.0 1565 V1981.6" stroke="#000" stroke-width="4.4"/>
<path d="M188 1979.5 H820.5" stroke="#000" stroke-width="4.2"/>
<path d="M188 1567.2 H199.0" stroke="#000" stroke-width="4.2"/>
<text x="183.2" y="1577.4" font-size="30.5" text-anchor="end" font-weight="bold" fill="#000" letter-spacing="1.0">1500</text>
<path d="M188 1705.0 H199.0" stroke="#000" stroke-width="4.2"/>
<text x="183.2" y="1715.2" font-size="30.5" text-anchor="end" font-weight="bold" fill="#000" letter-spacing="1.0">1000</text>
<path d="M188 1842.3 H199.0" stroke="#000" stroke-width="4.2"/>
<text x="183.2" y="1852.5" font-size="30.5" text-anchor="end" font-weight="bold" fill="#000" letter-spacing="1.0">500</text>
<path d="M188 1979.5 H199.0" stroke="#000" stroke-width="4.2"/>
<text x="183.2" y="1989.7" font-size="30.5" text-anchor="end" font-weight="bold" fill="#000" letter-spacing="1.0">0</text>
<path d="M276.8 1979.5 V1990.6" stroke="#000" stroke-width="4.2"/>
<path d="M431.3 1979.5 V1990.6" stroke="#000" stroke-width="4.2"/>
<path d="M585.7 1979.5 V1990.6" stroke="#000" stroke-width="4.2"/>
<path d="M740.6 1979.5 V1990.6" stroke="#000" stroke-width="4.2"/>
<text transform="translate(100.2,1776.5) rotate(-90)" font-size="34.7" text-anchor="middle" font-weight="bold">Diameters of cataracts/&#181;m</text>
<path d="M276.75 1559.0 V1549.2 H737.9 V1559.0" stroke="#000" stroke-width="6" fill="none" stroke-linejoin="miter"/>
<path d="M276.75 1586.0 V1576.2 H583.5 V1586.0" stroke="#000" stroke-width="6" fill="none" stroke-linejoin="miter"/>
<path d="M276.75 1612.7 V1602.9 H430.6 V1612.7" stroke="#000" stroke-width="6" fill="none" stroke-linejoin="miter"/>
<text x="511.2" y="1554.8" font-size="33.5" text-anchor="middle" font-weight="normal" fill="#000" letter-spacing="1.5">****</text>
<text x="431.4" y="1581.6" font-size="33.5" text-anchor="middle" font-weight="normal" fill="#000" letter-spacing="1.5">****</text>
<text x="356.1" y="1608.3" font-size="33.5" text-anchor="middle" font-weight="normal" fill="#000" letter-spacing="1.5">****</text>
<text x="269.9" y="2020.5" font-size="30.3" text-anchor="middle" font-weight="bold" fill="#000" letter-spacing="0.6">B6WT</text>
<text x="276.3" y="2059.7" font-size="30.3" text-anchor="middle" font-weight="bold" fill="#000" letter-spacing="1.2">25&#176;C</text>
<text x="428.8" y="2023.8" font-size="30.3" text-anchor="middle" font-weight="bold" fill="#000" letter-spacing="0.6">B6WT</text>
<text x="426.4" y="2059.7" font-size="30.3" text-anchor="middle" font-weight="bold" fill="#000" letter-spacing="1.2">4&#176;C</text>
<text x="579.3" y="2023.8" font-size="30.3" text-anchor="middle" font-weight="bold" fill="#000" letter-spacing="0.6">129WT</text>
<text x="582.0" y="2059.7" font-size="30.3" text-anchor="middle" font-weight="bold" fill="#000" letter-spacing="1.2">4&#176;C</text>
<text x="746.6" y="2022.6" font-size="30.3" text-anchor="middle" font-weight="bold" fill="#000" letter-spacing="0.6">filensin KO</text>
<text x="737.4" y="2059.7" font-size="30.3" text-anchor="middle" font-weight="bold" fill="#000" letter-spacing="1.2">4&#176;C</text>
</svg>
</body></html>
